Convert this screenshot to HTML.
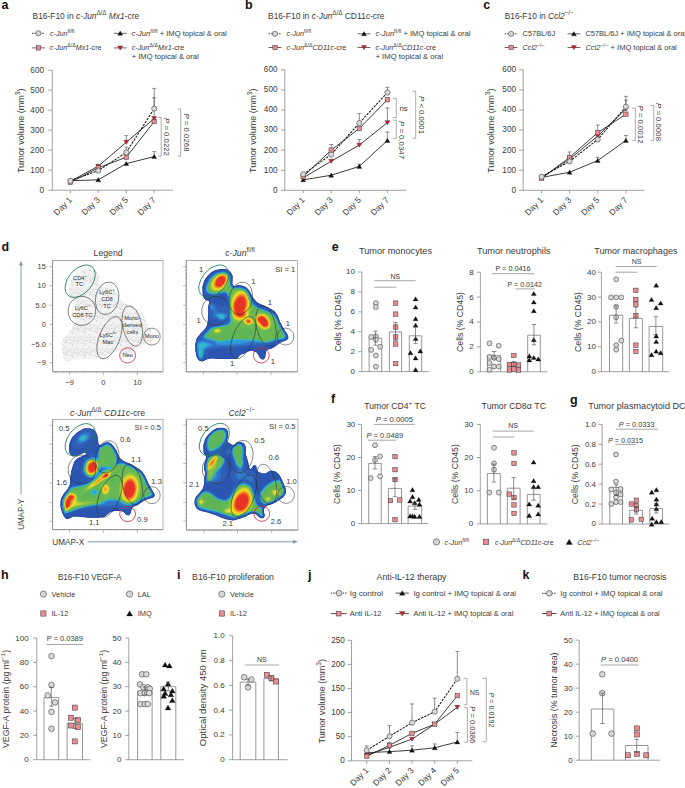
<!DOCTYPE html>
<html><head><meta charset="utf-8"><style>
html,body{margin:0;padding:0;background:#fff;width:685px;height:788px;overflow:hidden;}
svg{display:block;}
svg{fill:#3a3a3a;}
text{font-family:"Liberation Sans", sans-serif;}
</style></head><body>
<svg width="685" height="788" viewBox="0 0 685 788">
<rect width="685" height="788" fill="#fff"/>
<text x="1.40" y="9.20" font-size="12.5" font-weight="bold" fill="#111" >a</text>
<text x="32.60" y="19.00" font-size="8.8" textLength="106.50" lengthAdjust="spacingAndGlyphs" >B16-F10 in <tspan font-style="italic">c-Jun</tspan><tspan baseline-shift="0.62em" font-size="74%">Δ/Δ</tspan> <tspan font-style="italic">Mx1</tspan>-cre</text>
<line x1="32.00" y1="33.30" x2="44.80" y2="33.30" stroke="#222" stroke-width="0.9" stroke-dasharray="1.5,1.1"/>
<circle cx="38.40" cy="33.30" r="2.60" fill="#d8d8d8" stroke="#333333" stroke-width="0.55"/>
<text x="49.90" y="35.60" font-size="7.2" ><tspan font-style="italic">c-Jun</tspan><tspan baseline-shift="0.62em" font-size="74%">fl/fl</tspan></text>
<line x1="32.00" y1="47.90" x2="44.80" y2="47.90" stroke="#555" stroke-width="0.9" />
<rect x="36.20" y="45.70" width="4.40" height="4.40" fill="#e98c91" stroke="#333333" stroke-width="0.5"/>
<text x="49.90" y="50.20" font-size="7.2" textLength="51.60" lengthAdjust="spacingAndGlyphs" ><tspan font-style="italic">c-Jun</tspan><tspan baseline-shift="0.62em" font-size="74%">Δ/Δ</tspan><tspan font-style="italic">Mx1</tspan>-cre</text>
<line x1="113.80" y1="33.30" x2="126.60" y2="33.30" stroke="#555" stroke-width="0.9" />
<path d="M120.20,31.10 L122.70,35.28 L117.70,35.28 Z" fill="#111" stroke="#111" stroke-width="0.3"/>
<text x="131.70" y="35.60" font-size="7.2" textLength="95.00" lengthAdjust="spacingAndGlyphs" ><tspan font-style="italic">c-Jun</tspan><tspan baseline-shift="0.62em" font-size="74%">fl/fl</tspan> + IMQ topical &amp; oral</text>
<line x1="113.80" y1="47.90" x2="126.60" y2="47.90" stroke="#555" stroke-width="0.9" />
<path d="M120.20,50.10 L122.70,45.92 L117.70,45.92 Z" fill="#d7192a" stroke="#333" stroke-width="0.4"/>
<text x="131.70" y="50.20" font-size="7.2" textLength="52.50" lengthAdjust="spacingAndGlyphs" ><tspan font-style="italic">c-Jun</tspan><tspan baseline-shift="0.62em" font-size="74%">Δ/Δ</tspan><tspan font-style="italic">Mx1</tspan>-cre</text>
<text x="131.70" y="59.00" font-size="7.2" textLength="67.10" lengthAdjust="spacingAndGlyphs" >+ IMQ topical &amp; oral</text>
<text x="24.00" y="130.80" font-size="8.8" text-anchor="middle" textLength="84.50" lengthAdjust="spacingAndGlyphs" transform="rotate(-90 24.00 130.80)" >Tumor volume (mm<tspan baseline-shift="0.62em" font-size="74%">3</tspan>)</text>
<line x1="52.30" y1="70.20" x2="52.30" y2="190.20" stroke="#7a7a7a" stroke-width="0.7" />
<line x1="48.30" y1="190.20" x2="52.30" y2="190.20" stroke="#7a7a7a" stroke-width="0.7" />
<text x="44.00" y="192.60" font-size="8.2" text-anchor="end" >0</text>
<line x1="48.30" y1="170.20" x2="52.30" y2="170.20" stroke="#7a7a7a" stroke-width="0.7" />
<text x="44.00" y="172.60" font-size="8.2" text-anchor="end" >100</text>
<line x1="48.30" y1="150.20" x2="52.30" y2="150.20" stroke="#7a7a7a" stroke-width="0.7" />
<text x="44.00" y="152.60" font-size="8.2" text-anchor="end" >200</text>
<line x1="48.30" y1="130.20" x2="52.30" y2="130.20" stroke="#7a7a7a" stroke-width="0.7" />
<text x="44.00" y="132.60" font-size="8.2" text-anchor="end" >300</text>
<line x1="48.30" y1="110.20" x2="52.30" y2="110.20" stroke="#7a7a7a" stroke-width="0.7" />
<text x="44.00" y="112.60" font-size="8.2" text-anchor="end" >400</text>
<line x1="48.30" y1="90.20" x2="52.30" y2="90.20" stroke="#7a7a7a" stroke-width="0.7" />
<text x="44.00" y="92.60" font-size="8.2" text-anchor="end" >500</text>
<line x1="48.30" y1="70.20" x2="52.30" y2="70.20" stroke="#7a7a7a" stroke-width="0.7" />
<text x="44.00" y="72.60" font-size="8.2" text-anchor="end" >600</text>
<line x1="52.30" y1="190.20" x2="173.00" y2="190.20" stroke="#7a7a7a" stroke-width="0.7" />
<line x1="70.40" y1="190.20" x2="70.40" y2="193.20" stroke="#7a7a7a" stroke-width="0.7" />
<text x="72.60" y="200.40" font-size="8.4" text-anchor="end" transform="rotate(-45 72.60 200.40)" >Day 1</text>
<line x1="98.30" y1="190.20" x2="98.30" y2="193.20" stroke="#7a7a7a" stroke-width="0.7" />
<text x="100.50" y="200.40" font-size="8.4" text-anchor="end" transform="rotate(-45 100.50 200.40)" >Day 3</text>
<line x1="126.30" y1="190.20" x2="126.30" y2="193.20" stroke="#7a7a7a" stroke-width="0.7" />
<text x="128.50" y="200.40" font-size="8.4" text-anchor="end" transform="rotate(-45 128.50 200.40)" >Day 5</text>
<line x1="154.20" y1="190.20" x2="154.20" y2="193.20" stroke="#7a7a7a" stroke-width="0.7" />
<text x="156.40" y="200.40" font-size="8.4" text-anchor="end" transform="rotate(-45 156.40 200.40)" >Day 7</text>
<line x1="154.20" y1="156.60" x2="154.20" y2="151.60" stroke="#444" stroke-width="0.6" />
<line x1="152.20" y1="151.60" x2="156.20" y2="151.60" stroke="#444" stroke-width="0.6" />
<line x1="126.30" y1="142.20" x2="126.30" y2="135.60" stroke="#444" stroke-width="0.6" />
<line x1="124.30" y1="135.60" x2="128.30" y2="135.60" stroke="#444" stroke-width="0.6" />
<line x1="154.20" y1="121.60" x2="154.20" y2="97.80" stroke="#444" stroke-width="0.6" />
<line x1="152.20" y1="97.80" x2="156.20" y2="97.80" stroke="#444" stroke-width="0.6" />
<line x1="126.30" y1="152.40" x2="126.30" y2="147.20" stroke="#444" stroke-width="0.6" />
<line x1="124.30" y1="147.20" x2="128.30" y2="147.20" stroke="#444" stroke-width="0.6" />
<line x1="154.20" y1="108.60" x2="154.20" y2="88.40" stroke="#444" stroke-width="0.6" />
<line x1="152.20" y1="88.40" x2="156.20" y2="88.40" stroke="#444" stroke-width="0.6" />
<polyline points="70.40,180.80 98.30,179.80 126.30,163.60 154.20,156.60" fill="none" stroke="#1a1a1a" stroke-width="0.85" />
<polyline points="70.40,181.20 98.30,166.20 126.30,142.20 154.20,118.60" fill="none" stroke="#1a1a1a" stroke-width="0.85" />
<polyline points="70.40,182.40 98.30,167.80 126.30,157.20 154.20,121.60" fill="none" stroke="#1a1a1a" stroke-width="0.85" />
<polyline points="70.40,180.80 98.30,170.60 126.30,152.40 154.20,108.60" fill="none" stroke="#1a1a1a" stroke-width="1.05" stroke-dasharray="2.4,1.1"/>
<path d="M70.40,178.60 L72.90,182.78 L67.90,182.78 Z" fill="#111" stroke="#111" stroke-width="0.3"/>
<path d="M98.30,177.60 L100.80,181.78 L95.80,181.78 Z" fill="#111" stroke="#111" stroke-width="0.3"/>
<path d="M126.30,161.40 L128.80,165.58 L123.80,165.58 Z" fill="#111" stroke="#111" stroke-width="0.3"/>
<path d="M154.20,154.40 L156.70,158.58 L151.70,158.58 Z" fill="#111" stroke="#111" stroke-width="0.3"/>
<path d="M70.40,183.40 L72.90,179.22 L67.90,179.22 Z" fill="#d7192a" stroke="#333" stroke-width="0.4"/>
<path d="M98.30,168.40 L100.80,164.22 L95.80,164.22 Z" fill="#d7192a" stroke="#333" stroke-width="0.4"/>
<path d="M126.30,144.40 L128.80,140.22 L123.80,140.22 Z" fill="#d7192a" stroke="#333" stroke-width="0.4"/>
<path d="M154.20,120.80 L156.70,116.62 L151.70,116.62 Z" fill="#d7192a" stroke="#333" stroke-width="0.4"/>
<rect x="68.20" y="180.20" width="4.40" height="4.40" fill="#e98c91" stroke="#333333" stroke-width="0.5"/>
<rect x="96.10" y="165.60" width="4.40" height="4.40" fill="#e98c91" stroke="#333333" stroke-width="0.5"/>
<rect x="124.10" y="155.00" width="4.40" height="4.40" fill="#e98c91" stroke="#333333" stroke-width="0.5"/>
<rect x="152.00" y="119.40" width="4.40" height="4.40" fill="#e98c91" stroke="#333333" stroke-width="0.5"/>
<circle cx="70.40" cy="180.80" r="2.60" fill="#d8d8d8" stroke="#333333" stroke-width="0.55"/>
<circle cx="98.30" cy="170.60" r="2.60" fill="#d8d8d8" stroke="#333333" stroke-width="0.55"/>
<circle cx="126.30" cy="152.40" r="2.60" fill="#d8d8d8" stroke="#333333" stroke-width="0.55"/>
<circle cx="154.20" cy="108.60" r="2.60" fill="#d8d8d8" stroke="#333333" stroke-width="0.55"/>
<path d="M158.00,117.60 H161.20 V156.10 H158.00" fill="none" stroke="#888" stroke-width="0.7"/>
<path d="M177.50,109.00 H180.70 V156.10 H177.50" fill="none" stroke="#888" stroke-width="0.7"/>
<text x="164.40" y="137.00" font-size="7.8" text-anchor="middle" transform="rotate(90 164.40 137.00)" ><tspan font-style="italic">P</tspan> = 0.0222</text>
<text x="184.30" y="132.50" font-size="7.8" text-anchor="middle" transform="rotate(90 184.30 132.50)" ><tspan font-style="italic">P</tspan> = 0.0268</text>
<text x="245.00" y="9.20" font-size="12.5" font-weight="bold" fill="#111" >b</text>
<text x="268.00" y="19.00" font-size="8.8" textLength="116.50" lengthAdjust="spacingAndGlyphs" >B16-F10 in <tspan font-style="italic">c-Jun</tspan><tspan baseline-shift="0.62em" font-size="74%">Δ/Δ</tspan> CD11c-cre</text>
<line x1="268.60" y1="33.80" x2="281.40" y2="33.80" stroke="#222" stroke-width="0.9" stroke-dasharray="1.5,1.1"/>
<circle cx="275.00" cy="33.80" r="2.60" fill="#d8d8d8" stroke="#333333" stroke-width="0.55"/>
<text x="286.50" y="36.10" font-size="7.2" ><tspan font-style="italic">c-Jun</tspan><tspan baseline-shift="0.62em" font-size="74%">fl/fl</tspan></text>
<line x1="268.60" y1="47.50" x2="281.40" y2="47.50" stroke="#555" stroke-width="0.9" />
<rect x="272.80" y="45.30" width="4.40" height="4.40" fill="#e98c91" stroke="#333333" stroke-width="0.5"/>
<text x="286.50" y="49.80" font-size="7.2" textLength="59.80" lengthAdjust="spacingAndGlyphs" ><tspan font-style="italic">c-Jun</tspan><tspan baseline-shift="0.62em" font-size="74%">Δ/Δ</tspan><tspan font-style="italic">CD11c</tspan>-cre</text>
<line x1="357.60" y1="33.80" x2="370.40" y2="33.80" stroke="#555" stroke-width="0.9" />
<path d="M364.00,31.60 L366.50,35.78 L361.50,35.78 Z" fill="#111" stroke="#111" stroke-width="0.3"/>
<text x="375.50" y="36.10" font-size="7.2" textLength="95.00" lengthAdjust="spacingAndGlyphs" ><tspan font-style="italic">c-Jun</tspan><tspan baseline-shift="0.62em" font-size="74%">fl/fl</tspan> + IMQ topical &amp; oral</text>
<line x1="357.60" y1="47.50" x2="370.40" y2="47.50" stroke="#555" stroke-width="0.9" />
<path d="M364.00,49.70 L366.50,45.52 L361.50,45.52 Z" fill="#d7192a" stroke="#333" stroke-width="0.4"/>
<text x="375.50" y="49.80" font-size="7.2" textLength="60.50" lengthAdjust="spacingAndGlyphs" ><tspan font-style="italic">c-Jun</tspan><tspan baseline-shift="0.62em" font-size="74%">Δ/Δ</tspan><tspan font-style="italic">CD11c</tspan>-cre</text>
<text x="375.50" y="59.30" font-size="7.2" textLength="67.60" lengthAdjust="spacingAndGlyphs" >+ IMQ topical &amp; oral</text>
<text x="256.50" y="130.65" font-size="8.8" text-anchor="middle" textLength="84.50" lengthAdjust="spacingAndGlyphs" transform="rotate(-90 256.50 130.65)" >Tumor volume (mm<tspan baseline-shift="0.62em" font-size="74%">3</tspan>)</text>
<line x1="284.80" y1="69.80" x2="284.80" y2="190.30" stroke="#7a7a7a" stroke-width="0.7" />
<line x1="280.80" y1="190.30" x2="284.80" y2="190.30" stroke="#7a7a7a" stroke-width="0.7" />
<text x="277.50" y="192.70" font-size="8.2" text-anchor="end" >0</text>
<line x1="280.80" y1="170.22" x2="284.80" y2="170.22" stroke="#7a7a7a" stroke-width="0.7" />
<text x="277.50" y="172.62" font-size="8.2" text-anchor="end" >100</text>
<line x1="280.80" y1="150.13" x2="284.80" y2="150.13" stroke="#7a7a7a" stroke-width="0.7" />
<text x="277.50" y="152.53" font-size="8.2" text-anchor="end" >200</text>
<line x1="280.80" y1="130.05" x2="284.80" y2="130.05" stroke="#7a7a7a" stroke-width="0.7" />
<text x="277.50" y="132.45" font-size="8.2" text-anchor="end" >300</text>
<line x1="280.80" y1="109.97" x2="284.80" y2="109.97" stroke="#7a7a7a" stroke-width="0.7" />
<text x="277.50" y="112.37" font-size="8.2" text-anchor="end" >400</text>
<line x1="280.80" y1="89.88" x2="284.80" y2="89.88" stroke="#7a7a7a" stroke-width="0.7" />
<text x="277.50" y="92.28" font-size="8.2" text-anchor="end" >500</text>
<line x1="280.80" y1="69.80" x2="284.80" y2="69.80" stroke="#7a7a7a" stroke-width="0.7" />
<text x="277.50" y="72.20" font-size="8.2" text-anchor="end" >600</text>
<line x1="284.80" y1="190.30" x2="406.30" y2="190.30" stroke="#7a7a7a" stroke-width="0.7" />
<line x1="303.20" y1="190.30" x2="303.20" y2="193.30" stroke="#7a7a7a" stroke-width="0.7" />
<text x="305.40" y="200.50" font-size="8.4" text-anchor="end" transform="rotate(-45 305.40 200.50)" >Day 1</text>
<line x1="331.20" y1="190.30" x2="331.20" y2="193.30" stroke="#7a7a7a" stroke-width="0.7" />
<text x="333.40" y="200.50" font-size="8.4" text-anchor="end" transform="rotate(-45 333.40 200.50)" >Day 3</text>
<line x1="359.30" y1="190.30" x2="359.30" y2="193.30" stroke="#7a7a7a" stroke-width="0.7" />
<text x="361.50" y="200.50" font-size="8.4" text-anchor="end" transform="rotate(-45 361.50 200.50)" >Day 5</text>
<line x1="387.40" y1="190.30" x2="387.40" y2="193.30" stroke="#7a7a7a" stroke-width="0.7" />
<text x="389.60" y="200.50" font-size="8.4" text-anchor="end" transform="rotate(-45 389.60 200.50)" >Day 7</text>
<line x1="359.30" y1="166.40" x2="359.30" y2="164.19" stroke="#444" stroke-width="0.6" />
<line x1="357.30" y1="164.19" x2="361.30" y2="164.19" stroke="#444" stroke-width="0.6" />
<line x1="387.40" y1="140.49" x2="387.40" y2="132.06" stroke="#444" stroke-width="0.6" />
<line x1="385.40" y1="132.06" x2="389.40" y2="132.06" stroke="#444" stroke-width="0.6" />
<line x1="359.30" y1="145.11" x2="359.30" y2="139.49" stroke="#444" stroke-width="0.6" />
<line x1="357.30" y1="139.49" x2="361.30" y2="139.49" stroke="#444" stroke-width="0.6" />
<line x1="387.40" y1="122.62" x2="387.40" y2="107.96" stroke="#444" stroke-width="0.6" />
<line x1="385.40" y1="107.96" x2="389.40" y2="107.96" stroke="#444" stroke-width="0.6" />
<line x1="331.20" y1="150.13" x2="331.20" y2="144.51" stroke="#444" stroke-width="0.6" />
<line x1="329.20" y1="144.51" x2="333.20" y2="144.51" stroke="#444" stroke-width="0.6" />
<line x1="359.30" y1="123.02" x2="359.30" y2="113.58" stroke="#444" stroke-width="0.6" />
<line x1="357.30" y1="113.58" x2="361.30" y2="113.58" stroke="#444" stroke-width="0.6" />
<line x1="387.40" y1="92.49" x2="387.40" y2="87.27" stroke="#444" stroke-width="0.6" />
<line x1="385.40" y1="87.27" x2="389.40" y2="87.27" stroke="#444" stroke-width="0.6" />
<polyline points="303.20,179.86 331.20,175.24 359.30,166.40 387.40,140.49" fill="none" stroke="#1a1a1a" stroke-width="0.85" />
<polyline points="303.20,177.85 331.20,161.18 359.30,145.11 387.40,122.62" fill="none" stroke="#1a1a1a" stroke-width="0.85" />
<polyline points="303.20,176.64 331.20,150.13 359.30,128.44 387.40,99.72" fill="none" stroke="#1a1a1a" stroke-width="0.85" />
<polyline points="303.20,174.23 331.20,154.55 359.30,123.02 387.40,92.49" fill="none" stroke="#1a1a1a" stroke-width="1.05" stroke-dasharray="2.4,1.1"/>
<path d="M303.20,177.66 L305.70,181.84 L300.70,181.84 Z" fill="#111" stroke="#111" stroke-width="0.3"/>
<path d="M331.20,173.04 L333.70,177.22 L328.70,177.22 Z" fill="#111" stroke="#111" stroke-width="0.3"/>
<path d="M359.30,164.20 L361.80,168.38 L356.80,168.38 Z" fill="#111" stroke="#111" stroke-width="0.3"/>
<path d="M387.40,138.29 L389.90,142.47 L384.90,142.47 Z" fill="#111" stroke="#111" stroke-width="0.3"/>
<path d="M303.20,180.05 L305.70,175.87 L300.70,175.87 Z" fill="#d7192a" stroke="#333" stroke-width="0.4"/>
<path d="M331.20,163.38 L333.70,159.20 L328.70,159.20 Z" fill="#d7192a" stroke="#333" stroke-width="0.4"/>
<path d="M359.30,147.31 L361.80,143.13 L356.80,143.13 Z" fill="#d7192a" stroke="#333" stroke-width="0.4"/>
<path d="M387.40,124.82 L389.90,120.64 L384.90,120.64 Z" fill="#d7192a" stroke="#333" stroke-width="0.4"/>
<rect x="301.00" y="174.44" width="4.40" height="4.40" fill="#e98c91" stroke="#333333" stroke-width="0.5"/>
<rect x="329.00" y="147.93" width="4.40" height="4.40" fill="#e98c91" stroke="#333333" stroke-width="0.5"/>
<rect x="357.10" y="126.24" width="4.40" height="4.40" fill="#e98c91" stroke="#333333" stroke-width="0.5"/>
<rect x="385.20" y="97.52" width="4.40" height="4.40" fill="#e98c91" stroke="#333333" stroke-width="0.5"/>
<circle cx="303.20" cy="174.23" r="2.60" fill="#d8d8d8" stroke="#333333" stroke-width="0.55"/>
<circle cx="331.20" cy="154.55" r="2.60" fill="#d8d8d8" stroke="#333333" stroke-width="0.55"/>
<circle cx="359.30" cy="123.02" r="2.60" fill="#d8d8d8" stroke="#333333" stroke-width="0.55"/>
<circle cx="387.40" cy="92.49" r="2.60" fill="#d8d8d8" stroke="#333333" stroke-width="0.55"/>
<path d="M393.10,98.40 H396.30 V117.50 H393.10" fill="none" stroke="#888" stroke-width="0.7"/>
<text x="399.50" y="111.00" font-size="7.8" >ns</text>
<path d="M393.10,120.20 H396.30 V138.30 H393.10" fill="none" stroke="#888" stroke-width="0.7"/>
<path d="M412.50,91.30 H415.70 V138.30 H412.50" fill="none" stroke="#888" stroke-width="0.7"/>
<text x="399.00" y="140.00" font-size="7.8" text-anchor="middle" transform="rotate(90 399.00 140.00)" ><tspan font-style="italic">P</tspan> = 0.0347</text>
<text x="419.00" y="115.00" font-size="7.8" text-anchor="middle" transform="rotate(90 419.00 115.00)" ><tspan font-style="italic">P</tspan> &lt; 0.0001</text>
<text x="483.30" y="9.20" font-size="12.5" font-weight="bold" fill="#111" >c</text>
<text x="504.70" y="19.00" font-size="8.8" textLength="69.00" lengthAdjust="spacingAndGlyphs" >B16-F10 in <tspan font-style="italic">Ccl2</tspan><tspan baseline-shift="0.62em" font-size="74%">−/−</tspan></text>
<line x1="504.70" y1="33.80" x2="517.50" y2="33.80" stroke="#222" stroke-width="0.9" stroke-dasharray="1.5,1.1"/>
<circle cx="511.10" cy="33.80" r="2.60" fill="#d8d8d8" stroke="#333333" stroke-width="0.55"/>
<text x="522.60" y="36.10" font-size="7.2" textLength="32.50" lengthAdjust="spacingAndGlyphs" >C57BL/6J</text>
<line x1="504.70" y1="47.50" x2="517.50" y2="47.50" stroke="#555" stroke-width="0.9" />
<rect x="508.90" y="45.30" width="4.40" height="4.40" fill="#e98c91" stroke="#333333" stroke-width="0.5"/>
<text x="522.60" y="49.80" font-size="7.2" ><tspan font-style="italic">Ccl2</tspan><tspan baseline-shift="0.62em" font-size="74%">−/−</tspan></text>
<line x1="567.50" y1="33.80" x2="580.30" y2="33.80" stroke="#555" stroke-width="0.9" />
<path d="M573.90,31.60 L576.40,35.78 L571.40,35.78 Z" fill="#111" stroke="#111" stroke-width="0.3"/>
<text x="585.40" y="36.10" font-size="7.2" textLength="100.70" lengthAdjust="spacingAndGlyphs" >C57BL/6J + IMQ topical &amp; oral</text>
<line x1="567.50" y1="47.50" x2="580.30" y2="47.50" stroke="#555" stroke-width="0.9" />
<path d="M573.90,49.70 L576.40,45.52 L571.40,45.52 Z" fill="#d7192a" stroke="#333" stroke-width="0.4"/>
<text x="585.40" y="49.80" font-size="7.2" textLength="91.40" lengthAdjust="spacingAndGlyphs" ><tspan font-style="italic">Ccl2</tspan><tspan baseline-shift="0.62em" font-size="74%">−/−</tspan> + IMQ topical &amp; oral</text>
<text x="494.50" y="130.65" font-size="8.8" text-anchor="middle" textLength="84.50" lengthAdjust="spacingAndGlyphs" transform="rotate(-90 494.50 130.65)" >Tumor volume (mm<tspan baseline-shift="0.62em" font-size="74%">3</tspan>)</text>
<line x1="523.20" y1="69.80" x2="523.20" y2="190.30" stroke="#7a7a7a" stroke-width="0.7" />
<line x1="519.20" y1="190.30" x2="523.20" y2="190.30" stroke="#7a7a7a" stroke-width="0.7" />
<text x="516.00" y="192.70" font-size="8.2" text-anchor="end" >0</text>
<line x1="519.20" y1="170.22" x2="523.20" y2="170.22" stroke="#7a7a7a" stroke-width="0.7" />
<text x="516.00" y="172.62" font-size="8.2" text-anchor="end" >100</text>
<line x1="519.20" y1="150.13" x2="523.20" y2="150.13" stroke="#7a7a7a" stroke-width="0.7" />
<text x="516.00" y="152.53" font-size="8.2" text-anchor="end" >200</text>
<line x1="519.20" y1="130.05" x2="523.20" y2="130.05" stroke="#7a7a7a" stroke-width="0.7" />
<text x="516.00" y="132.45" font-size="8.2" text-anchor="end" >300</text>
<line x1="519.20" y1="109.97" x2="523.20" y2="109.97" stroke="#7a7a7a" stroke-width="0.7" />
<text x="516.00" y="112.37" font-size="8.2" text-anchor="end" >400</text>
<line x1="519.20" y1="89.88" x2="523.20" y2="89.88" stroke="#7a7a7a" stroke-width="0.7" />
<text x="516.00" y="92.28" font-size="8.2" text-anchor="end" >500</text>
<line x1="519.20" y1="69.80" x2="523.20" y2="69.80" stroke="#7a7a7a" stroke-width="0.7" />
<text x="516.00" y="72.20" font-size="8.2" text-anchor="end" >600</text>
<line x1="523.20" y1="190.30" x2="644.70" y2="190.30" stroke="#7a7a7a" stroke-width="0.7" />
<line x1="541.60" y1="190.30" x2="541.60" y2="193.30" stroke="#7a7a7a" stroke-width="0.7" />
<text x="543.80" y="200.50" font-size="8.4" text-anchor="end" transform="rotate(-45 543.80 200.50)" >Day 1</text>
<line x1="569.60" y1="190.30" x2="569.60" y2="193.30" stroke="#7a7a7a" stroke-width="0.7" />
<text x="571.80" y="200.50" font-size="8.4" text-anchor="end" transform="rotate(-45 571.80 200.50)" >Day 3</text>
<line x1="597.70" y1="190.30" x2="597.70" y2="193.30" stroke="#7a7a7a" stroke-width="0.7" />
<text x="599.90" y="200.50" font-size="8.4" text-anchor="end" transform="rotate(-45 599.90 200.50)" >Day 5</text>
<line x1="625.90" y1="190.30" x2="625.90" y2="193.30" stroke="#7a7a7a" stroke-width="0.7" />
<text x="628.10" y="200.50" font-size="8.4" text-anchor="end" transform="rotate(-45 628.10 200.50)" >Day 7</text>
<line x1="597.70" y1="160.58" x2="597.70" y2="157.36" stroke="#444" stroke-width="0.6" />
<line x1="595.70" y1="157.36" x2="599.70" y2="157.36" stroke="#444" stroke-width="0.6" />
<line x1="625.90" y1="140.49" x2="625.90" y2="135.47" stroke="#444" stroke-width="0.6" />
<line x1="623.90" y1="135.47" x2="627.90" y2="135.47" stroke="#444" stroke-width="0.6" />
<line x1="625.90" y1="108.96" x2="625.90" y2="100.13" stroke="#444" stroke-width="0.6" />
<line x1="623.90" y1="100.13" x2="627.90" y2="100.13" stroke="#444" stroke-width="0.6" />
<line x1="569.60" y1="157.36" x2="569.60" y2="151.94" stroke="#444" stroke-width="0.6" />
<line x1="567.60" y1="151.94" x2="571.60" y2="151.94" stroke="#444" stroke-width="0.6" />
<line x1="597.70" y1="132.66" x2="597.70" y2="125.03" stroke="#444" stroke-width="0.6" />
<line x1="595.70" y1="125.03" x2="599.70" y2="125.03" stroke="#444" stroke-width="0.6" />
<line x1="625.90" y1="106.75" x2="625.90" y2="96.31" stroke="#444" stroke-width="0.6" />
<line x1="623.90" y1="96.31" x2="627.90" y2="96.31" stroke="#444" stroke-width="0.6" />
<polyline points="541.60,177.45 569.60,172.23 597.70,160.58 625.90,140.49" fill="none" stroke="#1a1a1a" stroke-width="0.85" />
<polyline points="541.60,177.85 569.60,159.17 597.70,136.07 625.90,108.96" fill="none" stroke="#1a1a1a" stroke-width="0.85" />
<polyline points="541.60,178.25 569.60,157.36 597.70,132.66 625.90,114.18" fill="none" stroke="#1a1a1a" stroke-width="0.85" />
<polyline points="541.60,176.64 569.60,161.38 597.70,139.49 625.90,106.75" fill="none" stroke="#1a1a1a" stroke-width="1.05" stroke-dasharray="2.4,1.1"/>
<path d="M541.60,175.25 L544.10,179.43 L539.10,179.43 Z" fill="#111" stroke="#111" stroke-width="0.3"/>
<path d="M569.60,170.03 L572.10,174.21 L567.10,174.21 Z" fill="#111" stroke="#111" stroke-width="0.3"/>
<path d="M597.70,158.38 L600.20,162.56 L595.20,162.56 Z" fill="#111" stroke="#111" stroke-width="0.3"/>
<path d="M625.90,138.29 L628.40,142.47 L623.40,142.47 Z" fill="#111" stroke="#111" stroke-width="0.3"/>
<path d="M541.60,180.05 L544.10,175.87 L539.10,175.87 Z" fill="#d7192a" stroke="#333" stroke-width="0.4"/>
<path d="M569.60,161.37 L572.10,157.19 L567.10,157.19 Z" fill="#d7192a" stroke="#333" stroke-width="0.4"/>
<path d="M597.70,138.27 L600.20,134.09 L595.20,134.09 Z" fill="#d7192a" stroke="#333" stroke-width="0.4"/>
<path d="M625.90,111.16 L628.40,106.98 L623.40,106.98 Z" fill="#d7192a" stroke="#333" stroke-width="0.4"/>
<rect x="539.40" y="176.05" width="4.40" height="4.40" fill="#e98c91" stroke="#333333" stroke-width="0.5"/>
<rect x="567.40" y="155.16" width="4.40" height="4.40" fill="#e98c91" stroke="#333333" stroke-width="0.5"/>
<rect x="595.50" y="130.46" width="4.40" height="4.40" fill="#e98c91" stroke="#333333" stroke-width="0.5"/>
<rect x="623.70" y="111.98" width="4.40" height="4.40" fill="#e98c91" stroke="#333333" stroke-width="0.5"/>
<circle cx="541.60" cy="176.64" r="2.60" fill="#d8d8d8" stroke="#333333" stroke-width="0.55"/>
<circle cx="569.60" cy="161.38" r="2.60" fill="#d8d8d8" stroke="#333333" stroke-width="0.55"/>
<circle cx="597.70" cy="139.49" r="2.60" fill="#d8d8d8" stroke="#333333" stroke-width="0.55"/>
<circle cx="625.90" cy="106.75" r="2.60" fill="#d8d8d8" stroke="#333333" stroke-width="0.55"/>
<path d="M632.10,108.10 H635.30 V140.40 H632.10" fill="none" stroke="#888" stroke-width="0.7"/>
<path d="M650.60,105.40 H653.80 V140.30 H650.60" fill="none" stroke="#888" stroke-width="0.7"/>
<text x="637.80" y="124.50" font-size="7.8" text-anchor="middle" transform="rotate(90 637.80 124.50)" ><tspan font-style="italic">P</tspan> = 0.0012</text>
<text x="656.30" y="122.00" font-size="7.8" text-anchor="middle" transform="rotate(90 656.30 122.00)" ><tspan font-style="italic">P</tspan> = 0.0008</text>
<text x="1.50" y="251.00" font-size="12.5" font-weight="bold" fill="#111" >d</text>
<defs><pattern id="stip" width="12" height="12" patternUnits="userSpaceOnUse"><rect width="12" height="12" fill="#f3f3f3"/><circle cx="3.9" cy="1.8" r="0.53" fill="#c6c6c6"/><circle cx="9.9" cy="1.1" r="0.52" fill="#b4b4b4"/><circle cx="2.6" cy="1.0" r="0.48" fill="#c0c0c0"/><circle cx="1.1" cy="5.1" r="0.57" fill="#c6c6c6"/><circle cx="11.4" cy="7.6" r="0.52" fill="#c6c6c6"/><circle cx="6.9" cy="4.8" r="0.60" fill="#c6c6c6"/><circle cx="6.7" cy="1.6" r="0.48" fill="#b4b4b4"/><circle cx="1.4" cy="3.7" r="0.56" fill="#c0c0c0"/><circle cx="1.2" cy="6.9" r="0.44" fill="#c6c6c6"/><circle cx="6.6" cy="0.8" r="0.41" fill="#c0c0c0"/><circle cx="6.0" cy="6.4" r="0.56" fill="#cccccc"/><circle cx="7.0" cy="5.4" r="0.46" fill="#c0c0c0"/><circle cx="8.4" cy="2.9" r="0.51" fill="#b4b4b4"/><circle cx="5.9" cy="4.1" r="0.49" fill="#b4b4b4"/><circle cx="11.8" cy="1.4" r="0.48" fill="#c6c6c6"/><circle cx="1.8" cy="5.9" r="0.41" fill="#c6c6c6"/><circle cx="9.2" cy="6.9" r="0.58" fill="#c6c6c6"/><circle cx="4.1" cy="4.2" r="0.50" fill="#cccccc"/><circle cx="0.8" cy="1.1" r="0.45" fill="#c6c6c6"/><circle cx="0.7" cy="8.4" r="0.53" fill="#cccccc"/><circle cx="3.4" cy="4.6" r="0.53" fill="#c6c6c6"/><circle cx="11.3" cy="4.3" r="0.52" fill="#cccccc"/><circle cx="0.7" cy="9.2" r="0.43" fill="#c0c0c0"/><circle cx="4.8" cy="11.0" r="0.50" fill="#c0c0c0"/><circle cx="5.4" cy="6.6" r="0.58" fill="#cccccc"/><circle cx="10.4" cy="3.3" r="0.48" fill="#c6c6c6"/></pattern><filter id="sm" x="-5%" y="-5%" width="110%" height="110%"><feGaussianBlur stdDeviation="0.35"/></filter></defs>
<path d="M69.1,294.3 68.7,287.0 71.1,279.6 76.0,273.9 81.7,270.2 87.5,269.0 93.2,269.4 97.3,272.3 99.3,276.4 98.9,280.4 98.5,283.7 99.3,286.2 100.8,286.5 103.3,285.3 106.3,285.3 109.7,286.2 113.1,287.9 116.5,292.2 119.0,297.3 123.2,302.3 128.3,304.9 134.3,307.4 140.2,310.5 143.6,315.0 146.1,321.3 148.6,326.4 151.2,330.6 153.7,334.4 155.0,337.4 154.1,339.9 151.2,341.2 146.9,342.5 143.6,345.0 140.2,347.6 135.9,349.3 133.0,349.7 132.1,352.6 131.7,357.7 129.2,360.3 126.6,358.6 124.5,354.3 122.4,351.8 119.0,351.0 114.8,351.4 110.5,353.5 106.3,355.2 103.1,359.4 98.0,359.0 92.1,359.4 86.2,359.0 77.7,358.4 73.5,359.4 69.2,361.5 65.8,361.1 63.3,357.7 62.0,351.0 61.6,344.2 63.3,338.2 67.5,333.2 71.8,328.9 73.9,324.7 74.5,318.8 74.7,312.0 74.8,306.0 76.0,302.0 77.6,301.3 74.3,300.5 71.9,300.0 69.8,297.5Z" fill="url(#stip)"/>
<rect x="52.60" y="260.50" width="110.40" height="111.30" fill="none" stroke="#a8a8a8" stroke-width="0.9"/>
<line x1="52.60" y1="260.50" x2="52.60" y2="371.80" stroke="#8a8a8a" stroke-width="0.8" />
<line x1="52.60" y1="371.80" x2="163.00" y2="371.80" stroke="#8a8a8a" stroke-width="0.8" />
<line x1="49.40" y1="266.70" x2="52.60" y2="266.70" stroke="#8a8a8a" stroke-width="0.6" />
<line x1="49.40" y1="285.60" x2="52.60" y2="285.60" stroke="#8a8a8a" stroke-width="0.6" />
<line x1="49.40" y1="305.20" x2="52.60" y2="305.20" stroke="#8a8a8a" stroke-width="0.6" />
<line x1="49.40" y1="324.40" x2="52.60" y2="324.40" stroke="#8a8a8a" stroke-width="0.6" />
<line x1="49.40" y1="344.00" x2="52.60" y2="344.00" stroke="#8a8a8a" stroke-width="0.6" />
<line x1="49.40" y1="362.70" x2="52.60" y2="362.70" stroke="#8a8a8a" stroke-width="0.6" />
<line x1="51.00" y1="270.48" x2="52.60" y2="270.48" stroke="#9a9a9a" stroke-width="0.4" />
<line x1="51.00" y1="274.26" x2="52.60" y2="274.26" stroke="#9a9a9a" stroke-width="0.4" />
<line x1="51.00" y1="278.04" x2="52.60" y2="278.04" stroke="#9a9a9a" stroke-width="0.4" />
<line x1="51.00" y1="281.82" x2="52.60" y2="281.82" stroke="#9a9a9a" stroke-width="0.4" />
<line x1="51.00" y1="289.52" x2="52.60" y2="289.52" stroke="#9a9a9a" stroke-width="0.4" />
<line x1="51.00" y1="293.44" x2="52.60" y2="293.44" stroke="#9a9a9a" stroke-width="0.4" />
<line x1="51.00" y1="297.36" x2="52.60" y2="297.36" stroke="#9a9a9a" stroke-width="0.4" />
<line x1="51.00" y1="301.28" x2="52.60" y2="301.28" stroke="#9a9a9a" stroke-width="0.4" />
<line x1="51.00" y1="309.04" x2="52.60" y2="309.04" stroke="#9a9a9a" stroke-width="0.4" />
<line x1="51.00" y1="312.88" x2="52.60" y2="312.88" stroke="#9a9a9a" stroke-width="0.4" />
<line x1="51.00" y1="316.72" x2="52.60" y2="316.72" stroke="#9a9a9a" stroke-width="0.4" />
<line x1="51.00" y1="320.56" x2="52.60" y2="320.56" stroke="#9a9a9a" stroke-width="0.4" />
<line x1="51.00" y1="328.32" x2="52.60" y2="328.32" stroke="#9a9a9a" stroke-width="0.4" />
<line x1="51.00" y1="332.24" x2="52.60" y2="332.24" stroke="#9a9a9a" stroke-width="0.4" />
<line x1="51.00" y1="336.16" x2="52.60" y2="336.16" stroke="#9a9a9a" stroke-width="0.4" />
<line x1="51.00" y1="340.08" x2="52.60" y2="340.08" stroke="#9a9a9a" stroke-width="0.4" />
<line x1="51.00" y1="347.74" x2="52.60" y2="347.74" stroke="#9a9a9a" stroke-width="0.4" />
<line x1="51.00" y1="351.48" x2="52.60" y2="351.48" stroke="#9a9a9a" stroke-width="0.4" />
<line x1="51.00" y1="355.22" x2="52.60" y2="355.22" stroke="#9a9a9a" stroke-width="0.4" />
<line x1="51.00" y1="358.96" x2="52.60" y2="358.96" stroke="#9a9a9a" stroke-width="0.4" />
<line x1="69.60" y1="371.80" x2="69.60" y2="375.00" stroke="#8a8a8a" stroke-width="0.6" />
<line x1="103.30" y1="371.80" x2="103.30" y2="375.00" stroke="#8a8a8a" stroke-width="0.6" />
<line x1="137.40" y1="371.80" x2="137.40" y2="375.00" stroke="#8a8a8a" stroke-width="0.6" />
<line x1="56.00" y1="371.80" x2="56.00" y2="373.40" stroke="#9a9a9a" stroke-width="0.4" />
<line x1="62.80" y1="371.80" x2="62.80" y2="373.40" stroke="#9a9a9a" stroke-width="0.4" />
<line x1="76.40" y1="371.80" x2="76.40" y2="373.40" stroke="#9a9a9a" stroke-width="0.4" />
<line x1="83.20" y1="371.80" x2="83.20" y2="373.40" stroke="#9a9a9a" stroke-width="0.4" />
<line x1="90.00" y1="371.80" x2="90.00" y2="373.40" stroke="#9a9a9a" stroke-width="0.4" />
<line x1="96.60" y1="371.80" x2="96.60" y2="373.40" stroke="#9a9a9a" stroke-width="0.4" />
<line x1="110.10" y1="371.80" x2="110.10" y2="373.40" stroke="#9a9a9a" stroke-width="0.4" />
<line x1="116.90" y1="371.80" x2="116.90" y2="373.40" stroke="#9a9a9a" stroke-width="0.4" />
<line x1="123.70" y1="371.80" x2="123.70" y2="373.40" stroke="#9a9a9a" stroke-width="0.4" />
<line x1="130.60" y1="371.80" x2="130.60" y2="373.40" stroke="#9a9a9a" stroke-width="0.4" />
<line x1="144.20" y1="371.80" x2="144.20" y2="373.40" stroke="#9a9a9a" stroke-width="0.4" />
<line x1="151.00" y1="371.80" x2="151.00" y2="373.40" stroke="#9a9a9a" stroke-width="0.4" />
<line x1="157.80" y1="371.80" x2="157.80" y2="373.40" stroke="#9a9a9a" stroke-width="0.4" />
<text x="45.80" y="269.30" font-size="7.4" text-anchor="end" >15</text>
<text x="45.80" y="288.20" font-size="7.4" text-anchor="end" >10</text>
<text x="45.80" y="307.80" font-size="7.4" text-anchor="end" >5.0</text>
<text x="45.80" y="327.00" font-size="7.4" text-anchor="end" >0</text>
<text x="45.80" y="346.60" font-size="7.4" text-anchor="end" >−5.0</text>
<text x="45.80" y="365.30" font-size="7.4" text-anchor="end" >−9</text>
<text x="69.60" y="384.60" font-size="7.4" text-anchor="middle" >−9</text>
<text x="103.30" y="384.60" font-size="7.4" text-anchor="middle" >0</text>
<text x="137.40" y="384.60" font-size="7.4" text-anchor="middle" >10</text>
<ellipse cx="80.15" cy="281.20" rx="18.5" ry="12.0" transform="rotate(-50 80.15 281.20)" fill="none" stroke="#1f7a55" stroke-width="0.8"/>
<ellipse cx="107.10" cy="298.30" rx="11.6" ry="16.4" transform="rotate(12 107.10 298.30)" fill="none" stroke="#333" stroke-width="0.55"/>
<ellipse cx="81.90" cy="310.90" rx="13.9" ry="14.6" transform="rotate(10 81.90 310.90)" fill="none" stroke="#333" stroke-width="0.55"/>
<ellipse cx="109.50" cy="337.70" rx="10.2" ry="22.3" transform="rotate(22 109.50 337.70)" fill="none" stroke="#333" stroke-width="0.55"/>
<ellipse cx="132.30" cy="326.00" rx="9.6" ry="20.4" transform="rotate(-12 132.30 326.00)" fill="none" stroke="#333" stroke-width="0.55"/>
<ellipse cx="151.90" cy="336.60" rx="8.3" ry="8.5" transform="rotate(0 151.90 336.60)" fill="none" stroke="#333" stroke-width="0.55"/>
<ellipse cx="127.60" cy="355.40" rx="7.9" ry="7.6" transform="rotate(0 127.60 355.40)" fill="none" stroke="#c8283c" stroke-width="0.8"/>
<text x="80.00" y="280.30" font-size="5.7" text-anchor="middle" fill="#2e2e2e" >CD4<tspan baseline-shift="0.62em" font-size="74%">+</tspan></text>
<text x="79.40" y="286.30" font-size="5.7" text-anchor="middle" fill="#2e2e2e" >TC</text>
<text x="107.10" y="294.20" font-size="5.7" text-anchor="middle" fill="#2e2e2e" >Ly6C<tspan baseline-shift="0.62em" font-size="74%">+</tspan></text>
<text x="107.10" y="300.90" font-size="5.7" text-anchor="middle" fill="#2e2e2e" >CD8</text>
<text x="107.10" y="307.60" font-size="5.7" text-anchor="middle" fill="#2e2e2e" >TC</text>
<text x="82.50" y="310.20" font-size="5.7" text-anchor="middle" fill="#2e2e2e" >Ly6C<tspan baseline-shift="0.62em" font-size="74%">−</tspan></text>
<text x="82.40" y="316.50" font-size="5.7" text-anchor="middle" fill="#2e2e2e" >CD8 TC</text>
<text x="107.90" y="337.40" font-size="5.7" text-anchor="middle" fill="#2e2e2e" >Ly6C<tspan baseline-shift="0.62em" font-size="74%">hi</tspan></text>
<text x="107.90" y="343.70" font-size="5.7" text-anchor="middle" fill="#2e2e2e" >Mac</text>
<text x="132.30" y="320.20" font-size="5.7" text-anchor="middle" fill="#2e2e2e" >Mono-</text>
<text x="132.30" y="326.90" font-size="5.7" text-anchor="middle" fill="#2e2e2e" >derived</text>
<text x="132.30" y="333.70" font-size="5.7" text-anchor="middle" fill="#2e2e2e" >cells</text>
<text x="151.90" y="338.40" font-size="5.7" text-anchor="middle" fill="#2e2e2e" >Mono</text>
<text x="127.60" y="357.20" font-size="5.7" text-anchor="middle" fill="#2e2e2e" >Neu</text>
<text x="108.10" y="256.30" font-size="8.7" text-anchor="middle" >Legend</text>
<g filter="url(#sm)"><path fill-rule="evenodd" fill="#1e3c9c" d="M202.6,361.4 201.3,361.4 201.1,361.1 199.6,360.9 197.7,359.0 196.7,357.2 196.4,355.5 196.2,355.2 196.2,354.2 195.9,354.0 195.9,353.0 195.7,352.8 195.7,351.5 195.4,351.2 195.2,344.2 195.4,344.0 195.4,342.8 195.7,342.5 196.2,339.8 197.2,337.5 200.2,334.0 200.2,333.8 204.9,329.0 206.9,325.5 206.9,325.0 207.4,324.0 207.4,323.0 207.7,322.8 207.7,320.2 207.9,320.0 207.9,315.5 208.2,315.2 208.2,306.2 208.4,306.0 208.4,305.0 209.2,303.2 209.2,301.5 208.6,300.9 207.6,300.4 206.8,300.4 205.3,299.6 203.9,298.2 203.2,297.0 202.9,295.0 202.7,294.8 202.4,288.8 202.2,288.5 202.2,287.5 202.4,287.2 202.7,285.2 202.9,285.0 204.2,280.8 205.4,278.5 207.7,276.0 207.7,275.8 210.3,273.1 214.1,270.6 215.8,269.9 218.1,269.6 218.3,269.4 219.6,269.4 219.8,269.1 225.8,269.1 226.1,269.4 226.8,269.4 229.6,271.1 230.9,272.5 232.4,275.2 232.4,275.8 232.7,276.0 232.4,284.2 233.3,285.6 233.8,285.9 235.6,285.9 237.6,285.1 239.6,285.1 239.8,285.4 242.1,285.6 245.8,287.1 248.2,289.2 250.4,292.5 252.9,297.5 254.7,299.5 254.7,299.8 257.3,302.4 262.6,305.1 264.3,305.6 265.6,306.4 266.1,306.4 267.3,307.1 267.8,307.1 269.3,307.9 269.8,308.4 272.1,309.4 273.6,310.4 275.2,312.0 277.2,314.8 277.9,316.2 278.4,317.2 278.4,317.8 278.9,318.5 278.9,319.0 279.4,319.8 279.4,320.2 279.9,321.0 279.9,321.5 282.2,326.0 283.4,327.8 284.7,330.2 287.4,334.2 287.7,335.2 288.2,336.0 288.4,337.8 287.9,339.0 286.8,340.1 284.8,341.1 282.8,341.6 282.1,342.1 281.6,342.1 280.6,342.6 274.6,347.1 270.8,348.9 267.6,349.6 266.2,351.2 265.4,356.8 264.7,358.2 263.6,359.4 263.1,359.4 262.8,359.6 261.1,359.1 259.9,358.0 258.4,355.0 257.2,353.2 256.1,352.1 254.3,351.4 253.3,351.4 253.1,351.1 249.3,351.1 249.1,351.4 247.6,351.6 244.6,353.4 244.1,353.4 243.3,353.9 242.1,354.1 240.6,354.9 239.2,356.0 238.4,357.2 237.1,358.6 235.8,359.1 219.8,359.1 219.6,358.9 217.1,358.9 216.8,358.6 210.8,358.4 210.6,358.6 209.6,358.6 209.3,358.9 207.6,359.1 203.6,361.1 202.8,361.1 202.6,361.4Z"/><path fill-rule="evenodd" fill="#284baa" d="M202.6,361.1 201.6,361.2 199.6,360.6 198.0,359.0 197.0,357.2 195.6,351.0 195.4,344.5 196.4,340.0 197.5,337.5 200.5,333.8 205.1,329.2 207.1,325.7 207.9,322.8 207.9,320.5 208.1,320.0 208.1,315.8 208.4,315.2 208.4,306.5 209.4,303.2 209.4,301.5 208.7,300.8 205.3,299.3 204.2,298.2 203.5,297.0 202.9,294.5 202.6,288.8 202.4,288.2 202.9,285.5 204.5,280.8 205.2,279.2 208.0,275.8 210.3,273.4 214.1,270.9 217.1,269.8 218.1,269.8 220.1,269.3 225.6,269.3 226.6,269.6 228.6,270.7 230.6,272.5 232.1,275.2 232.5,276.2 232.2,284.2 233.1,285.8 233.8,286.1 235.6,286.1 237.8,285.3 239.3,285.3 241.8,285.8 245.8,287.4 247.9,289.2 250.1,292.5 252.8,297.7 254.6,299.9 257.1,302.5 262.4,305.2 269.3,308.2 273.6,310.7 274.9,312.0 276.9,314.8 278.1,317.2 279.8,321.7 282.1,326.2 287.1,334.2 288.0,336.2 288.2,337.5 287.6,339.0 286.8,339.8 284.8,340.8 282.8,341.4 280.4,342.5 275.3,346.3 272.1,348.1 269.8,348.9 268.1,349.2 267.4,349.5 266.3,350.6 266.0,351.2 265.1,356.8 264.4,358.2 263.6,359.1 262.6,359.4 261.1,358.8 260.2,358.0 258.6,354.8 256.2,352.0 255.1,351.4 253.1,350.9 249.3,350.9 247.4,351.5 244.6,353.1 240.4,354.8 239.1,355.8 238.1,357.2 237.1,358.3 235.6,358.9 220.1,358.9 219.6,358.7 214.3,358.4 213.8,358.2 210.8,358.2 207.6,358.9 203.6,360.8 202.6,361.1Z"/><path fill-rule="evenodd" fill="#2c55b1" d="M202.3,360.6 201.8,360.7 199.8,360.1 198.4,358.8 197.4,357.0 196.1,350.8 195.9,344.8 196.9,340.0 197.9,337.8 200.9,334.0 205.4,329.5 207.6,325.8 208.3,323.0 208.4,320.8 208.6,320.0 208.6,316.0 208.9,315.2 208.9,306.8 209.9,303.2 209.7,301.0 208.8,300.2 205.6,298.9 204.7,298.0 203.9,296.8 203.4,294.2 203.1,288.8 202.9,288.0 203.4,285.8 204.9,281.0 205.7,279.5 208.4,276.0 210.6,273.9 214.3,271.4 217.3,270.3 220.3,269.8 225.3,269.8 226.3,270.1 228.3,271.1 230.2,272.8 231.7,275.5 232.0,276.5 231.7,284.2 232.8,286.1 233.8,286.6 235.6,286.6 238.1,285.8 239.1,285.8 241.8,286.4 245.6,287.9 246.9,289.0 248.2,290.5 249.7,292.8 251.9,297.2 253.2,299.0 256.8,302.9 262.3,305.8 269.1,308.6 273.3,311.1 274.4,312.2 276.4,315.0 277.7,317.5 279.3,321.8 281.6,326.3 286.7,334.5 287.4,336.2 287.7,337.5 287.2,338.8 286.6,339.4 280.1,342.1 274.3,346.4 270.6,348.1 267.8,348.7 267.1,349.1 265.9,350.2 265.5,351.0 264.7,356.5 263.9,358.0 263.3,358.6 262.6,358.9 261.3,358.4 260.7,357.8 258.4,353.8 256.6,351.6 255.3,351.0 253.3,350.5 249.3,350.4 247.3,351.0 244.3,352.6 241.8,353.5 240.1,354.4 238.7,355.5 236.8,357.9 235.3,358.4 220.3,358.4 219.6,358.2 214.6,357.9 213.8,357.7 210.8,357.7 207.3,358.5 203.3,360.4 202.3,360.6Z"/><path fill-rule="evenodd" fill="#2f5eb7" d="M202.3,360.0 201.8,360.2 200.1,359.7 198.9,358.5 197.6,356.0 196.9,352.2 196.4,344.8 197.4,340.2 198.3,338.2 199.1,337.2 200.8,335.8 208.7,328.0 210.3,326.7 212.8,325.7 221.2,323.8 224.7,322.5 221.1,322.3 218.6,321.8 211.3,318.8 209.3,317.8 209.1,316.0 209.4,315.2 209.4,306.8 210.6,302.0 212.1,302.0 213.8,302.3 221.1,305.8 223.1,306.2 224.3,305.4 225.3,303.8 226.1,301.7 226.4,299.0 226.3,297.0 225.9,295.8 225.3,294.9 224.3,294.3 222.8,294.4 217.3,295.9 214.3,296.2 210.3,295.8 207.1,294.4 205.3,293.0 204.4,291.2 204.2,288.5 204.6,286.0 206.6,281.2 208.6,277.8 210.6,275.6 214.8,272.1 216.2,271.2 220.3,270.3 225.1,270.3 226.3,270.6 228.1,271.6 229.7,273.0 231.2,275.8 231.5,277.5 231.3,284.5 232.0,286.0 232.5,286.5 233.6,287.0 235.6,287.1 238.1,286.3 239.1,286.3 241.6,286.8 243.8,287.6 245.3,288.3 246.2,289.0 247.7,290.8 249.3,293.2 251.5,297.5 254.8,301.8 255.3,303.1 256.3,304.2 258.6,305.8 267.6,309.4 274.1,312.7 276.2,315.8 277.2,317.8 278.8,322.0 281.1,326.5 286.5,335.2 287.0,336.5 287.0,338.0 286.1,339.0 280.1,341.5 276.4,344.2 275.3,344.6 265.8,345.9 250.6,347.3 235.6,348.4 217.3,349.2 213.5,349.8 211.5,350.5 209.8,351.7 207.8,354.2 205.2,358.8 203.1,359.9 202.3,360.0Z"/><path fill-rule="evenodd" fill="#3074c7" d="M201.8,359.3 201.6,359.5 200.3,359.2 198.8,357.4 198.1,355.8 197.1,350.5 197.1,347.5 196.9,346.5 197.1,343.5 197.8,341.3 202.8,339.5 203.0,339.0 202.6,336.8 203.4,335.0 209.1,329.2 210.8,327.7 212.3,327.0 214.6,326.4 222.1,325.0 226.6,323.9 228.3,322.9 229.3,321.2 229.3,318.9 228.8,317.7 228.3,317.3 227.6,317.5 224.6,319.8 223.1,320.3 221.6,320.4 219.1,319.7 213.8,316.5 212.8,315.8 212.4,314.8 212.6,314.0 213.4,312.5 213.5,312.0 210.3,309.4 209.9,308.5 209.9,307.0 210.6,304.5 210.8,304.2 212.1,304.3 213.8,305.2 216.4,307.8 217.0,309.0 216.8,311.0 217.2,311.5 218.8,311.9 226.3,313.0 227.3,313.0 227.8,312.7 228.2,312.0 228.4,310.8 228.1,299.5 227.6,296.2 226.6,294.2 225.3,293.2 223.8,292.9 216.6,294.6 213.3,294.7 210.6,294.4 208.3,293.6 206.6,292.5 205.7,291.2 205.4,289.8 205.5,287.2 206.2,285.0 208.9,279.5 210.8,277.1 215.1,273.6 217.3,272.4 222.3,271.2 223.8,271.1 225.3,271.3 226.6,271.8 227.9,272.8 229.1,274.0 229.8,275.2 230.5,278.0 230.8,284.5 231.5,286.2 232.1,286.8 233.8,287.6 235.8,287.5 238.3,286.9 240.3,287.1 243.6,288.0 245.0,288.8 246.5,290.0 248.8,293.3 251.7,298.8 253.1,302.5 254.7,304.8 257.8,306.8 266.3,310.2 272.1,312.9 273.6,313.7 274.8,314.8 276.5,317.5 278.4,322.2 280.7,326.8 285.9,335.2 286.1,336.2 285.9,337.2 285.5,338.2 284.9,339.0 283.1,339.8 279.4,340.2 270.8,342.7 266.3,343.6 259.1,343.8 241.0,345.8 229.6,346.5 215.8,346.9 211.6,347.5 207.6,349.0 205.4,350.5 204.8,351.8 203.5,357.0 202.6,358.5 201.8,359.3Z"/><path fill-rule="evenodd" fill="#2d96d9" d="M231.1,344.8 221.3,344.9 216.8,344.5 216.1,344.1 216.1,343.0 215.0,342.0 212.7,341.0 205.1,338.7 204.0,338.0 203.5,337.0 203.8,335.8 204.6,334.5 209.8,329.2 211.3,328.1 215.1,326.8 222.6,325.5 226.8,324.5 228.8,323.3 229.9,321.5 230.1,319.5 229.3,314.8 228.6,298.8 228.1,295.8 227.2,294.0 225.8,292.8 224.1,292.3 222.6,292.5 216.6,294.0 213.6,294.1 210.8,293.9 208.8,293.2 207.3,292.3 206.4,291.2 206.1,290.0 206.1,287.8 206.5,285.8 209.0,280.5 210.5,278.2 213.1,275.9 216.3,273.5 218.6,272.6 222.1,271.9 224.1,271.9 225.8,272.4 227.5,273.5 228.8,275.0 229.4,276.2 229.8,277.8 230.4,284.8 231.3,286.5 232.0,287.2 233.8,287.9 235.8,287.9 238.1,287.5 240.8,287.7 243.5,288.5 245.4,289.5 246.2,290.2 248.6,293.6 250.5,297.5 252.3,302.5 253.3,304.2 254.3,305.2 257.8,307.4 265.8,310.6 271.3,313.1 273.1,314.1 274.2,315.0 276.3,318.0 278.1,322.4 280.4,327.0 285.5,335.5 285.1,337.5 284.6,338.3 283.8,338.7 278.9,339.5 266.6,342.8 264.1,342.9 256.3,341.9 252.1,341.8 249.8,342.1 242.5,343.8 231.1,344.8ZM213.3,308.8 212.1,308.5 211.0,307.8 210.4,307.0 210.6,306.0 211.6,305.7 212.7,306.2 213.8,308.0 213.7,308.5 213.3,308.8ZM223.1,319.3 221.1,319.4 219.3,318.6 215.9,315.8 215.5,315.0 215.7,314.5 217.1,313.7 219.8,313.4 222.8,313.7 225.0,314.5 225.8,315.5 225.6,317.0 224.5,318.5 223.1,319.3ZM200.8,358.3 200.1,358.3 199.6,357.9 198.5,355.8 198.0,353.2 197.9,349.5 197.2,346.5 197.6,343.5 198.8,342.6 200.3,342.0 201.8,341.6 203.6,341.6 206.8,342.2 213.0,344.2 213.1,344.5 212.5,345.0 205.8,348.1 204.2,349.2 203.5,350.8 203.2,354.2 202.7,356.2 201.8,357.7 200.8,358.3Z"/><path fill-rule="evenodd" fill="#2db5db" d="M266.6,342.3 263.6,342.3 256.3,340.9 252.6,340.5 236.6,340.3 229.1,340.6 221.8,342.3 219.8,342.4 206.3,338.4 204.6,337.5 204.3,337.0 204.2,336.2 204.9,335.0 210.2,329.5 211.5,328.5 213.1,327.8 215.6,327.1 222.8,326.0 227.3,324.9 228.6,324.2 229.6,323.3 230.2,322.2 230.5,321.0 230.6,319.2 230.0,314.0 229.1,298.5 228.5,295.5 227.5,293.5 225.9,292.2 224.1,291.8 222.6,292.0 216.8,293.5 211.6,293.5 209.8,293.1 208.1,292.3 207.2,291.5 206.6,290.5 206.5,288.5 206.8,286.5 209.5,280.5 211.3,278.0 215.1,274.8 217.6,273.4 221.8,272.4 224.3,272.4 226.6,273.4 228.1,274.8 229.0,276.5 229.5,278.5 230.0,284.2 230.9,286.5 231.6,287.3 233.6,288.2 238.3,288.0 241.1,288.2 243.3,288.9 245.1,289.8 246.7,291.5 248.3,293.8 249.7,296.8 251.9,302.8 252.8,304.3 253.9,305.5 257.6,307.8 265.8,311.1 271.5,313.8 273.3,314.8 274.6,316.2 276.6,319.4 277.8,322.5 280.1,327.2 284.9,335.0 284.8,336.8 284.2,337.8 283.3,338.3 278.8,338.9 266.6,342.3ZM222.6,318.5 221.1,318.5 219.6,317.8 218.1,316.0 218.0,315.5 218.2,315.0 219.2,314.5 220.8,314.3 222.6,314.6 223.8,315.2 224.3,316.0 224.3,317.0 223.6,318.0 222.6,318.5ZM200.8,357.1 200.1,357.1 199.6,356.7 198.8,355.2 198.6,353.0 199.0,349.0 198.3,346.2 198.3,345.2 199.2,344.0 201.1,343.1 203.1,342.8 205.4,343.2 207.0,344.0 207.5,344.5 207.5,345.0 207.0,345.8 203.8,347.8 202.8,348.8 202.4,350.0 202.5,353.2 202.3,354.9 201.8,356.2 200.8,357.1Z"/><path fill-rule="evenodd" fill="#40b8b0" d="M265.3,342.0 263.1,341.8 256.6,340.3 252.8,339.9 236.8,339.6 228.8,339.9 221.8,341.5 219.8,341.7 206.7,338.0 205.6,337.5 204.9,337.0 204.8,336.0 205.4,335.0 210.5,329.8 211.8,328.8 213.4,328.0 215.8,327.3 223.1,326.4 227.3,325.4 228.6,324.7 229.7,323.8 230.5,322.5 230.9,321.2 231.0,319.2 229.8,307.0 229.4,298.2 228.7,295.0 227.8,293.2 226.1,291.9 224.1,291.4 216.8,293.2 211.8,293.2 210.1,292.8 208.6,292.1 207.6,291.3 207.1,290.4 206.8,288.8 207.1,286.8 209.8,280.5 211.5,278.2 215.6,274.8 218.1,273.5 222.1,272.7 224.3,272.7 226.3,273.6 227.8,275.0 228.8,276.8 229.2,278.8 229.7,284.5 230.7,286.8 231.4,287.5 232.7,288.2 233.6,288.5 238.6,288.3 241.1,288.6 243.1,289.2 244.8,290.1 246.3,291.5 248.1,294.0 249.2,296.2 251.7,303.0 252.7,304.8 253.8,305.9 257.3,308.1 265.8,311.5 271.2,314.0 273.1,315.1 274.3,316.5 276.3,319.7 277.6,322.8 281.5,330.2 284.3,334.5 284.6,335.5 284.4,336.5 283.8,337.5 283.1,337.9 278.8,338.5 268.2,341.5 265.3,342.0ZM222.3,317.6 221.6,317.7 220.5,317.2 220.0,316.5 220.0,315.8 221.3,315.4 222.6,315.8 223.0,316.8 222.8,317.2 222.3,317.6ZM201.3,347.8 200.6,347.6 200.1,346.8 200.0,345.8 200.3,345.0 201.1,344.5 202.3,344.2 203.3,344.2 204.3,344.8 204.4,345.2 204.1,345.8 201.3,347.8ZM200.6,356.1 200.1,355.9 199.6,355.3 199.2,353.5 199.6,351.6 200.1,350.5 200.6,350.0 200.8,350.0 201.3,350.7 201.9,353.2 201.6,355.1 201.1,355.8 200.6,356.1Z"/><path fill-rule="evenodd" fill="#5db559" d="M266.3,341.5 263.5,341.5 256.6,339.8 252.8,339.3 237.1,339.0 228.8,339.3 221.8,340.9 219.8,341.0 207.1,337.5 205.6,336.8 205.5,336.0 206.1,335.0 212.1,329.0 213.7,328.2 216.1,327.6 223.3,326.8 227.6,325.8 228.8,325.2 230.1,324.1 230.9,322.8 231.3,321.5 231.3,319.2 230.0,306.2 229.7,298.0 229.1,295.0 228.2,293.0 226.6,291.6 224.3,291.0 222.8,291.2 216.8,292.9 214.6,293.0 211.8,292.8 210.3,292.5 208.8,291.8 207.9,291.0 207.5,290.2 207.2,288.5 207.6,286.5 210.1,280.8 211.7,278.5 215.5,275.2 218.1,273.8 221.8,273.0 224.1,273.0 226.1,273.8 227.6,275.2 228.5,276.8 229.0,279.0 229.3,284.8 230.0,286.2 231.3,287.7 232.8,288.6 234.1,288.9 238.6,288.7 241.1,288.9 242.8,289.4 244.6,290.3 246.3,291.9 248.2,294.8 251.5,303.2 252.4,305.0 253.6,306.3 257.1,308.5 265.5,311.8 270.3,314.0 272.5,315.2 273.8,316.6 275.8,319.8 281.0,330.5 283.6,334.2 284.0,335.2 283.9,336.2 283.6,336.9 282.8,337.3 278.3,338.1 266.3,341.5ZM200.6,353.8 200.6,353.4 200.6,353.8Z"/><path fill-rule="evenodd" fill="#67b852" d="M266.6,340.8 265.1,341.0 263.2,340.8 256.3,338.6 252.6,337.9 242.0,337.2 238.8,336.8 239.2,336.5 241.3,336.3 252.1,335.7 254.2,335.2 255.3,334.8 255.6,334.0 254.9,332.8 252.0,330.0 250.3,329.0 247.8,328.6 244.8,328.5 239.3,330.1 236.1,330.4 232.6,329.8 230.6,328.9 229.6,328.2 229.4,327.8 229.5,327.2 231.7,323.5 232.0,321.0 230.5,307.2 230.2,296.8 229.8,294.0 229.1,292.2 228.3,291.2 227.6,290.7 225.1,290.2 223.1,290.5 217.1,292.3 215.1,292.4 212.6,292.3 211.1,292.0 209.6,291.3 208.6,290.5 208.2,289.8 208.1,288.2 208.3,286.7 210.6,281.0 212.2,278.8 215.6,275.7 218.1,274.3 221.8,273.4 224.1,273.4 226.1,274.3 227.5,275.8 228.2,277.2 228.6,279.8 228.7,285.5 229.3,287.2 230.3,288.4 231.6,289.2 233.1,289.7 239.8,289.3 242.2,289.8 244.3,290.8 246.0,292.2 247.8,295.0 251.5,304.5 252.6,306.3 254.1,307.9 255.6,309.1 257.1,309.8 263.6,311.8 267.2,313.2 271.2,315.5 272.8,317.0 274.8,320.8 275.6,323.2 276.0,325.5 275.7,327.8 273.8,332.5 273.6,333.8 273.9,334.2 274.6,334.7 277.1,335.5 277.7,336.0 277.0,336.8 274.4,338.0 269.9,339.8 266.6,340.8ZM217.6,336.0 215.6,335.9 213.6,335.4 212.1,334.9 211.1,334.2 210.7,333.2 210.8,332.2 211.4,330.8 212.2,329.8 214.6,328.5 218.1,327.7 222.3,328.0 224.2,328.5 225.0,329.0 225.3,330.0 225.1,331.2 224.7,332.2 223.7,333.5 222.3,334.6 220.8,335.3 219.1,335.9 217.6,336.0ZM209.6,335.8 209.1,336.0 208.5,335.8 209.3,335.4 209.6,335.5 209.6,335.8ZM221.6,339.5 220.3,339.7 219.0,339.5 217.3,338.5 217.1,337.8 218.1,337.4 220.3,337.2 224.8,337.2 226.2,337.5 225.2,338.2 221.6,339.5Z"/><path fill-rule="evenodd" fill="#8ac346" d="M216.8,291.5 214.8,291.5 212.8,291.1 211.5,290.5 210.6,289.4 210.0,287.8 210.0,286.0 210.5,283.8 211.4,281.5 212.2,280.0 213.4,278.5 215.8,276.2 217.6,275.0 219.6,274.3 221.8,273.8 223.6,273.8 224.8,274.1 226.9,275.8 227.5,276.8 227.9,278.0 228.1,281.8 227.3,285.5 225.9,287.5 224.0,289.0 219.9,290.8 216.8,291.5ZM265.8,330.8 263.1,330.7 260.6,329.6 258.6,328.1 255.3,324.7 254.3,324.0 253.6,324.1 250.1,325.5 247.6,325.6 245.1,324.6 242.1,322.0 236.6,322.1 234.8,321.6 233.8,320.9 232.8,318.9 231.9,315.0 231.1,307.8 230.9,303.0 231.2,298.2 231.7,295.8 232.7,293.8 234.4,291.8 235.8,290.9 237.6,290.2 239.3,290.0 241.3,290.2 243.0,290.8 244.3,291.5 246.6,294.0 248.3,297.4 251.1,306.2 251.2,307.8 250.5,311.5 250.4,314.8 250.6,316.0 251.6,317.0 252.6,317.5 253.3,317.5 255.6,315.1 257.1,314.0 259.1,313.1 261.3,312.8 263.6,313.1 265.8,313.9 268.0,315.2 269.4,316.8 270.7,318.8 271.5,321.0 271.8,323.2 271.5,325.2 270.7,327.2 269.3,329.0 267.8,330.1 265.8,330.8ZM218.8,333.3 216.6,333.4 214.6,332.8 213.8,332.2 213.3,331.5 213.4,330.2 214.4,329.2 216.6,328.5 218.8,328.4 220.6,328.9 221.5,330.0 221.5,331.2 220.5,332.5 218.8,333.3Z"/><path fill-rule="evenodd" fill="#bfd337" d="M218.1,290.5 216.3,290.7 214.6,290.5 213.2,289.8 212.3,288.8 211.6,287.2 211.4,285.5 211.6,283.8 212.2,281.8 213.1,280.0 214.2,278.5 215.9,276.8 217.6,275.5 219.3,274.8 221.6,274.2 223.3,274.1 224.6,274.4 226.4,275.8 227.5,277.8 227.7,280.8 227.1,283.7 225.8,285.8 223.6,288.1 221.1,289.6 218.1,290.5ZM249.8,324.8 247.8,324.9 245.8,324.1 244.7,323.0 243.6,320.9 242.8,320.3 237.8,320.2 235.1,319.5 233.8,318.6 232.8,316.7 232.1,313.2 231.4,307.0 231.4,303.0 231.9,299.5 232.8,296.9 234.6,294.3 236.6,292.2 238.6,291.1 239.8,290.8 241.3,290.9 242.8,291.3 244.1,291.9 245.3,293.1 246.6,294.7 248.1,298.0 249.5,303.0 249.9,305.2 249.7,306.8 248.8,311.0 248.7,316.2 249.2,317.0 252.3,319.2 252.9,320.0 253.3,321.0 253.1,322.0 252.3,323.2 251.1,324.2 249.8,324.8ZM265.3,329.5 262.8,329.1 260.6,327.8 256.9,324.0 255.0,321.2 254.8,319.5 255.5,317.2 256.8,315.6 258.6,314.5 260.3,313.9 261.8,313.8 263.6,314.1 265.1,314.6 266.4,315.5 267.7,316.8 269.9,320.2 270.7,323.2 270.5,324.8 270.0,326.2 269.2,327.5 268.1,328.6 266.8,329.2 265.3,329.5ZM218.3,332.5 216.8,332.6 215.3,332.1 214.5,331.2 214.5,330.2 215.2,329.5 216.6,329.0 218.1,328.9 219.4,329.2 220.2,330.0 220.3,331.0 219.6,332.0 218.3,332.5Z"/><path fill-rule="evenodd" fill="#e9e123" d="M218.6,289.8 217.1,289.9 215.6,289.8 214.3,289.2 213.3,288.2 212.6,287.0 212.3,285.2 212.4,283.5 212.9,281.8 213.8,280.0 214.8,278.5 216.2,277.0 217.8,275.8 219.5,275.0 221.5,274.5 223.1,274.4 224.3,274.7 226.1,275.8 227.1,277.5 227.3,280.2 226.8,282.8 225.4,285.2 223.3,287.4 221.1,288.8 218.6,289.8ZM249.8,324.3 247.8,324.4 245.9,323.5 244.9,322.2 244.3,319.9 243.8,319.3 238.8,319.4 236.3,318.9 234.1,317.5 233.0,315.5 232.3,312.0 231.8,307.0 231.8,303.5 232.4,300.5 233.5,297.8 235.3,295.1 237.5,293.0 239.6,291.9 240.8,291.6 242.1,291.7 243.3,292.1 244.3,292.7 246.6,295.5 247.9,298.5 248.8,302.0 249.1,304.5 248.9,306.2 247.8,310.8 247.5,316.8 248.1,317.5 250.1,318.4 251.3,319.2 252.0,320.2 252.3,321.2 252.1,322.2 251.7,323.0 250.9,323.8 249.8,324.3ZM265.8,328.8 263.6,328.6 261.6,327.6 257.4,323.2 256.2,321.5 255.7,319.8 256.0,318.0 257.1,316.3 258.6,315.2 260.1,314.6 261.6,314.4 263.1,314.6 264.6,315.1 265.8,315.9 267.0,317.0 269.2,320.2 270.0,323.0 269.7,325.5 269.0,326.8 268.1,327.8 267.1,328.4 265.8,328.8ZM218.3,331.8 217.1,332.0 216.1,331.7 215.4,331.0 215.5,330.2 216.0,329.8 217.1,329.4 218.1,329.5 218.8,329.7 219.3,330.2 219.3,330.8 219.1,331.3 218.3,331.8Z"/><path fill-rule="evenodd" fill="#f4ca20" d="M218.8,289.0 217.3,289.2 216.0,289.0 214.8,288.4 213.9,287.5 213.3,286.2 213.1,284.8 213.2,283.2 213.7,281.5 215.5,278.5 216.9,277.0 218.2,276.0 219.8,275.3 221.6,274.8 223.1,274.7 224.3,275.0 225.8,276.1 226.8,277.8 227.0,280.0 226.5,282.2 225.2,284.5 223.3,286.6 221.1,288.2 218.8,289.0ZM242.1,318.5 239.6,318.7 237.6,318.4 235.8,317.7 234.3,316.5 233.6,315.3 233.1,313.7 232.2,306.8 232.3,304.1 232.7,301.8 233.5,299.5 234.8,297.2 236.3,295.4 238.1,293.8 239.8,292.9 241.6,292.6 242.8,292.7 243.8,293.2 245.1,294.3 246.1,295.5 247.6,298.9 248.4,303.2 248.1,305.8 246.9,310.5 246.9,314.2 246.4,316.2 245.3,317.8 242.1,318.5ZM265.3,328.3 263.6,328.0 261.8,327.0 257.8,322.7 256.8,321.2 256.4,319.8 256.6,318.0 257.4,316.8 258.8,315.6 260.1,315.1 261.6,314.9 263.1,315.1 264.3,315.6 266.4,317.2 268.8,320.8 269.5,323.2 269.5,324.5 269.1,325.8 268.4,326.8 267.6,327.5 266.6,328.0 265.3,328.3ZM249.1,324.0 247.0,323.8 246.1,323.0 245.5,322.2 245.2,321.2 245.3,320.0 245.6,319.0 246.3,318.4 247.8,318.3 249.6,318.7 250.8,319.5 251.5,320.5 251.7,321.8 251.2,322.8 250.3,323.6 249.1,324.0ZM217.6,330.8 217.1,330.8 217.0,330.5 217.6,330.5 217.6,330.8Z"/><path fill-rule="evenodd" fill="#f5a422" d="M219.1,288.3 217.8,288.5 216.6,288.3 215.3,287.8 214.5,287.0 214.0,285.8 213.8,284.5 214.3,281.5 216.1,278.5 218.6,276.3 221.6,275.2 222.8,275.1 224.1,275.3 225.4,276.2 226.3,277.8 226.6,279.8 226.0,282.0 224.9,284.0 223.2,286.0 221.3,287.4 219.1,288.3ZM241.3,318.0 239.3,318.0 237.3,317.6 235.7,316.8 234.6,315.6 233.8,314.2 233.3,312.2 232.8,308.9 232.7,306.2 232.9,304.0 233.4,301.8 234.4,299.5 235.6,297.6 237.1,295.8 238.6,294.6 240.3,293.8 241.8,293.6 243.1,293.8 244.1,294.3 245.1,295.2 246.0,296.5 247.3,299.8 247.7,303.2 247.4,305.8 246.1,310.5 246.2,314.0 245.8,315.5 245.2,316.5 244.3,317.2 241.3,318.0ZM265.6,327.8 263.8,327.6 262.3,326.8 257.4,321.2 256.9,319.8 257.0,318.2 257.8,317.0 259.1,316.0 260.3,315.5 261.6,315.4 262.8,315.5 264.1,316.0 265.9,317.5 268.3,320.8 269.1,323.0 268.8,325.2 267.6,326.9 266.6,327.5 265.6,327.8ZM249.6,323.5 248.6,323.7 247.6,323.5 246.2,322.5 245.8,321.8 245.8,320.8 246.0,320.0 246.6,319.3 247.6,318.9 248.8,319.0 250.0,319.5 250.8,320.2 251.1,321.0 251.1,322.0 250.6,322.9 249.6,323.5Z"/><path fill-rule="evenodd" fill="#f17624" d="M219.1,287.6 216.8,287.5 215.9,287.0 215.2,286.2 214.7,285.2 214.5,284.0 215.1,281.2 216.6,278.8 218.8,276.8 221.3,275.7 222.6,275.6 223.8,275.8 225.1,276.7 225.8,278.0 226.0,279.8 225.5,281.8 224.4,283.8 222.8,285.5 221.1,286.8 219.1,287.6ZM241.8,317.3 240.1,317.4 238.3,317.1 236.8,316.4 235.5,315.2 234.7,314.0 234.2,312.2 233.6,309.2 233.4,307.0 233.5,304.8 234.0,302.8 234.7,300.8 235.8,298.8 237.1,297.2 238.6,295.9 240.1,295.2 241.6,294.9 243.6,295.4 245.3,297.0 246.4,299.5 246.8,302.5 246.5,305.5 245.2,310.5 245.2,314.8 244.8,315.5 244.1,316.3 241.8,317.3ZM265.3,327.3 263.8,327.0 262.6,326.3 257.9,321.0 257.5,319.8 257.6,318.5 258.3,317.2 259.3,316.4 261.6,315.9 263.9,316.5 265.6,318.0 267.9,321.2 268.6,323.2 268.3,325.2 267.1,326.7 265.3,327.3ZM249.3,323.0 247.8,323.1 246.7,322.2 246.4,321.0 247.1,319.9 247.8,319.6 248.8,319.6 249.6,319.9 250.2,320.5 250.5,321.2 250.4,322.0 250.1,322.6 249.3,323.0Z"/><path fill-rule="evenodd" fill="#ed4f26" d="M219.3,286.8 217.3,286.8 216.4,286.2 215.8,285.6 215.3,283.8 215.8,281.2 217.3,278.8 219.3,277.1 221.6,276.2 223.6,276.4 224.7,277.2 225.3,278.5 225.3,280.0 224.9,281.8 223.9,283.5 222.6,285.0 221.1,286.1 219.3,286.8ZM242.1,316.5 240.6,316.7 238.9,316.5 237.6,315.9 236.5,315.0 235.7,313.8 235.1,312.0 234.4,309.2 234.2,307.2 234.3,305.2 234.7,303.2 236.2,299.8 237.3,298.3 238.6,297.1 239.8,296.4 241.3,296.1 243.1,296.5 244.6,297.8 245.6,299.8 246.0,302.5 245.7,305.8 244.3,310.5 244.3,314.5 243.5,315.8 242.1,316.5ZM265.3,326.8 264.1,326.6 262.8,325.8 258.4,320.8 258.0,319.5 258.1,318.5 258.7,317.5 259.6,316.8 261.6,316.3 262.8,316.5 263.8,317.0 265.2,318.2 267.5,321.5 268.1,323.2 267.9,325.0 266.8,326.3 265.3,326.8ZM248.8,322.6 247.8,322.4 247.2,321.8 247.1,321.0 247.8,320.3 248.9,320.2 249.8,321.0 249.7,322.0 248.8,322.6Z"/><path fill-rule="evenodd" fill="#e83228" d="M219.1,286.3 217.3,286.0 216.2,285.0 215.9,283.2 216.4,281.0 217.8,279.0 219.6,277.5 221.6,276.8 223.3,277.0 224.3,277.8 224.8,279.0 224.7,280.5 224.2,282.0 223.3,283.5 222.1,284.8 220.6,285.8 219.1,286.3ZM241.6,316.0 240.3,316.1 239.1,315.9 237.8,315.3 237.1,314.5 236.3,313.1 235.4,310.2 234.8,306.8 235.3,303.2 236.8,300.0 237.8,298.8 239.1,297.8 240.3,297.2 241.3,297.1 242.9,297.5 244.2,298.8 245.1,300.6 245.4,303.0 245.0,306.0 243.5,310.5 243.6,314.2 242.8,315.5 241.6,316.0ZM265.8,326.3 264.6,326.3 263.3,325.7 261.1,323.0 259.1,321.0 258.5,320.0 258.4,319.0 258.8,318.0 259.6,317.3 261.3,316.7 263.3,317.2 264.6,318.2 266.9,321.2 267.6,322.8 267.7,324.2 267.1,325.6 265.8,326.3ZM248.8,321.8 248.2,321.8 248.1,321.1 248.3,321.0 248.8,321.1 249.0,321.5 248.8,321.8Z"/></g>
<rect x="186.30" y="260.50" width="111.10" height="111.30" fill="none" stroke="#a8a8a8" stroke-width="0.9"/>
<line x1="186.30" y1="260.50" x2="186.30" y2="371.80" stroke="#8a8a8a" stroke-width="0.8" />
<line x1="186.30" y1="371.80" x2="297.40" y2="371.80" stroke="#8a8a8a" stroke-width="0.8" />
<line x1="183.10" y1="266.70" x2="186.30" y2="266.70" stroke="#8a8a8a" stroke-width="0.6" />
<line x1="183.10" y1="285.60" x2="186.30" y2="285.60" stroke="#8a8a8a" stroke-width="0.6" />
<line x1="183.10" y1="305.20" x2="186.30" y2="305.20" stroke="#8a8a8a" stroke-width="0.6" />
<line x1="183.10" y1="324.40" x2="186.30" y2="324.40" stroke="#8a8a8a" stroke-width="0.6" />
<line x1="183.10" y1="344.00" x2="186.30" y2="344.00" stroke="#8a8a8a" stroke-width="0.6" />
<line x1="183.10" y1="362.70" x2="186.30" y2="362.70" stroke="#8a8a8a" stroke-width="0.6" />
<line x1="184.70" y1="270.48" x2="186.30" y2="270.48" stroke="#9a9a9a" stroke-width="0.4" />
<line x1="184.70" y1="274.26" x2="186.30" y2="274.26" stroke="#9a9a9a" stroke-width="0.4" />
<line x1="184.70" y1="278.04" x2="186.30" y2="278.04" stroke="#9a9a9a" stroke-width="0.4" />
<line x1="184.70" y1="281.82" x2="186.30" y2="281.82" stroke="#9a9a9a" stroke-width="0.4" />
<line x1="184.70" y1="289.52" x2="186.30" y2="289.52" stroke="#9a9a9a" stroke-width="0.4" />
<line x1="184.70" y1="293.44" x2="186.30" y2="293.44" stroke="#9a9a9a" stroke-width="0.4" />
<line x1="184.70" y1="297.36" x2="186.30" y2="297.36" stroke="#9a9a9a" stroke-width="0.4" />
<line x1="184.70" y1="301.28" x2="186.30" y2="301.28" stroke="#9a9a9a" stroke-width="0.4" />
<line x1="184.70" y1="309.04" x2="186.30" y2="309.04" stroke="#9a9a9a" stroke-width="0.4" />
<line x1="184.70" y1="312.88" x2="186.30" y2="312.88" stroke="#9a9a9a" stroke-width="0.4" />
<line x1="184.70" y1="316.72" x2="186.30" y2="316.72" stroke="#9a9a9a" stroke-width="0.4" />
<line x1="184.70" y1="320.56" x2="186.30" y2="320.56" stroke="#9a9a9a" stroke-width="0.4" />
<line x1="184.70" y1="328.32" x2="186.30" y2="328.32" stroke="#9a9a9a" stroke-width="0.4" />
<line x1="184.70" y1="332.24" x2="186.30" y2="332.24" stroke="#9a9a9a" stroke-width="0.4" />
<line x1="184.70" y1="336.16" x2="186.30" y2="336.16" stroke="#9a9a9a" stroke-width="0.4" />
<line x1="184.70" y1="340.08" x2="186.30" y2="340.08" stroke="#9a9a9a" stroke-width="0.4" />
<line x1="184.70" y1="347.74" x2="186.30" y2="347.74" stroke="#9a9a9a" stroke-width="0.4" />
<line x1="184.70" y1="351.48" x2="186.30" y2="351.48" stroke="#9a9a9a" stroke-width="0.4" />
<line x1="184.70" y1="355.22" x2="186.30" y2="355.22" stroke="#9a9a9a" stroke-width="0.4" />
<line x1="184.70" y1="358.96" x2="186.30" y2="358.96" stroke="#9a9a9a" stroke-width="0.4" />
<line x1="203.30" y1="371.80" x2="203.30" y2="375.00" stroke="#8a8a8a" stroke-width="0.6" />
<line x1="237.00" y1="371.80" x2="237.00" y2="375.00" stroke="#8a8a8a" stroke-width="0.6" />
<line x1="271.10" y1="371.80" x2="271.10" y2="375.00" stroke="#8a8a8a" stroke-width="0.6" />
<line x1="189.70" y1="371.80" x2="189.70" y2="373.40" stroke="#9a9a9a" stroke-width="0.4" />
<line x1="196.50" y1="371.80" x2="196.50" y2="373.40" stroke="#9a9a9a" stroke-width="0.4" />
<line x1="210.10" y1="371.80" x2="210.10" y2="373.40" stroke="#9a9a9a" stroke-width="0.4" />
<line x1="216.90" y1="371.80" x2="216.90" y2="373.40" stroke="#9a9a9a" stroke-width="0.4" />
<line x1="223.70" y1="371.80" x2="223.70" y2="373.40" stroke="#9a9a9a" stroke-width="0.4" />
<line x1="230.30" y1="371.80" x2="230.30" y2="373.40" stroke="#9a9a9a" stroke-width="0.4" />
<line x1="243.80" y1="371.80" x2="243.80" y2="373.40" stroke="#9a9a9a" stroke-width="0.4" />
<line x1="250.60" y1="371.80" x2="250.60" y2="373.40" stroke="#9a9a9a" stroke-width="0.4" />
<line x1="257.40" y1="371.80" x2="257.40" y2="373.40" stroke="#9a9a9a" stroke-width="0.4" />
<line x1="264.30" y1="371.80" x2="264.30" y2="373.40" stroke="#9a9a9a" stroke-width="0.4" />
<line x1="277.90" y1="371.80" x2="277.90" y2="373.40" stroke="#9a9a9a" stroke-width="0.4" />
<line x1="284.70" y1="371.80" x2="284.70" y2="373.40" stroke="#9a9a9a" stroke-width="0.4" />
<line x1="291.50" y1="371.80" x2="291.50" y2="373.40" stroke="#9a9a9a" stroke-width="0.4" />
<ellipse cx="213.85" cy="281.20" rx="18.5" ry="12.0" transform="rotate(-50 213.85 281.20)" fill="none" stroke="#1f7a55" stroke-width="0.8"/>
<ellipse cx="240.80" cy="298.30" rx="11.6" ry="16.4" transform="rotate(12 240.80 298.30)" fill="none" stroke="#333" stroke-width="0.55"/>
<ellipse cx="215.60" cy="310.90" rx="13.9" ry="14.6" transform="rotate(10 215.60 310.90)" fill="none" stroke="#333" stroke-width="0.55"/>
<ellipse cx="243.20" cy="337.70" rx="10.2" ry="22.3" transform="rotate(22 243.20 337.70)" fill="none" stroke="#333" stroke-width="0.55"/>
<ellipse cx="266.00" cy="326.00" rx="9.6" ry="20.4" transform="rotate(-12 266.00 326.00)" fill="none" stroke="#333" stroke-width="0.55"/>
<ellipse cx="285.60" cy="336.60" rx="8.3" ry="8.5" transform="rotate(0 285.60 336.60)" fill="none" stroke="#333" stroke-width="0.55"/>
<ellipse cx="261.30" cy="355.40" rx="7.9" ry="7.6" transform="rotate(0 261.30 355.40)" fill="none" stroke="#c8283c" stroke-width="0.8"/>
<g filter="url(#sm)"><path fill-rule="evenodd" fill="#1e3c9c" d="M68.3,519.0 66.6,519.0 65.6,518.5 64.0,516.6 62.2,513.1 62.2,512.6 61.5,510.9 61.5,510.1 61.2,509.9 61.2,509.1 60.7,508.1 60.5,505.6 60.2,505.4 60.2,504.6 60.5,504.4 60.5,501.1 60.7,500.9 61.0,498.6 62.0,496.6 62.5,496.1 62.7,495.4 64.2,493.1 65.2,492.1 65.2,491.9 66.2,490.9 68.2,488.1 69.5,485.6 69.7,484.1 70.0,483.9 70.0,479.4 70.2,479.1 70.2,477.4 70.5,477.1 70.5,475.1 70.7,474.9 71.0,472.4 71.2,472.1 71.7,469.4 72.2,468.4 72.2,467.6 74.2,462.1 75.2,460.6 77.6,458.3 82.3,456.0 83.6,455.8 85.1,455.0 86.0,454.1 85.8,453.0 85.3,452.8 83.6,452.8 74.8,456.3 72.6,456.3 70.2,454.1 69.7,453.4 69.7,452.9 69.2,451.9 69.2,450.9 69.0,450.6 69.0,447.9 69.2,444.6 69.5,444.4 69.7,442.6 72.0,437.6 72.6,436.8 76.8,432.8 79.3,431.0 80.6,430.5 81.1,430.0 83.3,428.8 83.8,428.8 84.8,428.3 89.8,428.3 90.1,428.5 90.8,428.5 93.3,429.5 94.7,430.6 96.5,433.1 97.5,435.9 97.5,437.1 97.7,437.4 97.7,438.6 98.0,438.9 98.0,440.4 98.2,440.6 98.2,442.6 98.5,442.9 98.5,443.6 99.8,445.3 100.8,445.3 103.3,443.5 105.6,442.5 106.3,442.5 106.6,442.3 108.3,442.3 108.6,442.5 109.8,442.8 111.3,443.8 113.5,445.9 116.2,450.1 117.0,451.6 117.0,452.1 118.0,453.9 118.0,454.4 119.2,456.6 120.5,458.4 121.8,459.8 123.3,460.8 126.8,462.5 129.3,463.3 132.3,464.8 133.6,465.8 135.6,466.8 140.1,469.8 142.2,471.6 145.7,476.9 146.0,477.9 147.5,480.9 147.5,481.4 149.5,485.4 150.0,485.9 150.7,487.6 152.0,489.4 153.2,491.9 153.7,492.4 154.7,494.6 154.7,495.9 153.3,497.5 151.6,498.3 150.8,498.3 149.1,499.0 148.3,499.0 148.1,499.3 146.1,499.8 143.3,501.3 142.1,502.3 141.3,502.5 137.3,505.3 133.8,506.5 132.7,507.4 131.5,509.4 131.0,512.1 130.5,513.4 129.2,514.9 128.6,515.3 127.3,515.3 126.3,514.8 125.0,513.6 123.8,512.3 121.8,511.3 121.1,511.3 120.8,511.0 114.3,511.0 114.1,511.3 112.1,511.5 109.6,512.5 105.3,516.3 103.3,517.3 99.6,517.5 99.3,517.8 87.3,517.8 87.1,517.5 84.8,517.5 84.6,517.3 79.8,517.0 79.6,516.8 74.3,516.5 74.1,516.8 73.1,516.8 71.6,517.5 71.1,517.5 68.3,519.0Z"/><path fill-rule="evenodd" fill="#284baa" d="M68.3,518.7 66.8,518.8 65.6,518.2 64.3,516.6 62.5,513.1 60.9,507.9 60.7,505.6 60.4,505.1 60.7,504.4 60.7,501.4 61.2,498.9 63.0,495.4 64.5,493.1 67.8,489.1 69.7,485.6 70.2,483.9 70.2,479.6 70.4,479.1 70.7,475.4 70.9,474.9 71.2,472.6 72.4,467.9 74.5,462.1 75.5,460.6 77.6,458.6 80.6,457.1 85.3,455.1 86.2,454.1 86.0,452.9 85.3,452.6 83.6,452.6 74.6,456.1 72.6,456.0 70.5,454.1 70.0,453.4 69.4,451.6 69.2,450.4 69.2,447.9 69.4,444.9 70.0,442.6 72.3,437.6 72.8,436.9 76.8,433.1 79.3,431.3 83.3,429.1 85.1,428.5 89.6,428.5 93.3,429.8 94.4,430.6 96.2,433.1 97.3,436.1 98.3,443.6 98.6,444.3 99.7,445.4 100.8,445.5 103.3,443.8 104.8,443.1 106.8,442.5 108.1,442.5 109.8,443.1 111.3,444.1 113.2,445.9 115.9,450.1 117.8,454.6 119.1,456.8 120.3,458.6 121.7,459.9 123.2,460.9 126.7,462.6 129.3,463.6 132.3,465.1 140.1,470.1 141.9,471.6 145.4,476.9 147.3,481.6 149.3,485.6 154.2,493.9 154.5,495.6 154.2,496.4 153.3,497.2 151.3,498.1 145.9,499.6 143.2,501.1 137.3,505.0 133.7,506.4 132.7,507.1 131.8,508.2 131.3,509.4 130.8,511.9 130.2,513.4 129.1,514.7 128.3,515.1 127.6,515.1 126.3,514.5 125.6,514.0 124.0,512.1 121.8,511.1 120.8,510.8 114.3,510.8 112.1,511.3 109.4,512.4 105.3,516.0 103.1,517.1 99.6,517.3 99.1,517.6 87.6,517.6 87.1,517.3 85.1,517.3 84.6,517.1 82.6,517.1 82.1,516.8 80.1,516.8 79.6,516.6 74.3,516.3 71.1,517.3 68.3,518.7Z"/><path fill-rule="evenodd" fill="#2c55b1" d="M68.1,518.3 66.8,518.3 65.8,517.8 65.2,517.1 63.0,512.9 61.4,507.6 61.0,505.1 61.2,501.6 61.7,499.1 63.5,495.6 65.0,493.4 68.2,489.4 70.1,485.9 70.7,483.9 70.7,479.9 71.7,472.9 73.0,467.9 75.0,462.4 76.0,460.9 77.8,459.0 85.4,455.6 86.5,454.6 86.7,454.1 86.6,452.9 86.3,452.5 85.3,452.1 83.6,452.1 74.6,455.5 72.8,455.5 71.0,453.9 70.5,453.1 69.9,451.4 69.7,450.1 69.7,447.9 69.9,445.1 70.5,442.9 72.7,437.9 73.2,437.1 77.1,433.5 79.6,431.8 83.6,429.5 85.3,429.0 89.3,429.0 93.1,430.3 94.7,431.9 95.7,433.4 96.8,436.4 97.8,443.9 98.2,444.6 99.3,445.8 101.1,445.9 105.1,443.5 107.1,443.0 107.8,443.0 109.6,443.5 111.1,444.5 112.7,446.1 115.5,450.4 117.3,454.7 118.7,457.1 120.0,458.9 121.3,460.3 123.1,461.4 126.6,463.1 129.1,464.0 132.1,465.5 139.8,470.5 141.5,471.9 145.0,477.1 146.8,481.7 150.1,487.9 153.0,492.6 153.7,494.1 154.0,495.4 153.7,496.1 153.1,496.8 151.3,497.5 145.8,499.1 142.8,500.8 137.1,504.5 133.3,506.0 132.2,506.9 131.3,508.1 130.8,509.1 130.3,511.6 129.7,513.1 128.8,514.3 128.1,514.6 126.6,514.0 125.7,513.4 124.3,511.8 122.1,510.6 120.8,510.3 114.3,510.3 111.8,510.9 109.3,511.9 108.3,512.5 105.1,515.5 102.8,516.6 99.6,516.8 98.8,517.1 87.8,517.1 87.1,516.8 85.3,516.8 84.6,516.6 82.8,516.6 79.6,516.1 74.3,515.8 72.1,516.4 68.1,518.3Z"/><path fill-rule="evenodd" fill="#2f5eb7" d="M77.8,448.7 75.6,448.7 73.8,448.2 72.5,447.1 71.7,445.6 71.6,443.9 72.1,441.6 73.3,438.9 74.9,436.4 77.5,433.9 80.0,432.1 83.5,430.1 85.3,429.5 89.3,429.5 91.8,430.2 93.6,431.4 94.8,433.1 95.1,433.9 93.5,437.4 90.8,441.1 87.8,443.8 84.3,446.2 81.1,447.8 77.8,448.7ZM66.1,514.7 64.6,514.8 64.3,514.5 63.4,512.6 61.7,506.6 61.7,501.9 61.9,500.1 62.2,499.1 63.9,495.9 65.4,493.6 68.7,489.6 70.6,486.1 83.2,483.1 85.9,482.1 86.7,481.6 87.3,480.9 87.1,480.4 84.8,478.4 83.4,476.6 82.1,473.9 81.3,471.4 81.2,468.9 81.7,465.4 82.5,462.4 83.4,460.4 85.8,457.4 88.8,455.1 91.6,454.0 95.3,453.7 96.1,453.3 96.6,452.3 97.9,447.6 98.6,446.1 98.8,446.0 99.8,446.5 101.3,446.4 104.3,444.5 107.1,443.5 108.8,443.7 110.8,445.0 112.3,446.4 114.3,449.4 118.4,457.6 118.5,461.1 118.7,461.6 119.3,461.8 122.1,461.4 126.3,463.6 128.8,464.5 131.7,465.9 135.1,468.0 141.0,472.1 144.6,477.6 146.4,481.9 148.4,485.9 152.6,493.1 153.5,495.1 153.2,495.9 152.7,496.4 151.1,497.1 145.6,498.7 142.6,500.3 136.7,504.1 133.1,505.6 131.8,506.6 130.1,509.4 126.8,509.4 119.7,508.4 115.6,508.1 88.3,508.4 81.4,509.6 71.3,513.5 66.1,514.7Z"/><path fill-rule="evenodd" fill="#3074c7" d="M80.8,443.9 79.6,444.1 78.3,443.9 77.3,443.2 76.8,442.4 76.6,441.1 76.8,439.4 77.3,437.9 78.0,436.6 80.3,434.5 84.3,432.6 87.3,432.0 88.6,432.1 89.3,432.5 90.1,433.6 90.2,435.4 89.7,437.4 88.6,439.4 87.3,440.7 85.6,442.0 83.1,443.2 80.8,443.9ZM66.6,513.4 64.6,513.6 64.3,513.4 63.4,510.9 62.2,506.4 62.2,501.9 62.7,499.4 63.5,497.6 65.8,494.0 69.1,489.9 70.6,487.3 72.6,486.6 80.1,485.1 86.5,483.4 89.3,481.9 92.4,479.4 92.6,478.9 92.3,478.5 88.8,478.0 86.6,476.9 84.9,475.1 83.4,472.6 82.9,470.9 82.8,469.1 83.4,465.4 84.2,462.6 85.1,461.1 86.1,460.0 89.8,457.5 92.3,456.7 96.1,457.0 96.8,456.7 97.6,455.1 98.5,449.9 99.3,447.1 101.6,446.8 105.1,444.7 107.3,444.0 108.8,444.3 110.6,445.5 111.8,446.7 114.8,451.4 117.1,456.4 117.4,459.4 117.0,462.4 117.3,463.1 118.3,463.3 121.6,462.5 123.3,462.7 131.3,466.3 140.5,472.4 144.2,477.9 146.0,482.1 148.0,486.1 152.8,494.6 152.3,495.4 151.3,496.1 149.1,497.1 145.3,498.3 143.8,499.0 136.3,503.8 133.1,505.0 131.1,506.4 126.8,506.7 119.1,505.7 115.1,505.5 101.1,506.0 90.9,506.6 86.2,507.4 80.8,508.6 71.1,512.3 66.6,513.4ZM101.6,469.9 102.5,469.4 102.7,468.9 102.1,468.7 101.5,468.9 101.2,469.6 101.6,469.9Z"/><path fill-rule="evenodd" fill="#2d96d9" d="M82.8,441.7 80.6,441.7 79.2,440.9 78.8,440.1 78.6,439.1 79.1,437.4 80.4,435.9 82.6,434.8 85.1,434.3 86.8,434.7 87.6,435.4 87.9,436.4 87.8,437.6 87.4,438.6 86.7,439.6 85.6,440.5 82.8,441.7ZM66.3,512.9 64.6,513.0 63.5,510.1 62.5,506.4 62.5,501.9 63.0,499.4 63.9,497.8 66.2,494.1 69.4,490.1 70.8,487.9 72.8,487.2 80.3,485.7 86.8,483.9 90.8,481.6 93.2,479.9 94.5,478.6 95.1,477.6 95.1,477.0 91.3,477.4 88.6,477.1 86.6,475.9 84.7,473.6 83.7,471.6 83.4,469.9 83.7,466.9 84.7,463.1 85.3,461.9 86.4,460.6 88.3,459.2 90.3,458.1 92.6,457.6 96.3,458.4 97.3,458.1 98.1,456.3 98.9,450.6 99.8,447.5 101.6,447.2 105.3,445.0 107.3,444.3 108.8,444.7 110.3,445.7 111.5,446.9 114.8,452.1 116.4,456.1 116.8,459.4 116.2,462.9 116.6,463.9 117.8,464.1 121.6,463.1 123.8,463.5 128.6,465.3 131.2,466.6 140.1,472.5 143.8,478.0 145.7,482.4 147.7,486.4 152.2,494.4 151.6,495.1 150.6,495.8 141.8,499.4 136.1,503.3 131.1,505.1 127.8,505.4 124.3,504.9 122.1,504.0 119.0,501.9 116.1,500.9 112.8,500.7 108.8,500.8 106.9,501.4 104.1,503.5 102.1,504.3 99.1,504.9 89.8,506.1 82.6,507.6 78.8,508.7 70.3,512.0 66.3,512.9ZM100.0,472.1 105.1,469.1 105.6,468.6 105.5,468.4 104.4,467.9 103.1,467.7 101.6,467.7 100.8,467.9 100.2,468.9 99.6,471.4 99.6,472.1 100.0,472.1Z"/><path fill-rule="evenodd" fill="#2db5db" d="M83.6,440.4 82.1,440.6 80.7,440.1 80.0,439.1 80.0,437.9 80.8,436.7 82.1,435.9 83.6,435.5 85.1,435.6 85.8,436.0 86.4,436.6 86.4,438.1 85.3,439.6 83.6,440.4ZM65.3,512.7 64.8,512.7 64.6,512.4 62.9,506.4 62.9,502.1 63.1,500.4 63.4,499.4 64.9,496.6 66.4,494.4 69.6,490.4 70.8,488.4 73.1,487.6 83.1,485.5 88.1,483.8 94.2,479.6 98.8,474.4 102.4,471.4 104.1,470.3 107.4,469.1 108.7,468.4 108.9,468.1 108.5,467.9 105.3,467.4 101.6,467.0 100.6,467.1 99.9,467.9 98.7,471.6 97.0,474.1 94.8,476.0 93.6,476.6 92.1,476.9 89.1,476.7 87.1,475.8 86.0,474.6 84.8,472.9 83.9,470.4 84.0,468.1 84.7,464.6 85.4,462.6 86.3,461.4 89.1,459.3 91.6,458.3 93.3,458.2 96.6,459.2 97.6,459.1 98.1,458.5 98.5,457.1 99.4,450.9 100.3,447.7 101.8,447.4 104.7,445.6 106.5,444.9 107.3,444.8 108.6,445.2 110.8,446.7 113.3,450.1 114.6,452.4 115.7,454.9 116.1,457.6 116.2,459.9 115.6,463.1 116.0,464.4 116.6,464.7 117.3,464.7 121.6,463.6 123.6,463.9 129.1,466.0 131.0,466.9 139.8,472.7 143.6,478.1 145.3,482.4 147.3,486.5 151.7,493.9 151.6,494.4 150.6,495.2 142.1,498.7 136.1,502.5 133.6,503.6 130.8,504.3 128.3,504.6 125.8,504.3 123.8,503.5 120.1,501.4 116.6,500.3 113.3,500.0 108.6,500.1 106.6,500.7 102.3,503.1 100.1,504.0 89.3,505.8 81.6,507.5 78.1,508.5 70.0,511.6 65.3,512.7ZM94.9,493.1 95.5,492.9 95.8,492.4 95.4,491.6 94.3,491.4 93.3,491.9 93.2,492.4 93.5,492.9 94.1,493.2 94.9,493.1Z"/><path fill-rule="evenodd" fill="#40b8b0" d="M83.3,439.7 82.3,439.7 81.5,439.4 81.0,438.6 81.0,437.9 81.5,437.1 82.3,436.6 83.6,436.4 84.6,436.5 85.3,437.1 85.4,438.1 84.6,439.1 83.3,439.7ZM66.6,512.2 64.8,512.3 64.1,509.9 63.1,506.1 63.1,502.1 63.4,500.6 63.7,499.4 65.1,496.8 70.8,488.8 73.1,488.1 82.8,486.1 86.1,485.1 88.1,484.2 94.4,479.9 99.6,474.4 102.8,471.5 104.6,470.6 109.1,469.1 110.4,468.4 111.1,467.6 111.0,467.1 110.3,466.9 107.3,467.0 100.3,466.6 99.7,467.4 98.7,470.9 97.0,473.4 94.6,475.7 93.3,476.3 92.1,476.5 89.3,476.4 87.3,475.5 85.3,473.1 84.2,470.6 84.2,468.6 84.9,465.1 85.5,463.1 86.5,461.6 89.1,459.6 91.6,458.6 93.8,458.7 97.1,459.9 98.1,459.7 98.9,457.4 99.8,451.1 100.6,448.1 102.6,447.3 104.8,445.8 106.6,445.1 108.8,445.8 111.2,447.6 114.3,452.5 115.2,454.6 115.8,458.4 115.7,460.1 115.1,463.4 115.3,464.7 115.8,465.1 116.8,465.2 121.1,464.0 123.3,464.3 130.8,467.1 139.7,472.9 142.7,477.1 147.2,486.6 151.2,493.6 151.1,494.2 150.2,494.9 142.1,498.2 135.8,502.2 131.1,503.8 128.6,504.1 126.3,503.8 124.6,503.2 120.2,500.9 116.6,499.8 113.1,499.5 108.6,499.6 106.1,500.3 101.8,502.7 99.8,503.5 89.1,505.5 80.8,507.4 77.6,508.4 70.1,511.3 66.6,512.2ZM95.5,494.1 96.6,493.6 97.2,492.9 97.2,491.9 96.6,491.0 95.3,490.4 94.1,490.4 92.8,490.7 92.0,491.4 91.7,491.9 91.6,492.6 92.3,493.6 93.8,494.2 95.5,494.1Z"/><path fill-rule="evenodd" fill="#5db559" d="M83.1,438.4 82.7,438.1 82.8,437.9 83.1,437.7 83.6,437.8 83.6,438.1 83.1,438.4ZM66.3,511.9 65.3,512.1 65.0,511.9 63.6,507.1 63.3,504.9 63.6,500.6 63.9,499.4 65.3,496.9 70.8,489.4 72.8,488.6 82.3,486.8 85.6,485.7 87.8,484.8 94.6,480.1 100.5,474.1 103.1,471.9 104.6,471.0 109.8,469.3 111.4,468.4 112.5,467.1 112.7,466.4 111.8,465.9 107.1,466.3 102.6,466.2 100.1,465.8 99.5,466.6 98.6,470.4 97.2,472.6 94.6,475.3 92.3,476.2 89.8,476.2 87.8,475.5 86.0,473.6 84.7,471.1 84.5,469.4 84.9,466.4 85.6,463.6 86.6,462.0 89.3,459.8 91.8,458.9 94.1,459.1 97.6,460.6 98.5,460.4 99.3,458.1 100.3,451.2 101.1,448.4 105.8,445.7 108.3,446.1 110.3,447.6 112.1,449.5 114.1,452.9 114.7,455.1 115.2,458.9 115.1,460.4 114.3,463.9 114.3,464.9 114.6,465.3 115.3,465.6 116.3,465.7 121.1,464.5 122.8,464.7 131.6,467.9 139.6,473.1 141.8,476.4 146.2,485.4 150.7,493.4 150.5,493.9 149.8,494.4 142.1,497.7 135.8,501.8 131.1,503.4 128.6,503.7 126.3,503.4 120.3,500.5 116.3,499.2 112.6,498.9 108.6,499.0 105.8,499.8 101.2,502.4 99.3,503.2 80.1,507.2 69.6,511.1 66.3,511.9ZM95.7,495.1 97.5,494.4 98.4,493.1 98.3,491.6 97.2,490.1 95.6,489.5 93.8,489.5 92.1,490.1 90.6,491.4 90.2,492.1 90.2,492.9 90.6,493.6 91.3,494.4 93.3,495.2 95.7,495.1Z"/><path fill-rule="evenodd" fill="#67b852" d="M103.8,464.9 102.6,465.1 101.6,464.9 100.5,463.9 99.7,462.6 99.8,460.4 100.3,458.2 101.3,455.8 102.1,455.2 102.8,455.6 103.8,457.1 104.7,459.4 105.3,461.6 105.5,463.1 105.3,463.9 104.9,464.4 103.8,464.9ZM92.6,475.7 89.8,475.7 87.8,474.9 86.8,473.9 85.6,472.1 85.1,470.9 84.9,469.6 85.6,465.4 86.6,462.6 87.8,461.4 89.6,460.2 91.1,459.5 92.3,459.3 94.3,459.7 96.6,460.8 98.8,462.4 99.2,463.4 98.6,468.9 97.8,470.9 96.6,472.6 95.1,474.3 93.8,475.2 92.6,475.7ZM66.6,511.4 65.3,511.6 65.2,511.4 63.7,506.1 63.7,502.1 64.0,500.6 64.2,499.6 65.6,497.1 70.6,490.5 72.3,490.1 73.8,490.0 75.6,490.3 77.8,491.2 79.1,490.9 83.1,488.1 88.8,484.8 94.1,481.0 103.6,472.3 105.1,471.5 110.1,469.9 115.1,466.9 119.8,465.9 121.1,465.9 121.9,466.4 122.6,467.4 126.6,467.6 130.1,468.4 134.1,469.9 136.8,471.6 139.3,474.3 140.8,476.6 143.1,481.7 145.3,487.9 145.7,489.6 145.6,491.4 145.3,493.1 144.6,494.4 136.6,500.7 134.8,501.6 132.8,502.3 128.8,503.1 126.1,502.7 120.6,499.8 114.8,497.1 113.9,496.4 113.3,495.1 112.8,494.8 110.1,496.9 104.3,499.0 100.7,501.6 99.1,502.4 95.5,503.4 79.6,506.8 66.6,511.4ZM113.6,484.4 114.1,483.4 116.3,477.1 119.6,470.5 118.8,470.6 117.6,471.4 113.1,474.9 112.1,476.0 109.7,479.6 109.6,480.4 110.0,481.1 112.6,484.2 113.1,484.6 113.6,484.4ZM97.5,498.1 99.8,497.7 100.3,497.2 100.5,496.6 100.2,493.1 99.8,491.4 98.3,487.6 97.6,486.9 96.3,487.2 93.8,488.1 90.4,489.9 86.1,493.6 82.9,495.9 82.2,496.9 82.7,497.6 84.3,498.0 97.5,498.1Z"/><path fill-rule="evenodd" fill="#8ac346" d="M92.3,475.2 89.8,475.1 87.8,474.2 86.1,471.9 85.6,470.6 85.5,469.4 86.0,465.6 87.1,462.9 88.1,461.8 89.7,460.6 91.1,460.0 92.3,459.8 94.8,460.4 97.2,461.9 98.1,463.4 98.3,465.9 98.1,468.9 97.1,471.1 94.6,474.1 93.6,474.8 92.3,475.2ZM84.6,491.4 84.0,491.1 84.1,490.4 86.4,487.6 95.5,480.4 103.6,473.1 105.3,472.2 109.1,471.1 113.6,469.3 114.6,469.1 114.8,469.6 114.2,470.6 111.1,474.1 109.3,476.9 108.1,478.1 104.2,480.1 100.8,482.5 93.6,487.0 86.8,490.6 84.6,491.4ZM129.8,502.4 127.8,502.5 125.8,501.9 122.5,499.9 120.4,498.1 119.8,496.9 119.3,494.4 118.9,489.4 119.3,486.1 120.0,482.9 121.2,479.9 122.8,477.1 124.6,475.0 126.6,473.5 128.8,472.5 130.8,472.3 132.8,472.7 134.8,473.8 136.6,475.4 138.0,477.4 139.1,479.9 139.9,482.6 140.4,485.6 140.5,488.6 140.2,491.6 139.6,494.4 138.8,496.6 137.9,498.1 136.2,499.9 134.7,500.9 132.3,501.8 129.8,502.4ZM106.6,495.2 105.6,495.4 104.6,495.3 102.8,494.3 101.7,492.4 101.0,489.6 101.0,487.4 101.8,485.2 103.1,483.8 104.8,483.0 106.6,483.2 108.1,484.2 109.3,485.9 110.0,488.1 109.9,490.4 109.2,492.6 108.1,494.2 106.6,495.2ZM66.3,510.9 65.5,510.9 64.2,506.1 64.2,502.4 64.5,500.6 64.7,499.6 66.0,497.4 67.5,495.1 70.1,492.1 71.8,492.1 73.6,492.6 75.1,493.3 76.8,494.6 77.5,495.4 77.8,496.1 77.8,499.6 78.3,500.4 79.1,500.8 81.8,501.3 92.1,501.2 95.1,501.6 95.2,501.9 94.9,502.1 93.0,502.9 79.3,506.0 75.1,507.2 72.1,508.3 68.1,510.4 66.3,510.9Z"/><path fill-rule="evenodd" fill="#bfd337" d="M92.6,474.7 90.1,474.8 88.2,473.9 86.5,471.6 85.9,469.4 86.4,465.9 87.5,463.1 88.3,462.1 89.8,461.0 91.1,460.4 92.3,460.2 94.6,460.7 96.8,462.1 97.7,463.6 98.0,466.1 97.7,468.9 96.9,470.9 94.6,473.6 92.6,474.7ZM88.6,488.7 87.6,488.9 87.3,488.6 87.6,487.9 88.6,486.6 100.8,476.4 103.8,473.4 106.3,472.3 110.6,471.3 111.5,471.4 111.4,472.1 109.2,476.1 107.8,477.7 103.7,479.6 93.8,486.2 88.6,488.7ZM130.1,501.9 128.1,502.0 126.3,501.6 123.9,500.1 122.4,498.6 121.6,497.1 120.9,494.6 120.4,489.6 120.7,486.6 121.3,483.9 122.3,481.4 123.6,478.9 125.1,477.1 126.8,475.6 128.6,474.8 130.6,474.5 132.3,474.8 133.8,475.6 135.3,476.9 136.6,478.5 137.7,480.6 138.4,482.9 138.8,485.4 139.0,488.1 138.8,490.9 138.2,493.6 137.2,496.4 136.2,498.4 135.3,499.6 133.9,500.6 130.1,501.9ZM106.3,493.9 104.8,494.0 103.6,493.4 102.5,491.9 101.9,489.9 101.9,487.9 102.6,486.1 103.6,484.9 105.1,484.3 106.3,484.5 107.6,485.3 108.5,486.6 109.0,488.4 109.0,490.1 108.4,491.9 107.5,493.1 106.3,493.9ZM66.3,510.4 65.8,510.5 65.6,510.1 64.5,505.9 64.5,502.4 64.7,500.9 65.0,499.9 66.2,497.6 69.6,493.1 71.3,492.9 73.1,493.3 74.6,494.1 75.8,495.1 76.4,495.9 76.6,496.9 76.3,500.6 77.3,501.9 80.1,503.0 84.1,503.4 84.1,503.6 83.4,503.9 78.6,505.0 73.1,506.8 71.3,507.7 68.3,509.6 66.3,510.4Z"/><path fill-rule="evenodd" fill="#e9e123" d="M92.3,474.4 90.1,474.4 88.3,473.5 86.8,471.4 86.3,468.9 86.8,465.6 87.9,463.1 88.8,462.1 90.2,461.1 91.3,460.6 92.6,460.5 94.8,461.1 96.6,462.4 97.5,464.1 97.7,466.6 97.4,469.1 96.4,471.1 94.3,473.4 92.3,474.4ZM90.6,487.2 89.8,487.3 89.6,486.9 90.9,485.1 101.1,476.6 103.8,473.7 105.1,473.0 106.6,472.5 108.8,472.2 109.9,472.4 110.0,473.1 109.3,475.1 108.6,476.4 107.6,477.4 103.4,479.4 95.6,484.7 92.8,486.2 90.6,487.2ZM128.8,501.7 127.1,501.4 125.6,500.6 124.0,499.4 123.2,498.1 122.2,495.9 121.6,493.4 121.4,490.9 121.4,488.4 121.8,485.9 122.5,483.4 123.4,481.1 124.6,479.3 126.1,477.7 127.6,476.6 129.1,476.0 130.8,475.9 132.3,476.2 133.8,477.1 135.2,478.4 136.3,480.1 137.2,482.4 137.8,484.6 138.0,487.1 138.0,489.6 137.0,494.4 136.0,496.9 134.8,498.9 133.9,499.9 132.6,500.7 130.6,501.4 128.8,501.7ZM105.8,493.2 104.6,493.0 103.6,492.3 102.9,491.1 102.5,489.6 102.5,488.1 103.1,486.7 104.0,485.6 105.1,485.2 106.3,485.4 107.3,486.1 108.1,487.4 108.3,488.6 108.3,490.1 107.8,491.6 106.8,492.7 105.8,493.2ZM66.6,510.0 65.8,510.1 64.7,505.9 64.7,502.4 65.2,499.9 67.9,495.6 69.6,493.6 71.3,493.5 73.1,493.8 75.0,495.1 75.9,496.6 75.9,498.1 75.1,501.1 75.9,503.9 75.2,504.6 71.8,506.5 68.1,509.3 66.6,510.0Z"/><path fill-rule="evenodd" fill="#f4ca20" d="M92.6,474.0 90.3,474.0 88.6,473.1 87.2,471.1 86.7,468.6 87.2,465.6 88.3,463.2 90.5,461.4 91.6,460.9 92.6,460.8 94.8,461.4 96.4,462.6 97.1,464.1 97.4,466.6 97.1,468.9 96.3,470.7 94.4,472.9 92.6,474.0ZM92.6,485.7 91.7,485.6 92.6,484.1 101.3,476.8 104.1,473.9 105.3,473.2 106.8,472.8 108.3,472.7 109.2,473.1 109.3,473.9 108.8,475.4 108.2,476.4 107.3,477.3 103.1,479.1 96.8,483.4 92.6,485.7ZM128.8,501.2 127.6,501.0 126.3,500.4 125.1,499.4 124.0,497.9 123.0,495.6 122.4,493.4 122.1,491.1 122.2,488.6 123.0,484.1 124.0,481.9 125.1,480.1 126.3,478.7 127.6,477.8 129.1,477.1 130.6,477.0 132.1,477.3 133.3,478.0 134.6,479.2 135.7,480.9 136.5,482.9 137.0,484.9 137.2,489.4 136.9,491.9 136.3,494.1 135.3,496.4 134.1,498.4 133.0,499.6 131.8,500.4 130.3,500.9 128.8,501.2ZM106.1,492.2 105.1,492.3 104.3,492.0 103.6,491.1 103.2,489.9 103.1,488.6 103.5,487.4 104.1,486.6 105.1,486.1 105.9,486.1 106.7,486.6 107.3,487.4 107.6,488.4 107.7,489.6 107.5,490.6 106.8,491.6 106.1,492.2ZM66.8,509.4 66.1,509.6 65.9,509.4 65.0,505.9 65.0,502.4 65.4,500.1 66.6,497.9 69.3,494.2 71.1,493.9 72.8,494.2 74.6,495.4 75.1,496.1 75.4,497.1 75.1,498.6 73.9,501.4 73.5,503.6 72.9,504.6 69.2,507.9 66.8,509.4Z"/><path fill-rule="evenodd" fill="#f5a422" d="M91.8,473.7 89.8,473.4 88.3,472.2 87.4,470.1 87.2,467.9 87.8,465.1 88.9,463.1 90.8,461.6 92.8,461.2 94.8,461.8 96.3,463.1 97.0,464.9 97.1,467.4 96.6,469.5 95.3,471.5 93.6,473.1 91.8,473.7ZM94.8,483.9 94.1,484.1 94.0,483.9 94.7,482.9 96.6,481.1 101.6,477.1 104.3,474.0 105.3,473.4 106.6,473.1 107.8,473.1 108.6,473.5 108.8,474.1 108.6,475.1 108.1,476.1 107.3,476.9 106.1,477.7 102.8,478.8 98.1,482.1 94.8,483.9ZM129.6,500.4 128.3,500.4 127.1,500.0 125.8,499.0 124.8,497.6 123.9,495.9 123.3,493.9 122.9,491.6 122.8,489.4 123.4,485.1 124.2,483.1 125.1,481.4 126.3,479.9 127.6,478.8 128.8,478.2 130.3,478.0 131.6,478.2 132.8,478.8 134.1,479.9 135.0,481.1 136.3,484.6 136.6,488.6 136.0,492.6 134.4,496.4 133.3,498.0 132.1,499.3 130.8,500.0 129.6,500.4ZM105.8,491.3 105.1,491.3 104.6,491.1 103.8,489.6 104.1,487.9 105.1,487.1 105.6,487.1 106.3,487.4 106.9,488.6 106.8,490.1 106.4,490.9 105.8,491.3ZM66.8,509.0 66.1,509.1 65.2,505.9 65.2,502.4 65.7,500.1 67.9,496.4 69.3,494.7 71.1,494.3 72.8,494.7 73.9,495.4 74.6,496.4 74.8,497.4 74.6,498.6 72.8,501.4 72.2,503.6 71.5,504.9 68.8,507.6 66.8,509.0Z"/><path fill-rule="evenodd" fill="#f17624" d="M92.3,473.0 90.5,472.9 89.0,471.9 88.0,470.1 87.7,467.9 88.3,465.4 89.3,463.5 91.1,462.0 92.8,461.6 94.6,462.1 95.8,463.2 96.5,464.6 96.7,466.9 96.4,468.9 95.4,470.6 93.8,472.3 92.3,473.0ZM101.8,478.4 101.8,478.1 103.3,475.6 104.6,474.2 106.6,473.4 107.6,473.5 108.1,473.9 108.3,474.6 108.1,475.4 106.9,476.9 105.6,477.5 101.8,478.4ZM129.6,499.2 128.3,499.1 127.3,498.7 126.1,497.6 125.2,496.4 123.9,493.1 123.5,489.1 124.2,485.1 125.8,481.9 127.8,479.9 129.1,479.3 130.3,479.1 131.6,479.4 132.6,479.9 134.4,481.9 135.5,484.9 135.9,488.6 135.3,492.4 133.9,495.6 131.8,498.1 130.8,498.7 129.6,499.2ZM100.3,479.4 100.2,479.4 100.3,479.4ZM100.1,479.7 99.8,479.9 99.8,479.6 100.1,479.5 100.1,479.7ZM99.6,480.0 99.4,479.9 99.8,479.9 99.6,480.0ZM99.3,480.2 99.1,480.3 99.3,480.0 99.3,480.2ZM66.6,508.5 66.3,508.4 65.5,505.6 65.5,502.6 66.0,500.1 69.1,495.5 70.8,494.9 72.6,495.2 73.6,495.9 74.1,496.6 74.2,497.4 74.0,498.4 71.8,501.1 71.1,503.9 70.2,505.4 68.3,507.4 66.6,508.5Z"/><path fill-rule="evenodd" fill="#ed4f26" d="M92.6,472.2 91.1,472.3 89.6,471.5 88.6,469.9 88.3,467.9 88.8,465.6 89.8,463.9 91.2,462.6 92.8,462.2 94.3,462.6 95.4,463.4 96.1,464.9 96.3,466.6 96.0,468.4 95.3,469.9 94.1,471.4 92.6,472.2ZM104.3,477.4 103.6,477.3 103.3,476.9 103.6,475.9 104.3,474.8 106.1,473.8 107.1,473.8 107.6,474.1 107.8,475.1 107.1,476.3 105.8,477.1 104.3,477.4ZM129.6,497.9 128.3,497.8 127.3,497.3 125.6,495.4 124.5,492.6 124.2,489.1 124.8,485.6 126.3,482.6 128.1,480.8 129.1,480.4 130.3,480.2 131.3,480.4 132.3,480.9 134.0,482.9 134.9,485.6 135.2,488.9 134.6,492.1 133.4,494.9 131.6,497.0 129.6,497.9ZM67.1,507.7 66.6,507.9 66.4,507.6 65.8,505.6 65.8,502.6 66.2,500.6 67.4,499.1 68.3,497.0 69.1,496.1 70.6,495.4 72.3,495.6 73.3,496.6 73.5,497.4 73.3,498.1 70.9,500.9 70.3,503.9 69.6,505.4 68.3,506.8 67.1,507.7Z"/><path fill-rule="evenodd" fill="#e83228" d="M92.3,471.7 90.8,471.6 89.6,470.6 88.9,469.1 88.8,467.4 89.3,465.5 90.3,464.0 91.6,463.0 93.1,462.7 94.3,463.2 95.3,464.1 95.8,465.6 95.8,467.1 95.5,468.6 94.6,470.1 93.6,471.1 92.3,471.7ZM105.6,476.9 104.1,476.9 103.8,476.4 104.0,475.6 105.3,474.4 106.3,474.1 107.1,474.3 107.5,474.9 107.3,475.6 106.6,476.4 105.6,476.9ZM130.1,496.9 129.1,497.0 128.1,496.8 127.1,496.2 126.3,495.3 125.2,492.9 124.7,489.6 125.2,486.4 126.3,483.6 128.1,481.7 129.1,481.2 130.1,481.0 131.8,481.5 133.3,483.1 134.3,485.6 134.7,488.4 134.3,491.4 133.3,493.9 131.8,495.9 130.1,496.9ZM66.6,507.4 66.1,505.1 66.3,501.1 68.0,499.6 68.8,497.4 69.6,496.4 70.8,495.9 72.1,496.1 72.8,497.0 72.7,498.1 70.1,500.4 69.9,501.1 69.8,503.6 69.1,505.4 67.8,506.7 66.6,507.4Z"/></g>
<rect x="52.60" y="419.40" width="110.40" height="110.20" fill="none" stroke="#a8a8a8" stroke-width="0.9"/>
<line x1="52.60" y1="419.40" x2="52.60" y2="529.60" stroke="#8a8a8a" stroke-width="0.8" />
<line x1="52.60" y1="529.60" x2="163.00" y2="529.60" stroke="#8a8a8a" stroke-width="0.8" />
<line x1="49.40" y1="425.30" x2="52.60" y2="425.30" stroke="#8a8a8a" stroke-width="0.6" />
<line x1="49.40" y1="444.20" x2="52.60" y2="444.20" stroke="#8a8a8a" stroke-width="0.6" />
<line x1="49.40" y1="463.80" x2="52.60" y2="463.80" stroke="#8a8a8a" stroke-width="0.6" />
<line x1="49.40" y1="483.00" x2="52.60" y2="483.00" stroke="#8a8a8a" stroke-width="0.6" />
<line x1="49.40" y1="502.60" x2="52.60" y2="502.60" stroke="#8a8a8a" stroke-width="0.6" />
<line x1="49.40" y1="521.30" x2="52.60" y2="521.30" stroke="#8a8a8a" stroke-width="0.6" />
<line x1="51.00" y1="429.08" x2="52.60" y2="429.08" stroke="#9a9a9a" stroke-width="0.4" />
<line x1="51.00" y1="432.86" x2="52.60" y2="432.86" stroke="#9a9a9a" stroke-width="0.4" />
<line x1="51.00" y1="436.64" x2="52.60" y2="436.64" stroke="#9a9a9a" stroke-width="0.4" />
<line x1="51.00" y1="440.42" x2="52.60" y2="440.42" stroke="#9a9a9a" stroke-width="0.4" />
<line x1="51.00" y1="448.12" x2="52.60" y2="448.12" stroke="#9a9a9a" stroke-width="0.4" />
<line x1="51.00" y1="452.04" x2="52.60" y2="452.04" stroke="#9a9a9a" stroke-width="0.4" />
<line x1="51.00" y1="455.96" x2="52.60" y2="455.96" stroke="#9a9a9a" stroke-width="0.4" />
<line x1="51.00" y1="459.88" x2="52.60" y2="459.88" stroke="#9a9a9a" stroke-width="0.4" />
<line x1="51.00" y1="467.64" x2="52.60" y2="467.64" stroke="#9a9a9a" stroke-width="0.4" />
<line x1="51.00" y1="471.48" x2="52.60" y2="471.48" stroke="#9a9a9a" stroke-width="0.4" />
<line x1="51.00" y1="475.32" x2="52.60" y2="475.32" stroke="#9a9a9a" stroke-width="0.4" />
<line x1="51.00" y1="479.16" x2="52.60" y2="479.16" stroke="#9a9a9a" stroke-width="0.4" />
<line x1="51.00" y1="486.92" x2="52.60" y2="486.92" stroke="#9a9a9a" stroke-width="0.4" />
<line x1="51.00" y1="490.84" x2="52.60" y2="490.84" stroke="#9a9a9a" stroke-width="0.4" />
<line x1="51.00" y1="494.76" x2="52.60" y2="494.76" stroke="#9a9a9a" stroke-width="0.4" />
<line x1="51.00" y1="498.68" x2="52.60" y2="498.68" stroke="#9a9a9a" stroke-width="0.4" />
<line x1="51.00" y1="506.34" x2="52.60" y2="506.34" stroke="#9a9a9a" stroke-width="0.4" />
<line x1="51.00" y1="510.08" x2="52.60" y2="510.08" stroke="#9a9a9a" stroke-width="0.4" />
<line x1="51.00" y1="513.82" x2="52.60" y2="513.82" stroke="#9a9a9a" stroke-width="0.4" />
<line x1="51.00" y1="517.56" x2="52.60" y2="517.56" stroke="#9a9a9a" stroke-width="0.4" />
<line x1="69.60" y1="529.60" x2="69.60" y2="532.80" stroke="#8a8a8a" stroke-width="0.6" />
<line x1="103.30" y1="529.60" x2="103.30" y2="532.80" stroke="#8a8a8a" stroke-width="0.6" />
<line x1="137.40" y1="529.60" x2="137.40" y2="532.80" stroke="#8a8a8a" stroke-width="0.6" />
<line x1="56.00" y1="529.60" x2="56.00" y2="531.20" stroke="#9a9a9a" stroke-width="0.4" />
<line x1="62.80" y1="529.60" x2="62.80" y2="531.20" stroke="#9a9a9a" stroke-width="0.4" />
<line x1="76.40" y1="529.60" x2="76.40" y2="531.20" stroke="#9a9a9a" stroke-width="0.4" />
<line x1="83.20" y1="529.60" x2="83.20" y2="531.20" stroke="#9a9a9a" stroke-width="0.4" />
<line x1="90.00" y1="529.60" x2="90.00" y2="531.20" stroke="#9a9a9a" stroke-width="0.4" />
<line x1="96.60" y1="529.60" x2="96.60" y2="531.20" stroke="#9a9a9a" stroke-width="0.4" />
<line x1="110.10" y1="529.60" x2="110.10" y2="531.20" stroke="#9a9a9a" stroke-width="0.4" />
<line x1="116.90" y1="529.60" x2="116.90" y2="531.20" stroke="#9a9a9a" stroke-width="0.4" />
<line x1="123.70" y1="529.60" x2="123.70" y2="531.20" stroke="#9a9a9a" stroke-width="0.4" />
<line x1="130.60" y1="529.60" x2="130.60" y2="531.20" stroke="#9a9a9a" stroke-width="0.4" />
<line x1="144.20" y1="529.60" x2="144.20" y2="531.20" stroke="#9a9a9a" stroke-width="0.4" />
<line x1="151.00" y1="529.60" x2="151.00" y2="531.20" stroke="#9a9a9a" stroke-width="0.4" />
<line x1="157.80" y1="529.60" x2="157.80" y2="531.20" stroke="#9a9a9a" stroke-width="0.4" />
<ellipse cx="80.15" cy="439.80" rx="18.5" ry="12.0" transform="rotate(-50 80.15 439.80)" fill="none" stroke="#1f7a55" stroke-width="0.8"/>
<ellipse cx="107.10" cy="456.90" rx="11.6" ry="16.4" transform="rotate(12 107.10 456.90)" fill="none" stroke="#333" stroke-width="0.55"/>
<ellipse cx="81.90" cy="469.50" rx="13.9" ry="14.6" transform="rotate(10 81.90 469.50)" fill="none" stroke="#333" stroke-width="0.55"/>
<ellipse cx="109.50" cy="496.30" rx="10.2" ry="22.3" transform="rotate(22 109.50 496.30)" fill="none" stroke="#333" stroke-width="0.55"/>
<ellipse cx="132.30" cy="484.60" rx="9.6" ry="20.4" transform="rotate(-12 132.30 484.60)" fill="none" stroke="#333" stroke-width="0.55"/>
<ellipse cx="151.90" cy="495.20" rx="8.3" ry="8.5" transform="rotate(0 151.90 495.20)" fill="none" stroke="#333" stroke-width="0.55"/>
<ellipse cx="127.60" cy="514.00" rx="7.9" ry="7.6" transform="rotate(0 127.60 514.00)" fill="none" stroke="#c8283c" stroke-width="0.8"/>
<g filter="url(#sm)"><path fill-rule="evenodd" fill="#1e3c9c" d="M233.7,520.4 232.2,520.4 231.9,520.2 230.7,520.2 230.4,519.9 229.2,519.9 228.9,519.7 227.9,519.7 227.7,519.4 225.7,519.2 225.4,518.9 224.2,518.7 223.4,518.2 221.4,517.7 220.7,517.2 220.2,517.2 217.7,515.9 217.2,515.9 216.4,515.4 215.9,515.4 215.2,514.9 214.7,514.9 213.7,514.4 213.2,514.4 208.4,512.7 207.7,512.7 206.7,512.2 205.7,512.2 205.4,511.9 204.7,511.9 204.4,511.7 203.7,511.7 203.4,511.4 202.7,511.4 202.4,511.2 201.7,511.2 201.4,510.9 200.2,510.7 197.4,509.2 196.0,507.8 194.5,504.1 194.5,500.8 194.8,500.6 195.0,498.6 196.8,495.8 200.8,491.3 202.8,488.6 202.8,488.1 203.3,487.3 203.5,485.8 203.8,485.6 203.8,484.6 204.0,484.3 204.3,478.3 204.5,478.1 204.5,476.3 204.8,476.1 204.8,474.6 205.0,474.3 205.0,472.1 204.0,469.3 204.3,463.8 204.5,463.6 204.8,461.8 205.5,460.3 205.8,458.8 206.0,458.6 206.0,456.8 205.8,456.6 205.8,456.1 204.3,454.1 203.5,452.3 203.3,445.3 203.5,445.1 203.5,444.1 204.3,442.1 204.3,441.3 204.5,441.1 204.8,439.8 205.3,439.1 205.3,438.6 207.3,435.8 208.5,434.6 208.5,434.3 212.4,430.7 215.4,428.7 217.4,427.9 219.2,427.9 219.4,427.7 222.7,427.7 222.9,427.9 224.7,428.2 226.2,428.9 226.8,429.6 227.8,431.3 228.0,433.1 228.3,433.3 228.0,437.1 227.8,437.3 227.8,438.1 227.5,438.3 227.5,439.1 227.0,440.3 227.3,441.3 227.9,442.2 230.7,443.7 231.9,444.7 233.7,444.9 234.7,444.4 236.2,442.9 238.2,441.9 240.9,441.9 242.4,442.7 242.9,442.7 244.3,443.8 245.3,445.6 245.3,446.1 245.8,447.1 245.8,452.1 245.5,452.3 245.5,452.8 245.8,453.1 245.8,454.3 246.0,454.6 246.0,455.3 246.8,456.8 247.0,458.3 247.5,459.3 247.5,460.1 247.8,460.3 247.8,461.1 248.0,461.3 248.3,463.1 248.5,463.3 248.5,464.6 248.8,464.8 249.0,467.3 249.9,468.7 250.4,468.9 251.2,468.7 253.0,465.8 253.9,465.2 255.4,465.2 256.3,466.1 256.5,467.8 256.8,468.1 256.8,469.3 257.3,470.6 258.6,471.9 262.4,473.4 265.4,473.4 266.9,472.7 268.9,471.2 270.1,470.7 272.9,470.7 273.1,470.9 273.9,470.9 275.9,471.7 279.3,474.8 280.0,476.3 280.5,476.8 283.3,482.6 283.3,483.1 284.0,484.3 284.0,484.8 285.3,487.6 285.3,488.1 285.8,489.1 285.8,490.1 286.0,490.3 286.0,492.3 285.8,492.6 285.8,493.3 284.3,496.1 282.6,497.7 280.4,499.2 279.6,499.9 278.9,500.2 275.9,502.2 272.9,503.7 272.4,503.7 267.6,505.4 267.1,505.9 266.4,506.2 264.5,508.1 264.5,508.6 264.0,509.6 264.0,512.3 264.5,513.5 264.8,515.8 264.5,516.0 264.5,516.8 264.0,517.5 263.1,518.2 260.9,518.2 259.4,517.4 256.1,514.4 254.9,513.7 252.2,513.7 251.9,513.9 250.9,513.9 250.7,514.2 249.4,514.4 245.4,516.7 242.9,517.4 242.2,517.9 241.7,517.9 239.2,518.9 238.4,518.9 235.9,519.9 233.9,520.2 233.7,520.4Z"/><path fill-rule="evenodd" fill="#284baa" d="M233.7,520.1 232.4,520.2 231.9,520.0 230.9,520.0 225.9,519.0 221.4,517.4 215.2,514.7 208.4,512.5 200.2,510.4 197.4,508.9 196.3,507.8 194.7,503.8 194.7,501.1 195.3,498.6 197.1,495.8 200.9,491.5 202.9,488.7 203.7,486.6 204.2,484.3 204.5,478.6 204.7,478.1 204.7,476.6 205.2,474.3 205.2,472.1 204.2,469.1 204.5,464.1 206.2,458.6 206.2,456.8 206.0,456.1 204.6,454.1 203.7,452.1 203.5,445.6 204.5,441.6 205.6,438.6 208.8,434.3 212.4,431.0 215.4,429.0 217.7,428.1 222.4,427.9 224.7,428.5 226.5,429.6 227.5,431.3 228.1,433.6 227.8,434.8 227.8,436.8 226.8,440.3 227.1,441.3 227.7,442.3 231.7,444.8 232.7,445.1 233.7,445.1 234.8,444.6 236.9,442.7 238.4,442.1 240.7,442.1 242.9,443.0 244.0,443.8 245.0,445.6 245.6,447.3 245.6,451.8 245.3,452.3 245.6,454.3 247.3,459.6 248.3,463.6 248.8,467.3 249.7,468.8 250.4,469.1 251.3,468.8 253.4,465.9 254.2,465.4 255.2,465.4 256.0,466.1 256.6,468.3 256.6,469.3 257.1,470.7 258.5,472.1 262.4,473.6 265.4,473.6 267.1,472.8 268.9,471.5 270.4,470.9 272.6,470.9 275.9,472.0 279.0,474.8 280.2,476.8 283.7,484.3 285.1,487.8 285.8,490.6 285.8,492.1 285.5,493.3 284.0,496.1 282.6,497.4 279.6,499.6 275.9,501.9 272.9,503.4 267.5,505.3 266.2,506.1 264.4,507.9 263.8,509.6 263.8,512.3 264.6,515.5 264.2,516.8 263.1,517.9 261.1,518.0 259.4,517.1 256.3,514.3 254.9,513.5 252.2,513.5 249.2,514.3 245.4,516.4 242.2,517.6 235.7,519.7 233.7,520.1Z"/><path fill-rule="evenodd" fill="#2c55b1" d="M233.4,519.7 231.2,519.5 225.9,518.4 221.7,516.9 215.4,514.3 210.9,512.8 206.9,511.5 200.4,509.9 197.7,508.4 196.8,507.6 195.2,503.6 195.2,501.3 195.8,498.8 197.5,496.1 201.3,491.8 203.3,489.1 204.2,486.8 204.7,484.3 205.0,478.8 205.7,474.3 205.7,471.8 204.7,468.8 205.0,464.3 206.7,458.6 206.7,456.8 206.4,455.8 205.0,453.8 204.2,451.8 204.0,445.8 205.0,441.6 206.0,438.8 209.3,434.6 212.7,431.4 215.7,429.4 217.9,428.6 222.2,428.4 224.4,428.9 226.0,429.8 227.0,431.6 227.6,433.8 227.3,434.8 227.3,436.6 226.3,440.3 226.6,441.6 227.4,442.7 231.4,445.2 232.7,445.6 233.9,445.6 235.2,444.9 237.2,443.2 238.7,442.6 240.7,442.7 242.7,443.4 243.5,444.1 244.5,445.8 245.1,447.6 245.1,451.6 244.8,452.8 245.1,454.6 246.8,459.8 247.8,463.8 248.4,467.6 249.4,469.2 250.4,469.6 251.7,469.2 253.7,466.3 254.2,465.9 254.9,465.9 255.5,466.3 256.1,469.6 256.8,471.1 258.4,472.6 262.1,474.1 265.6,474.1 267.4,473.2 269.1,471.9 270.6,471.4 272.4,471.4 275.6,472.4 278.5,475.1 279.8,477.1 283.3,484.6 285.0,489.3 285.3,490.8 285.0,493.1 284.0,495.1 283.5,495.8 281.1,497.9 275.6,501.4 272.6,502.9 267.4,504.8 265.9,505.7 264.0,507.6 263.3,509.6 263.3,512.3 264.1,515.3 263.8,516.5 262.9,517.4 261.4,517.5 259.6,516.7 256.6,513.9 255.2,513.0 252.2,513.0 249.2,513.8 245.2,515.9 241.9,517.2 235.7,519.2 233.4,519.7Z"/><path fill-rule="evenodd" fill="#2f5eb7" d="M216.9,484.6 213.9,484.8 209.4,484.4 206.9,483.7 205.3,482.8 205.5,478.8 206.2,474.3 206.2,471.8 205.2,468.8 205.5,464.3 207.2,458.8 207.2,456.2 210.1,454.6 211.1,453.6 208.4,452.7 207.0,451.3 205.5,447.1 205.3,443.8 205.6,441.6 206.5,439.1 209.7,434.8 211.9,432.6 216.9,429.4 219.9,428.9 222.2,428.9 224.2,429.4 225.5,430.1 226.6,431.8 227.1,433.8 226.8,436.6 225.9,440.1 226.0,441.8 221.3,448.6 220.9,449.6 221.8,453.8 225.1,457.1 226.2,459.1 226.3,460.8 225.7,464.1 225.5,465.8 226.9,470.8 227.2,474.1 226.8,476.1 226.2,477.8 225.2,479.6 224.0,481.1 222.6,482.3 220.9,483.3 218.9,484.1 216.9,484.6ZM233.4,519.1 232.7,519.2 229.6,518.5 218.6,514.5 206.9,511.0 200.7,509.5 197.9,508.0 197.2,507.3 196.5,505.8 195.7,503.6 195.7,501.3 196.2,499.1 196.7,498.1 200.5,493.3 202.9,490.5 205.2,490.0 207.4,490.0 210.2,490.9 213.2,492.6 218.5,496.8 221.3,497.8 223.9,498.3 225.4,498.2 227.0,497.3 228.4,495.8 233.9,486.5 234.8,484.6 234.5,483.1 232.3,479.8 231.1,477.6 230.6,476.1 230.4,474.6 230.6,473.1 231.2,471.6 232.3,470.1 234.4,467.9 234.7,466.8 233.4,461.8 232.2,458.7 230.9,457.3 227.9,456.5 226.2,455.3 225.1,453.1 225.1,450.8 226.0,449.1 227.7,447.7 230.4,446.8 231.7,445.9 232.7,446.1 234.2,446.0 235.4,445.4 236.7,444.1 237.9,443.4 238.7,443.1 240.4,443.1 242.4,443.9 243.1,444.6 243.9,445.8 244.5,447.6 244.6,451.3 244.3,452.8 244.7,455.1 244.4,458.3 245.0,462.8 244.8,466.3 245.0,467.3 245.9,468.3 248.7,470.2 253.4,471.8 255.2,472.7 256.7,474.1 257.8,476.1 258.2,478.1 258.1,480.1 257.5,481.8 256.1,484.8 255.7,486.3 256.0,488.3 257.1,492.3 257.6,492.5 258.1,492.2 264.9,484.5 270.4,480.9 273.9,479.2 279.6,478.4 279.9,478.5 281.1,480.8 283.3,486.1 284.6,489.6 284.8,491.8 284.6,492.8 283.1,495.6 279.1,498.7 272.4,502.5 267.1,504.3 264.9,505.9 263.1,505.4 260.9,504.2 259.5,502.8 258.1,500.6 257.9,500.6 258.0,502.3 258.6,503.5 262.1,505.7 263.5,507.1 262.9,509.3 262.8,512.3 263.6,515.3 263.3,516.3 262.6,517.0 261.4,517.0 259.9,516.2 257.0,513.5 255.4,512.6 252.2,512.5 248.9,513.3 244.9,515.5 241.7,516.7 235.4,518.7 233.4,519.1Z"/><path fill-rule="evenodd" fill="#3074c7" d="M211.9,451.8 210.2,452.0 208.8,451.6 207.9,450.6 207.1,448.6 206.5,446.6 206.4,444.8 207.0,439.6 207.4,438.6 210.2,435.1 212.2,433.1 216.7,430.1 218.2,429.6 221.9,429.4 224.8,430.3 226.0,431.8 226.5,434.1 226.3,436.3 225.3,440.6 224.7,441.8 221.7,445.8 219.7,447.8 214.9,450.9 211.9,451.8ZM251.9,480.8 250.9,481.0 249.9,480.9 246.4,479.0 245.4,479.2 242.2,480.3 239.7,480.2 238.4,479.7 237.2,478.9 235.7,476.8 235.4,475.1 235.7,473.6 236.6,472.1 238.5,470.3 238.5,469.6 235.8,465.1 233.7,459.1 231.9,455.3 231.2,454.5 228.7,453.4 228.2,452.6 228.1,451.8 228.3,451.1 228.9,450.4 231.4,449.3 232.7,446.7 234.2,446.5 235.4,445.9 236.9,444.6 238.2,443.8 238.9,443.6 240.2,443.7 242.2,445.2 243.1,446.8 243.8,450.1 243.9,453.3 243.3,458.3 243.8,463.6 243.5,465.3 242.0,469.6 241.9,470.3 247.2,475.7 248.2,475.9 251.4,475.8 252.4,476.1 253.2,476.7 253.7,477.8 253.7,479.1 253.1,480.1 251.9,480.8ZM210.2,482.6 208.9,482.6 207.7,482.4 206.2,481.7 206.0,481.3 206.0,479.1 206.7,474.6 206.7,472.1 205.7,468.6 205.7,467.8 205.9,467.1 206.0,464.6 207.6,459.1 207.7,457.3 213.4,454.2 216.9,453.2 218.4,453.2 219.4,453.7 223.5,457.3 224.7,458.8 225.1,460.1 224.8,461.8 223.4,465.6 220.1,471.1 220.1,472.1 221.0,475.1 220.8,477.3 219.7,479.3 217.9,480.5 216.2,481.1 212.9,481.5 210.2,482.6ZM265.1,504.9 263.6,504.2 261.7,503.1 260.7,502.1 260.2,501.1 259.7,499.3 259.2,495.3 259.4,493.8 259.9,492.6 264.7,486.3 267.4,484.1 271.6,481.4 273.6,480.4 276.1,479.9 279.9,479.6 282.4,485.1 284.1,489.8 284.3,491.6 283.3,494.3 282.6,495.3 280.6,497.0 274.9,500.7 272.1,502.0 267.4,503.7 265.1,504.9ZM234.7,518.3 231.9,517.7 218.2,513.3 204.4,509.9 199.9,508.5 197.7,507.1 196.7,504.8 196.2,501.6 196.9,498.8 198.5,496.6 202.4,491.9 204.7,491.2 206.4,491.0 208.4,491.4 211.4,492.9 217.2,497.3 218.9,498.2 223.7,499.5 225.9,499.4 227.9,498.3 229.7,496.7 234.0,489.3 236.3,486.1 237.9,484.4 241.4,482.5 243.2,482.0 244.9,482.2 247.9,483.4 249.7,484.5 250.7,485.4 252.3,488.1 254.5,493.8 256.3,502.1 256.9,503.6 258.0,504.8 261.4,506.9 262.7,508.1 262.4,509.3 262.3,512.3 263.0,515.3 262.8,516.0 262.4,516.5 261.6,516.5 260.6,516.0 259.1,515.0 257.2,513.0 255.4,512.1 251.9,512.0 248.7,512.9 245.1,514.8 241.4,516.3 234.7,518.3Z"/><path fill-rule="evenodd" fill="#2d96d9" d="M211.2,451.3 209.7,451.2 208.7,450.6 208.0,449.3 207.3,447.3 207.0,444.6 207.8,438.8 210.5,435.3 212.4,433.4 216.9,430.4 220.4,429.7 221.9,429.7 223.8,430.3 225.4,431.8 226.0,434.1 225.7,437.3 225.2,439.3 224.1,441.6 221.2,445.5 219.2,447.4 214.4,450.4 211.2,451.3ZM240.7,468.6 239.9,468.6 238.9,468.1 237.5,466.6 236.5,465.1 233.0,455.8 232.0,452.3 232.1,451.1 233.3,447.1 234.4,446.9 235.7,446.2 237.2,444.9 238.9,444.0 240.7,444.7 242.2,446.2 242.8,447.8 243.3,451.3 242.7,458.1 243.2,462.3 243.2,463.8 242.0,467.3 241.4,468.1 240.7,468.6ZM209.9,481.9 208.9,482.0 207.7,481.8 206.4,481.1 206.3,480.8 206.3,479.1 207.1,474.6 207.1,472.1 206.1,468.6 206.1,467.8 206.3,467.1 206.3,464.6 207.8,460.1 208.1,457.8 208.2,457.6 213.7,454.7 216.4,454.0 218.2,454.0 221.2,456.0 223.6,458.3 224.4,459.8 224.2,461.6 222.2,466.3 218.2,470.8 217.2,472.3 216.6,474.1 216.8,476.6 216.5,477.6 215.7,478.2 213.4,479.4 211.1,481.3 209.9,481.9ZM240.4,476.1 239.7,475.9 239.3,475.3 239.4,474.8 239.9,474.4 240.7,474.5 241.1,475.1 240.9,475.8 240.4,476.1ZM265.9,504.1 265.1,504.2 263.1,503.3 261.6,502.1 260.9,501.1 260.4,499.3 259.9,495.6 260.0,494.1 260.5,492.8 265.1,486.8 267.4,484.8 273.6,481.1 275.6,480.6 279.6,480.1 282.0,485.1 283.7,489.8 284.0,491.6 282.9,494.2 282.3,495.1 280.4,496.7 274.8,500.3 272.1,501.6 267.3,503.3 265.9,504.1ZM235.2,517.8 225.7,515.2 217.9,512.6 207.2,510.1 199.8,508.1 198.3,507.1 197.4,505.3 196.7,501.3 197.2,499.1 198.7,496.8 202.7,492.4 205.2,491.8 206.7,491.6 208.4,492.1 211.4,493.6 216.9,497.8 218.6,498.8 223.4,500.1 225.9,500.1 227.9,499.1 230.2,497.1 234.6,489.6 236.7,486.6 238.2,485.2 241.2,483.7 243.4,483.2 245.2,483.4 247.7,484.5 250.2,486.1 251.1,487.3 251.8,488.8 253.8,494.1 255.8,502.3 256.4,504.1 257.6,505.3 260.9,507.3 262.2,508.3 262.0,509.6 262.0,512.3 262.5,514.3 262.5,515.8 262.1,516.1 261.6,516.1 260.5,515.5 257.5,512.8 255.7,511.7 251.9,511.6 248.7,512.5 244.9,514.5 241.4,515.9 235.2,517.8Z"/><path fill-rule="evenodd" fill="#2db5db" d="M211.2,450.8 209.9,450.7 209.0,450.1 208.3,448.8 207.7,446.6 207.6,443.8 208.5,438.3 210.7,435.6 212.7,433.6 216.7,430.8 218.2,430.3 220.4,430.1 221.9,430.1 223.3,430.6 224.9,432.1 225.3,433.1 225.5,434.3 225.2,437.7 223.7,441.3 220.7,445.3 218.7,447.1 214.4,449.8 212.9,450.4 211.2,450.8ZM240.4,467.8 239.7,467.7 238.7,467.1 236.8,464.6 233.6,455.8 232.9,452.6 232.9,450.8 233.7,447.5 235.9,446.5 237.4,445.1 238.7,444.4 240.4,445.1 241.8,446.6 242.4,448.3 242.8,451.3 242.2,458.1 242.7,462.3 242.7,463.8 241.7,466.7 241.2,467.4 240.4,467.8ZM209.9,481.3 208.2,481.4 207.1,481.1 206.7,480.6 207.4,474.3 207.3,471.6 206.4,468.3 206.7,464.8 208.1,460.1 208.4,458.1 213.9,455.0 216.2,454.4 217.9,454.5 220.7,456.2 223.1,458.6 223.9,460.1 223.7,461.6 222.5,464.6 221.7,466.1 216.9,471.3 213.3,477.8 211.4,480.3 209.9,481.3ZM265.6,503.9 264.4,503.4 262.6,502.4 261.8,501.6 261.2,500.6 260.8,498.8 260.4,495.3 260.6,494.1 261.1,492.8 265.4,487.2 267.9,485.1 273.9,481.5 275.9,481.1 279.6,480.6 281.6,485.1 283.4,489.8 283.6,491.6 282.6,494.1 281.9,495.0 280.1,496.5 274.6,500.0 272.1,501.3 267.1,503.0 265.6,503.9ZM235.7,517.4 233.2,516.9 225.9,514.8 217.7,512.0 207.1,509.6 199.7,507.5 198.4,506.4 197.6,504.6 197.1,501.3 197.4,499.3 198.9,497.1 202.7,492.9 205.2,492.3 206.7,492.2 208.4,492.6 211.2,494.1 216.7,498.2 218.4,499.2 223.7,500.6 224.9,500.7 226.2,500.5 228.2,499.4 230.4,497.5 234.6,490.3 236.9,487.1 238.2,485.8 240.7,484.5 243.2,483.8 244.9,483.9 246.9,484.7 249.7,486.4 250.5,487.3 251.3,488.8 253.5,494.6 255.4,502.6 256.1,504.5 257.4,505.8 261.7,508.6 261.7,512.5 262.3,515.3 262.1,515.8 260.6,515.3 257.6,512.5 255.9,511.5 254.9,511.3 251.9,511.3 248.7,512.2 243.4,514.8 235.7,517.4Z"/><path fill-rule="evenodd" fill="#40b8b0" d="M211.4,450.3 210.2,450.2 209.4,449.8 208.7,448.4 208.1,446.3 207.9,444.8 208.2,442.5 208.6,439.6 209.1,438.1 211.0,435.6 212.7,433.9 217.2,430.9 221.4,430.3 223.2,431.0 224.7,432.5 225.1,434.6 224.7,437.8 223.3,441.1 220.7,444.6 218.7,446.5 214.4,449.3 211.4,450.3ZM240.7,467.1 239.9,467.2 239.1,466.8 237.9,465.6 237.2,464.3 234.1,456.1 233.4,452.8 233.5,450.6 234.1,447.6 236.2,446.6 237.6,445.3 238.4,444.8 240.2,445.5 241.4,446.8 241.9,448.2 242.4,451.1 242.4,452.8 241.8,458.1 242.3,463.6 241.6,465.8 240.7,467.1ZM209.4,481.1 207.9,481.0 206.9,480.3 207.7,474.3 207.6,471.6 206.7,468.3 206.9,464.8 208.3,460.3 208.7,458.3 214.2,455.2 216.2,454.7 217.9,454.9 220.4,456.6 222.8,458.8 223.4,460.1 223.2,461.8 222.2,464.5 221.2,466.1 216.2,471.5 211.4,479.6 210.4,480.6 209.4,481.1ZM265.9,503.4 264.9,503.2 263.3,502.3 262.3,501.6 261.6,500.5 261.2,498.8 260.9,495.3 261.1,494.1 261.6,492.8 265.9,487.3 268.4,485.3 274.1,481.9 277.4,481.3 279.6,481.2 281.9,486.6 283.1,490.1 283.4,491.3 282.5,493.8 281.8,494.8 280.0,496.3 274.4,499.9 272.0,501.1 268.4,502.2 265.9,503.4ZM235.7,517.1 225.7,514.4 217.9,511.6 199.9,507.1 198.7,506.1 197.8,504.1 197.4,501.3 197.7,499.3 199.2,497.2 202.4,493.5 204.9,492.8 206.7,492.6 208.3,493.1 211.2,494.5 216.4,498.6 218.2,499.6 223.4,501.0 224.9,501.1 226.2,500.9 228.4,499.7 230.7,497.7 234.8,490.6 237.1,487.3 238.4,486.1 240.7,484.9 243.2,484.2 244.9,484.3 246.9,485.1 249.6,486.8 251.0,489.1 253.2,494.6 255.2,503.1 255.9,504.8 257.1,506.1 261.4,508.9 261.4,512.5 262.0,515.3 261.9,515.5 260.8,515.0 257.9,512.4 255.9,511.2 251.9,511.1 248.4,512.0 244.4,514.1 235.7,517.1Z"/><path fill-rule="evenodd" fill="#5db559" d="M212.2,449.6 210.9,449.7 209.9,449.3 209.2,448.1 208.6,446.3 208.5,444.6 208.9,441.1 209.3,439.1 209.9,437.6 211.1,435.8 212.9,434.1 217.4,431.1 220.4,430.7 222.7,431.4 224.1,432.8 224.5,434.6 224.2,437.5 222.9,440.7 220.4,444.0 218.6,445.8 214.6,448.6 212.2,449.6ZM240.4,466.4 239.9,466.5 239.2,466.1 237.7,464.1 234.6,455.8 234.0,453.1 234.0,450.8 234.6,447.8 236.4,446.7 237.7,445.5 238.2,445.4 239.7,445.9 240.8,447.1 241.4,448.5 241.8,450.8 241.8,452.8 241.2,458.3 241.8,463.3 241.2,465.6 240.4,466.4ZM209.7,480.6 208.2,480.7 207.2,480.1 207.9,474.3 207.9,471.6 206.9,468.3 207.2,464.8 208.9,458.8 213.9,455.5 215.9,455.0 217.7,455.1 219.5,456.3 222.4,459.1 222.9,460.3 222.7,462.0 221.7,464.5 220.9,465.8 215.9,471.1 211.5,478.8 210.5,480.1 209.7,480.6ZM266.4,502.8 265.6,503.0 264.1,502.3 262.8,501.3 262.1,500.3 261.7,498.6 261.4,495.6 261.6,494.3 262.1,493.1 266.2,487.8 268.6,485.8 274.1,482.5 276.1,482.1 279.4,481.7 281.2,485.3 282.9,490.1 283.1,491.3 282.2,493.8 281.6,494.6 279.9,496.1 274.4,499.6 271.9,500.8 266.4,502.8ZM235.7,516.8 225.4,514.0 217.7,511.0 200.2,506.8 198.9,505.7 198.1,503.8 197.7,501.3 198.0,499.3 201.9,494.3 204.4,493.5 206.7,493.2 208.2,493.6 210.9,495.0 216.2,499.1 217.9,500.1 223.2,501.5 224.9,501.6 226.2,501.4 228.4,500.1 230.9,497.9 234.9,491.0 237.2,487.8 238.4,486.5 240.6,485.3 243.2,484.6 244.7,484.7 246.7,485.4 249.3,487.1 250.9,489.5 252.9,494.8 254.8,503.3 255.5,505.1 256.9,506.5 261.1,509.3 261.2,512.5 261.7,515.0 260.9,514.8 257.9,512.1 256.1,511.1 255.2,510.8 251.9,510.8 248.4,511.7 243.2,514.3 235.7,516.8Z"/><path fill-rule="evenodd" fill="#67b852" d="M236.4,453.3 235.9,453.2 235.6,452.3 235.7,451.3 236.2,450.6 236.6,451.1 236.8,451.8 236.7,452.8 236.4,453.3ZM208.9,480.1 208.2,480.0 207.6,479.6 208.3,474.6 208.3,472.1 207.3,468.1 207.5,467.1 207.5,464.8 209.1,459.8 211.2,457.8 213.8,456.1 215.7,455.4 217.4,455.6 219.1,456.8 221.4,460.1 221.6,461.3 221.1,463.6 219.9,465.9 215.1,471.1 210.7,478.9 209.7,479.8 208.9,480.1ZM235.9,516.3 226.3,513.8 224.2,513.0 221.1,511.1 220.3,510.1 220.2,509.1 223.5,503.8 227.4,501.8 231.0,498.6 235.2,491.5 238.4,487.3 239.9,486.3 242.2,485.4 243.7,485.2 244.9,485.4 247.2,486.3 248.7,487.2 249.5,488.1 250.4,489.6 252.7,495.6 254.6,504.8 255.2,506.2 256.8,508.8 257.0,509.8 256.4,510.6 255.4,510.4 251.9,510.4 249.9,510.8 247.9,511.5 242.9,514.0 235.9,516.3ZM266.4,502.3 264.6,501.6 263.3,500.3 262.8,498.8 263.0,496.8 263.4,495.7 263.9,495.1 267.5,493.3 268.5,490.3 270.0,488.3 272.6,486.7 274.1,486.3 275.9,486.2 277.6,486.4 279.1,486.9 280.4,487.6 281.6,488.8 282.4,489.8 282.7,491.6 281.9,493.5 280.9,494.8 277.9,497.1 274.1,498.8 272.1,500.3 266.4,502.3ZM204.2,506.1 202.2,506.2 200.4,505.9 199.4,505.2 198.5,503.6 198.1,501.6 198.5,499.3 199.9,497.4 200.9,496.8 202.7,496.6 204.4,497.2 206.0,498.6 207.0,500.3 207.2,502.1 206.8,503.8 205.7,505.3 204.2,506.1Z"/><path fill-rule="evenodd" fill="#8ac346" d="M209.4,478.6 208.9,478.8 208.3,478.6 208.3,477.3 208.7,474.6 208.7,472.1 207.8,468.3 208.0,465.1 208.7,462.3 209.2,461.2 210.2,459.8 213.1,457.1 215.2,456.0 216.9,456.0 218.0,456.8 218.4,458.1 216.3,464.3 216.2,465.3 216.5,466.3 216.5,466.8 214.1,470.1 210.9,476.6 209.4,478.6ZM236.7,515.6 234.9,515.3 230.9,513.9 225.6,512.8 223.7,511.6 223.5,510.3 223.9,509.6 224.7,508.8 227.5,507.3 228.4,506.6 228.8,505.6 229.3,502.8 229.8,501.6 232.2,498.1 235.4,492.5 238.2,488.9 239.4,487.8 241.2,486.8 243.2,486.2 244.9,486.3 247.4,487.3 248.7,488.2 249.7,489.6 250.9,492.3 252.1,495.8 252.9,499.6 253.1,503.1 252.9,505.6 251.8,508.1 250.2,510.3 247.9,511.0 242.9,513.5 236.7,515.6ZM275.9,496.1 274.1,495.9 272.7,495.3 271.8,494.3 271.4,493.1 271.5,491.6 272.1,490.4 273.4,489.4 274.9,489.0 276.6,489.0 278.1,489.6 279.3,490.8 279.8,492.1 279.7,493.6 278.9,494.7 277.6,495.6 275.9,496.1ZM267.6,501.3 266.4,501.1 265.3,500.3 264.9,499.3 265.0,498.1 265.9,497.1 267.1,496.5 268.6,496.4 269.9,496.7 271.0,497.8 271.2,498.8 271.0,499.6 270.1,500.6 267.6,501.3ZM202.2,504.6 201.2,504.7 200.2,504.4 199.4,503.7 198.9,502.8 198.8,501.6 199.0,500.3 199.7,499.3 200.4,498.9 201.7,498.9 202.8,499.3 203.7,500.1 204.3,501.1 204.3,502.3 203.9,503.3 203.2,504.1 202.2,504.6Z"/><path fill-rule="evenodd" fill="#bfd337" d="M209.2,470.3 208.9,470.5 208.7,470.3 208.1,468.3 208.3,465.1 208.9,462.8 211.0,459.8 213.4,457.3 215.2,456.4 216.2,456.3 216.8,456.6 217.5,457.3 217.5,458.6 215.3,463.3 212.5,467.3 210.9,469.0 209.2,470.3ZM237.2,515.1 235.2,514.5 231.7,512.9 227.9,512.7 226.4,512.4 225.1,511.6 224.9,510.6 225.9,509.4 229.2,508.3 230.1,507.6 230.5,506.3 231.0,502.3 231.6,500.6 235.2,494.1 237.7,490.9 239.9,488.9 242.1,487.8 244.2,487.4 246.2,487.8 247.8,488.6 248.9,489.7 250.2,491.9 251.2,494.3 251.9,497.1 252.3,499.8 252.2,502.3 251.7,504.3 250.3,507.6 248.2,510.6 243.9,512.8 237.2,515.1ZM276.6,494.9 274.6,494.9 273.6,494.5 273.0,493.8 272.6,493.1 272.6,492.1 272.9,491.3 273.7,490.6 274.9,490.0 276.1,490.0 277.4,490.5 278.3,491.3 278.6,492.3 278.5,493.3 277.7,494.3 276.6,494.9ZM268.6,500.4 267.4,500.4 266.4,499.8 266.1,498.8 266.6,497.9 268.1,497.4 268.9,497.6 269.6,498.1 269.9,498.6 269.9,499.3 269.4,499.9 268.6,500.4ZM201.9,503.6 201.2,503.7 200.4,503.6 199.5,502.6 199.4,501.1 199.9,500.3 200.4,500.0 201.9,500.0 202.7,500.5 203.1,501.1 203.2,501.8 203.1,502.6 202.7,503.1 201.9,503.6Z"/><path fill-rule="evenodd" fill="#e9e123" d="M208.7,469.4 208.3,468.3 208.5,465.1 208.9,463.6 209.7,462.3 211.5,459.8 213.4,457.8 215.2,456.8 216.4,456.9 216.9,457.6 216.8,458.8 214.5,463.6 211.7,467.2 209.9,468.7 208.7,469.4ZM238.9,514.4 237.7,514.4 235.9,513.8 231.4,511.2 227.9,511.9 226.8,511.6 226.3,510.8 227.2,510.0 230.4,509.7 231.2,509.1 231.6,507.6 231.9,503.1 232.5,500.6 234.7,496.1 237.2,492.6 239.4,490.6 241.7,489.4 243.9,488.8 246.2,489.0 247.5,489.6 248.7,490.6 249.7,492.1 250.7,494.3 251.3,496.8 251.6,499.1 251.6,501.1 251.2,503.1 249.3,507.3 248.0,509.3 246.4,511.1 243.9,512.5 238.9,514.4ZM276.4,494.1 274.9,494.1 273.9,493.4 273.6,492.3 274.1,491.3 274.9,490.9 275.9,490.8 276.6,491.0 277.3,491.6 277.6,492.3 277.5,493.1 277.1,493.6 276.4,494.1ZM268.1,499.2 267.6,499.1 267.7,498.8 268.3,498.8 268.1,499.2ZM201.4,502.8 200.7,502.8 200.2,502.2 200.1,501.3 200.7,500.8 201.7,500.9 202.2,501.6 202.1,502.3 201.4,502.8Z"/><path fill-rule="evenodd" fill="#f4ca20" d="M209.4,468.1 208.6,468.1 208.8,465.1 210.0,462.6 211.7,460.2 213.4,458.3 214.9,457.4 215.9,457.4 216.3,458.1 216.2,459.1 214.4,462.8 211.9,466.2 210.7,467.3 209.4,468.1ZM239.7,513.6 237.9,513.5 236.2,512.8 234.4,511.6 233.2,510.1 232.7,508.6 232.5,505.8 232.6,503.6 233.1,501.3 234.0,498.8 235.3,496.3 236.7,494.3 238.4,492.6 240.2,491.3 242.2,490.4 244.2,490.1 245.9,490.2 247.3,490.8 248.4,491.7 249.4,493.1 250.2,494.7 250.9,498.6 250.8,500.6 250.5,502.6 248.7,506.8 246.2,510.2 244.7,511.5 243.0,512.5 240.7,513.4 239.7,513.6ZM275.9,492.8 275.3,492.8 275.2,492.3 275.9,492.2 276.1,492.6 275.9,492.8Z"/><path fill-rule="evenodd" fill="#f5a422" d="M209.9,466.9 209.2,466.7 209.1,465.6 210.6,462.3 211.9,460.5 213.4,458.9 214.7,458.1 215.4,458.2 215.6,458.8 215.4,459.8 213.9,462.8 211.9,465.4 209.9,466.9ZM240.7,512.6 238.9,512.7 237.2,512.2 235.7,511.3 234.5,510.1 233.8,508.6 233.4,506.3 233.3,504.1 233.7,501.8 234.4,499.6 235.5,497.3 236.9,495.3 238.4,493.7 240.2,492.4 241.9,491.5 243.7,491.2 245.4,491.3 246.7,491.7 247.8,492.6 249.4,494.9 250.2,498.3 249.8,502.1 248.5,505.8 246.3,509.1 243.7,511.3 242.2,512.1 240.7,512.6Z"/><path fill-rule="evenodd" fill="#f17624" d="M210.9,465.1 210.4,465.1 210.3,464.6 211.1,462.6 212.9,460.3 214.2,459.6 214.3,460.3 213.6,462.1 212.2,464.1 210.9,465.1ZM240.4,511.6 238.9,511.6 237.4,511.1 236.2,510.3 235.2,509.1 234.5,507.6 234.2,505.8 234.2,503.8 234.5,501.8 235.2,499.8 236.2,497.8 237.4,496.0 238.9,494.5 240.4,493.4 242.2,492.6 243.7,492.3 245.2,492.5 246.4,493.0 247.4,493.8 248.8,496.1 249.3,499.1 248.9,502.3 247.7,505.6 245.7,508.5 243.2,510.6 240.4,511.6Z"/><path fill-rule="evenodd" fill="#ed4f26" d="M240.9,510.6 239.4,510.7 238.2,510.4 236.9,509.6 236.0,508.6 235.4,507.3 235.0,505.6 235.2,502.1 236.6,498.6 237.7,496.9 238.9,495.6 240.4,494.4 241.9,493.7 243.4,493.4 244.7,493.5 246.6,494.6 247.9,496.4 248.5,499.1 248.2,502.1 247.2,505.1 245.4,507.7 243.2,509.6 240.9,510.6Z"/><path fill-rule="evenodd" fill="#e83228" d="M240.9,509.8 239.7,509.9 238.4,509.6 237.4,509.0 236.5,508.1 235.9,506.8 235.6,505.3 235.8,502.1 237.1,498.8 239.2,496.2 240.4,495.2 241.9,494.5 243.2,494.3 244.4,494.4 246.2,495.3 247.4,497.1 247.9,499.3 247.6,502.1 246.7,504.8 245.2,507.1 243.2,508.9 240.9,509.8Z"/></g>
<rect x="186.40" y="419.30" width="111.50" height="110.70" fill="none" stroke="#a8a8a8" stroke-width="0.9"/>
<line x1="186.40" y1="419.30" x2="186.40" y2="530.00" stroke="#8a8a8a" stroke-width="0.8" />
<line x1="186.40" y1="530.00" x2="297.90" y2="530.00" stroke="#8a8a8a" stroke-width="0.8" />
<line x1="183.20" y1="425.00" x2="186.40" y2="425.00" stroke="#8a8a8a" stroke-width="0.6" />
<line x1="183.20" y1="443.90" x2="186.40" y2="443.90" stroke="#8a8a8a" stroke-width="0.6" />
<line x1="183.20" y1="463.50" x2="186.40" y2="463.50" stroke="#8a8a8a" stroke-width="0.6" />
<line x1="183.20" y1="482.70" x2="186.40" y2="482.70" stroke="#8a8a8a" stroke-width="0.6" />
<line x1="183.20" y1="502.30" x2="186.40" y2="502.30" stroke="#8a8a8a" stroke-width="0.6" />
<line x1="183.20" y1="521.00" x2="186.40" y2="521.00" stroke="#8a8a8a" stroke-width="0.6" />
<line x1="184.80" y1="428.78" x2="186.40" y2="428.78" stroke="#9a9a9a" stroke-width="0.4" />
<line x1="184.80" y1="432.56" x2="186.40" y2="432.56" stroke="#9a9a9a" stroke-width="0.4" />
<line x1="184.80" y1="436.34" x2="186.40" y2="436.34" stroke="#9a9a9a" stroke-width="0.4" />
<line x1="184.80" y1="440.12" x2="186.40" y2="440.12" stroke="#9a9a9a" stroke-width="0.4" />
<line x1="184.80" y1="447.82" x2="186.40" y2="447.82" stroke="#9a9a9a" stroke-width="0.4" />
<line x1="184.80" y1="451.74" x2="186.40" y2="451.74" stroke="#9a9a9a" stroke-width="0.4" />
<line x1="184.80" y1="455.66" x2="186.40" y2="455.66" stroke="#9a9a9a" stroke-width="0.4" />
<line x1="184.80" y1="459.58" x2="186.40" y2="459.58" stroke="#9a9a9a" stroke-width="0.4" />
<line x1="184.80" y1="467.34" x2="186.40" y2="467.34" stroke="#9a9a9a" stroke-width="0.4" />
<line x1="184.80" y1="471.18" x2="186.40" y2="471.18" stroke="#9a9a9a" stroke-width="0.4" />
<line x1="184.80" y1="475.02" x2="186.40" y2="475.02" stroke="#9a9a9a" stroke-width="0.4" />
<line x1="184.80" y1="478.86" x2="186.40" y2="478.86" stroke="#9a9a9a" stroke-width="0.4" />
<line x1="184.80" y1="486.62" x2="186.40" y2="486.62" stroke="#9a9a9a" stroke-width="0.4" />
<line x1="184.80" y1="490.54" x2="186.40" y2="490.54" stroke="#9a9a9a" stroke-width="0.4" />
<line x1="184.80" y1="494.46" x2="186.40" y2="494.46" stroke="#9a9a9a" stroke-width="0.4" />
<line x1="184.80" y1="498.38" x2="186.40" y2="498.38" stroke="#9a9a9a" stroke-width="0.4" />
<line x1="184.80" y1="506.04" x2="186.40" y2="506.04" stroke="#9a9a9a" stroke-width="0.4" />
<line x1="184.80" y1="509.78" x2="186.40" y2="509.78" stroke="#9a9a9a" stroke-width="0.4" />
<line x1="184.80" y1="513.52" x2="186.40" y2="513.52" stroke="#9a9a9a" stroke-width="0.4" />
<line x1="184.80" y1="517.26" x2="186.40" y2="517.26" stroke="#9a9a9a" stroke-width="0.4" />
<line x1="203.80" y1="530.00" x2="203.80" y2="533.20" stroke="#8a8a8a" stroke-width="0.6" />
<line x1="237.50" y1="530.00" x2="237.50" y2="533.20" stroke="#8a8a8a" stroke-width="0.6" />
<line x1="271.60" y1="530.00" x2="271.60" y2="533.20" stroke="#8a8a8a" stroke-width="0.6" />
<line x1="190.20" y1="530.00" x2="190.20" y2="531.60" stroke="#9a9a9a" stroke-width="0.4" />
<line x1="197.00" y1="530.00" x2="197.00" y2="531.60" stroke="#9a9a9a" stroke-width="0.4" />
<line x1="210.60" y1="530.00" x2="210.60" y2="531.60" stroke="#9a9a9a" stroke-width="0.4" />
<line x1="217.40" y1="530.00" x2="217.40" y2="531.60" stroke="#9a9a9a" stroke-width="0.4" />
<line x1="224.20" y1="530.00" x2="224.20" y2="531.60" stroke="#9a9a9a" stroke-width="0.4" />
<line x1="230.80" y1="530.00" x2="230.80" y2="531.60" stroke="#9a9a9a" stroke-width="0.4" />
<line x1="244.30" y1="530.00" x2="244.30" y2="531.60" stroke="#9a9a9a" stroke-width="0.4" />
<line x1="251.10" y1="530.00" x2="251.10" y2="531.60" stroke="#9a9a9a" stroke-width="0.4" />
<line x1="257.90" y1="530.00" x2="257.90" y2="531.60" stroke="#9a9a9a" stroke-width="0.4" />
<line x1="264.80" y1="530.00" x2="264.80" y2="531.60" stroke="#9a9a9a" stroke-width="0.4" />
<line x1="278.40" y1="530.00" x2="278.40" y2="531.60" stroke="#9a9a9a" stroke-width="0.4" />
<line x1="285.20" y1="530.00" x2="285.20" y2="531.60" stroke="#9a9a9a" stroke-width="0.4" />
<line x1="292.00" y1="530.00" x2="292.00" y2="531.60" stroke="#9a9a9a" stroke-width="0.4" />
<ellipse cx="214.35" cy="439.50" rx="18.5" ry="12.0" transform="rotate(-50 214.35 439.50)" fill="none" stroke="#1f7a55" stroke-width="0.8"/>
<ellipse cx="241.30" cy="456.60" rx="11.6" ry="16.4" transform="rotate(12 241.30 456.60)" fill="none" stroke="#333" stroke-width="0.55"/>
<ellipse cx="216.10" cy="469.20" rx="13.9" ry="14.6" transform="rotate(10 216.10 469.20)" fill="none" stroke="#333" stroke-width="0.55"/>
<ellipse cx="243.70" cy="496.00" rx="10.2" ry="22.3" transform="rotate(22 243.70 496.00)" fill="none" stroke="#333" stroke-width="0.55"/>
<ellipse cx="266.50" cy="484.30" rx="9.6" ry="20.4" transform="rotate(-12 266.50 484.30)" fill="none" stroke="#333" stroke-width="0.55"/>
<ellipse cx="286.10" cy="494.90" rx="8.3" ry="8.5" transform="rotate(0 286.10 494.90)" fill="none" stroke="#333" stroke-width="0.55"/>
<ellipse cx="261.80" cy="513.70" rx="7.9" ry="7.6" transform="rotate(0 261.80 513.70)" fill="none" stroke="#c8283c" stroke-width="0.8"/>
<text x="240.00" y="256.30" font-size="8.7" text-anchor="middle" ><tspan font-style="italic">c-Jun</tspan><tspan baseline-shift="0.62em" font-size="74%">fl/fl</tspan></text>
<text x="107.50" y="415.60" font-size="8.7" text-anchor="middle" ><tspan font-style="italic">c-Jun</tspan><tspan baseline-shift="0.62em" font-size="74%">Δ/Δ</tspan> <tspan font-style="italic">CD11c</tspan>-cre</text>
<text x="241.80" y="416.20" font-size="8.7" text-anchor="middle" ><tspan font-style="italic">Ccl2</tspan><tspan baseline-shift="0.62em" font-size="74%">−/−</tspan></text>
<text x="201.00" y="271.90" font-size="7.6" text-anchor="middle" >1</text>
<text x="253.40" y="283.60" font-size="7.6" text-anchor="middle" >1</text>
<text x="269.80" y="305.10" font-size="7.6" text-anchor="middle" >1</text>
<text x="198.50" y="323.10" font-size="7.6" text-anchor="middle" >1</text>
<text x="287.90" y="325.60" font-size="7.6" text-anchor="middle" >1</text>
<text x="232.00" y="366.00" font-size="7.6" text-anchor="middle" >1</text>
<text x="272.80" y="363.50" font-size="7.6" text-anchor="middle" >1</text>
<text x="295.20" y="271.90" font-size="7.6" text-anchor="end" >SI = 1</text>
<text x="64.10" y="430.80" font-size="7.6" text-anchor="middle" >0.5</text>
<text x="125.30" y="442.40" font-size="7.6" text-anchor="middle" >0.6</text>
<text x="136.30" y="461.50" font-size="7.6" text-anchor="middle" >1.1</text>
<text x="61.60" y="485.40" font-size="7.6" text-anchor="middle" >1.6</text>
<text x="156.60" y="484.20" font-size="7.6" text-anchor="middle" >1.3</text>
<text x="94.30" y="525.00" font-size="7.6" text-anchor="middle" >1.1</text>
<text x="142.40" y="522.10" font-size="7.6" text-anchor="middle" >0.9</text>
<text x="161.00" y="429.90" font-size="7.6" text-anchor="end" >SI = 0.5</text>
<text x="203.40" y="430.80" font-size="7.6" text-anchor="middle" >0.5</text>
<text x="259.50" y="442.60" font-size="7.6" text-anchor="middle" >0.5</text>
<text x="273.70" y="460.40" font-size="7.6" text-anchor="middle" >0.6</text>
<text x="194.30" y="486.60" font-size="7.6" text-anchor="middle" >2.1</text>
<text x="291.50" y="484.20" font-size="7.6" text-anchor="middle" >1.0</text>
<text x="227.70" y="525.90" font-size="7.6" text-anchor="middle" >2.1</text>
<text x="276.00" y="524.00" font-size="7.6" text-anchor="middle" >2.6</text>
<text x="295.50" y="429.00" font-size="7.6" text-anchor="end" >SI = 0.5</text>
<line x1="21.00" y1="263.50" x2="21.00" y2="494.50" stroke="#8896b4" stroke-width="1.0" />
<path d="M21,260.8 L23.0,265.5 L19.0,265.5 Z" fill="#8896b4"/>
<text x="23.60" y="514.30" font-size="8.3" text-anchor="middle" textLength="30.90" lengthAdjust="spacingAndGlyphs" transform="rotate(-90 23.60 514.30)" >UMAP-Y</text>
<text x="52.30" y="544.70" font-size="8.3" textLength="31.90" lengthAdjust="spacingAndGlyphs" >UMAP-X</text>
<line x1="87.40" y1="541.80" x2="295.00" y2="541.80" stroke="#8896b4" stroke-width="1.0" />
<path d="M297.8,541.8 L293.0,539.8 L293.0,543.8 Z" fill="#8896b4"/>
<text x="331.80" y="251.20" font-size="12.5" font-weight="bold" fill="#111" >e</text>
<text x="359.00" y="253.70" font-size="8.2" textLength="73.00" lengthAdjust="spacingAndGlyphs" >Tumor monocytes</text>
<text x="340.60" y="321.80" font-size="8.4" text-anchor="middle" textLength="59.60" lengthAdjust="spacingAndGlyphs" transform="rotate(-90 340.60 321.80)" >Cells (% CD45)</text>
<line x1="361.90" y1="272.00" x2="361.90" y2="371.60" stroke="#7a7a7a" stroke-width="0.7" />
<line x1="358.30" y1="371.60" x2="361.90" y2="371.60" stroke="#7a7a7a" stroke-width="0.7" />
<text x="354.90" y="374.05" font-size="8.0" text-anchor="end" >0</text>
<line x1="358.30" y1="351.68" x2="361.90" y2="351.68" stroke="#7a7a7a" stroke-width="0.7" />
<text x="354.90" y="354.13" font-size="8.0" text-anchor="end" >2</text>
<line x1="358.30" y1="331.76" x2="361.90" y2="331.76" stroke="#7a7a7a" stroke-width="0.7" />
<text x="354.90" y="334.21" font-size="8.0" text-anchor="end" >4</text>
<line x1="358.30" y1="311.84" x2="361.90" y2="311.84" stroke="#7a7a7a" stroke-width="0.7" />
<text x="354.90" y="314.29" font-size="8.0" text-anchor="end" >6</text>
<line x1="358.30" y1="291.92" x2="361.90" y2="291.92" stroke="#7a7a7a" stroke-width="0.7" />
<text x="354.90" y="294.37" font-size="8.0" text-anchor="end" >8</text>
<line x1="358.30" y1="272.00" x2="361.90" y2="272.00" stroke="#7a7a7a" stroke-width="0.7" />
<text x="354.90" y="274.45" font-size="8.0" text-anchor="end" >10</text>
<path d="M369.10,371.60 V338.20 H381.70 V371.60" fill="#fff" stroke="#6a6a6a" stroke-width="0.7"/>
<path d="M389.40,371.60 V331.90 H401.60 V371.60" fill="#fff" stroke="#6a6a6a" stroke-width="0.7"/>
<path d="M409.30,371.60 V335.80 H421.70 V371.60" fill="#fff" stroke="#6a6a6a" stroke-width="0.7"/>
<line x1="361.90" y1="371.60" x2="429.20" y2="371.60" stroke="#7a7a7a" stroke-width="0.7" />
<circle cx="375.90" cy="303.10" r="2.47" fill="#d8d8d8" stroke="#333333" stroke-width="0.55"/>
<circle cx="375.90" cy="307.10" r="2.47" fill="#d8d8d8" stroke="#333333" stroke-width="0.55"/>
<circle cx="371.20" cy="337.00" r="2.47" fill="#d8d8d8" stroke="#333333" stroke-width="0.55"/>
<circle cx="375.90" cy="336.30" r="2.47" fill="#d8d8d8" stroke="#333333" stroke-width="0.55"/>
<circle cx="375.90" cy="339.80" r="2.47" fill="#d8d8d8" stroke="#333333" stroke-width="0.55"/>
<circle cx="371.20" cy="349.90" r="2.47" fill="#d8d8d8" stroke="#333333" stroke-width="0.55"/>
<circle cx="380.10" cy="346.80" r="2.47" fill="#d8d8d8" stroke="#333333" stroke-width="0.55"/>
<circle cx="375.90" cy="355.50" r="2.47" fill="#d8d8d8" stroke="#333333" stroke-width="0.55"/>
<circle cx="375.90" cy="366.70" r="2.47" fill="#d8d8d8" stroke="#333333" stroke-width="0.55"/>
<line x1="375.40" y1="331.20" x2="375.40" y2="345.20" stroke="#444" stroke-width="0.6" />
<line x1="373.20" y1="331.20" x2="377.60" y2="331.20" stroke="#444" stroke-width="0.6" />
<line x1="373.20" y1="345.20" x2="377.60" y2="345.20" stroke="#444" stroke-width="0.6" />
<rect x="393.50" y="300.90" width="4.40" height="4.40" fill="#e98c91" stroke="#333333" stroke-width="0.5"/>
<rect x="393.50" y="311.90" width="4.40" height="4.40" fill="#e98c91" stroke="#333333" stroke-width="0.5"/>
<rect x="393.50" y="324.80" width="4.40" height="4.40" fill="#e98c91" stroke="#333333" stroke-width="0.5"/>
<rect x="393.50" y="334.80" width="4.40" height="4.40" fill="#e98c91" stroke="#333333" stroke-width="0.5"/>
<rect x="393.50" y="341.80" width="4.40" height="4.40" fill="#e98c91" stroke="#333333" stroke-width="0.5"/>
<rect x="393.50" y="361.40" width="4.40" height="4.40" fill="#e98c91" stroke="#333333" stroke-width="0.5"/>
<line x1="395.50" y1="322.50" x2="395.50" y2="340.30" stroke="#444" stroke-width="0.6" />
<line x1="393.30" y1="322.50" x2="397.70" y2="322.50" stroke="#444" stroke-width="0.6" />
<line x1="393.30" y1="340.30" x2="397.70" y2="340.30" stroke="#444" stroke-width="0.6" />
<path d="M415.60,296.70 L418.10,300.88 L413.10,300.88 Z" fill="#111" stroke="#111" stroke-width="0.3"/>
<path d="M415.60,304.90 L418.10,309.08 L413.10,309.08 Z" fill="#111" stroke="#111" stroke-width="0.3"/>
<path d="M415.60,316.60 L418.10,320.78 L413.10,320.78 Z" fill="#111" stroke="#111" stroke-width="0.3"/>
<path d="M415.60,323.10 L418.10,327.28 L413.10,327.28 Z" fill="#111" stroke="#111" stroke-width="0.3"/>
<path d="M415.60,336.40 L418.10,340.58 L413.10,340.58 Z" fill="#111" stroke="#111" stroke-width="0.3"/>
<path d="M410.50,350.50 L413.00,354.68 L408.00,354.68 Z" fill="#111" stroke="#111" stroke-width="0.3"/>
<path d="M420.30,348.80 L422.80,352.98 L417.80,352.98 Z" fill="#111" stroke="#111" stroke-width="0.3"/>
<path d="M415.60,355.80 L418.10,359.98 L413.10,359.98 Z" fill="#111" stroke="#111" stroke-width="0.3"/>
<path d="M415.60,367.50 L418.10,371.68 L413.10,371.68 Z" fill="#111" stroke="#111" stroke-width="0.3"/>
<line x1="415.50" y1="326.50" x2="415.50" y2="343.30" stroke="#444" stroke-width="0.6" />
<line x1="413.30" y1="326.50" x2="417.70" y2="326.50" stroke="#444" stroke-width="0.6" />
<line x1="413.30" y1="343.30" x2="417.70" y2="343.30" stroke="#444" stroke-width="0.6" />
<line x1="374.30" y1="280.70" x2="415.60" y2="280.70" stroke="#8a8a8a" stroke-width="0.75" />
<text x="395.30" y="278.80" font-size="7.0" text-anchor="middle" >NS</text>
<line x1="374.30" y1="287.20" x2="396.40" y2="287.20" stroke="#8a8a8a" stroke-width="0.75" />
<text x="477.00" y="253.70" font-size="8.2" textLength="73.50" lengthAdjust="spacingAndGlyphs" >Tumor neutrophils</text>
<text x="462.50" y="322.00" font-size="8.4" text-anchor="middle" textLength="59.90" lengthAdjust="spacingAndGlyphs" transform="rotate(-90 462.50 322.00)" >Cells (% CD45)</text>
<line x1="480.40" y1="272.20" x2="480.40" y2="371.80" stroke="#7a7a7a" stroke-width="0.7" />
<line x1="476.80" y1="371.80" x2="480.40" y2="371.80" stroke="#7a7a7a" stroke-width="0.7" />
<text x="473.70" y="374.25" font-size="8.0" text-anchor="end" >0</text>
<line x1="476.80" y1="346.90" x2="480.40" y2="346.90" stroke="#7a7a7a" stroke-width="0.7" />
<text x="473.70" y="349.35" font-size="8.0" text-anchor="end" >2</text>
<line x1="476.80" y1="322.00" x2="480.40" y2="322.00" stroke="#7a7a7a" stroke-width="0.7" />
<text x="473.70" y="324.45" font-size="8.0" text-anchor="end" >4</text>
<line x1="476.80" y1="297.10" x2="480.40" y2="297.10" stroke="#7a7a7a" stroke-width="0.7" />
<text x="473.70" y="299.55" font-size="8.0" text-anchor="end" >6</text>
<line x1="476.80" y1="272.20" x2="480.40" y2="272.20" stroke="#7a7a7a" stroke-width="0.7" />
<text x="473.70" y="274.65" font-size="8.0" text-anchor="end" >8</text>
<path d="M487.50,371.80 V355.30 H500.70 V371.80" fill="#fff" stroke="#6a6a6a" stroke-width="0.7"/>
<path d="M507.40,371.80 V364.00 H520.40 V371.80" fill="#fff" stroke="#6a6a6a" stroke-width="0.7"/>
<path d="M527.70,371.80 V335.20 H540.30 V371.80" fill="#fff" stroke="#6a6a6a" stroke-width="0.7"/>
<line x1="480.40" y1="371.80" x2="547.40" y2="371.80" stroke="#7a7a7a" stroke-width="0.7" />
<circle cx="489.50" cy="343.30" r="2.47" fill="#d8d8d8" stroke="#333333" stroke-width="0.55"/>
<circle cx="498.70" cy="345.80" r="2.47" fill="#d8d8d8" stroke="#333333" stroke-width="0.55"/>
<circle cx="489.50" cy="357.00" r="2.47" fill="#d8d8d8" stroke="#333333" stroke-width="0.55"/>
<circle cx="494.00" cy="358.00" r="2.47" fill="#d8d8d8" stroke="#333333" stroke-width="0.55"/>
<circle cx="498.70" cy="359.00" r="2.47" fill="#d8d8d8" stroke="#333333" stroke-width="0.55"/>
<circle cx="489.50" cy="363.00" r="2.47" fill="#d8d8d8" stroke="#333333" stroke-width="0.55"/>
<circle cx="494.00" cy="366.50" r="2.47" fill="#d8d8d8" stroke="#333333" stroke-width="0.55"/>
<circle cx="498.70" cy="366.50" r="2.47" fill="#d8d8d8" stroke="#333333" stroke-width="0.55"/>
<circle cx="489.50" cy="369.80" r="2.47" fill="#d8d8d8" stroke="#333333" stroke-width="0.55"/>
<line x1="494.10" y1="351.50" x2="494.10" y2="359.00" stroke="#444" stroke-width="0.6" />
<line x1="491.90" y1="351.50" x2="496.30" y2="351.50" stroke="#444" stroke-width="0.6" />
<line x1="491.90" y1="359.00" x2="496.30" y2="359.00" stroke="#444" stroke-width="0.6" />
<rect x="511.70" y="353.30" width="4.40" height="4.40" fill="#e98c91" stroke="#333333" stroke-width="0.5"/>
<rect x="507.20" y="362.30" width="4.40" height="4.40" fill="#e98c91" stroke="#333333" stroke-width="0.5"/>
<rect x="511.70" y="362.30" width="4.40" height="4.40" fill="#e98c91" stroke="#333333" stroke-width="0.5"/>
<rect x="516.40" y="362.80" width="4.40" height="4.40" fill="#e98c91" stroke="#333333" stroke-width="0.5"/>
<rect x="507.20" y="367.80" width="4.40" height="4.40" fill="#e98c91" stroke="#333333" stroke-width="0.5"/>
<rect x="511.70" y="366.80" width="4.40" height="4.40" fill="#e98c91" stroke="#333333" stroke-width="0.5"/>
<rect x="516.40" y="367.80" width="4.40" height="4.40" fill="#e98c91" stroke="#333333" stroke-width="0.5"/>
<line x1="513.90" y1="361.50" x2="513.90" y2="366.50" stroke="#444" stroke-width="0.6" />
<line x1="511.70" y1="361.50" x2="516.10" y2="361.50" stroke="#444" stroke-width="0.6" />
<line x1="511.70" y1="366.50" x2="516.10" y2="366.50" stroke="#444" stroke-width="0.6" />
<path d="M533.80,291.40 L536.30,295.58 L531.30,295.58 Z" fill="#111" stroke="#111" stroke-width="0.3"/>
<path d="M533.80,299.90 L536.30,304.08 L531.30,304.08 Z" fill="#111" stroke="#111" stroke-width="0.3"/>
<path d="M533.80,308.60 L536.30,312.78 L531.30,312.78 Z" fill="#111" stroke="#111" stroke-width="0.3"/>
<path d="M533.80,337.50 L536.30,341.68 L531.30,341.68 Z" fill="#111" stroke="#111" stroke-width="0.3"/>
<path d="M529.30,353.80 L531.80,357.98 L526.80,357.98 Z" fill="#111" stroke="#111" stroke-width="0.3"/>
<path d="M533.80,355.40 L536.30,359.58 L531.30,359.58 Z" fill="#111" stroke="#111" stroke-width="0.3"/>
<path d="M538.30,356.80 L540.80,360.98 L535.80,360.98 Z" fill="#111" stroke="#111" stroke-width="0.3"/>
<path d="M529.30,357.80 L531.80,361.98 L526.80,361.98 Z" fill="#111" stroke="#111" stroke-width="0.3"/>
<line x1="534.00" y1="324.50" x2="534.00" y2="344.80" stroke="#444" stroke-width="0.6" />
<line x1="531.80" y1="324.50" x2="536.20" y2="324.50" stroke="#444" stroke-width="0.6" />
<line x1="531.80" y1="344.80" x2="536.20" y2="344.80" stroke="#444" stroke-width="0.6" />
<line x1="491.60" y1="273.70" x2="534.60" y2="273.70" stroke="#8a8a8a" stroke-width="0.75" />
<text x="513.10" y="271.20" font-size="7.4" text-anchor="middle" textLength="35.00" lengthAdjust="spacingAndGlyphs" >P = 0.0416</text>
<line x1="515.50" y1="288.90" x2="534.60" y2="288.90" stroke="#8a8a8a" stroke-width="0.75" />
<text x="524.70" y="286.80" font-size="7.4" text-anchor="middle" textLength="34.60" lengthAdjust="spacingAndGlyphs" >P = 0.0142</text>
<text x="594.30" y="253.70" font-size="8.2" textLength="83.20" lengthAdjust="spacingAndGlyphs" >Tumor macrophages</text>
<text x="581.00" y="321.95" font-size="8.4" text-anchor="middle" textLength="59.90" lengthAdjust="spacingAndGlyphs" transform="rotate(-90 581.00 321.95)" >Cells (% CD45)</text>
<line x1="601.40" y1="272.20" x2="601.40" y2="371.70" stroke="#7a7a7a" stroke-width="0.7" />
<line x1="597.80" y1="371.70" x2="601.40" y2="371.70" stroke="#7a7a7a" stroke-width="0.7" />
<text x="595.90" y="374.15" font-size="8.0" text-anchor="end" >0</text>
<line x1="597.80" y1="346.82" x2="601.40" y2="346.82" stroke="#7a7a7a" stroke-width="0.7" />
<text x="595.90" y="349.27" font-size="8.0" text-anchor="end" >10</text>
<line x1="597.80" y1="321.95" x2="601.40" y2="321.95" stroke="#7a7a7a" stroke-width="0.7" />
<text x="595.90" y="324.40" font-size="8.0" text-anchor="end" >20</text>
<line x1="597.80" y1="297.07" x2="601.40" y2="297.07" stroke="#7a7a7a" stroke-width="0.7" />
<text x="595.90" y="299.52" font-size="8.0" text-anchor="end" >30</text>
<line x1="597.80" y1="272.20" x2="601.40" y2="272.20" stroke="#7a7a7a" stroke-width="0.7" />
<text x="595.90" y="274.65" font-size="8.0" text-anchor="end" >40</text>
<path d="M609.50,371.70 V315.20 H622.70 V371.70" fill="#fff" stroke="#6a6a6a" stroke-width="0.7"/>
<path d="M629.40,371.70 V318.30 H642.40 V371.70" fill="#fff" stroke="#6a6a6a" stroke-width="0.7"/>
<path d="M649.10,371.70 V326.40 H662.70 V371.70" fill="#fff" stroke="#6a6a6a" stroke-width="0.7"/>
<line x1="601.40" y1="371.70" x2="669.40" y2="371.70" stroke="#7a7a7a" stroke-width="0.7" />
<circle cx="616.20" cy="279.30" r="2.47" fill="#d8d8d8" stroke="#333333" stroke-width="0.55"/>
<circle cx="611.10" cy="297.40" r="2.47" fill="#d8d8d8" stroke="#333333" stroke-width="0.55"/>
<circle cx="616.20" cy="297.40" r="2.47" fill="#d8d8d8" stroke="#333333" stroke-width="0.55"/>
<circle cx="621.30" cy="297.40" r="2.47" fill="#d8d8d8" stroke="#333333" stroke-width="0.55"/>
<circle cx="616.20" cy="306.70" r="2.47" fill="#d8d8d8" stroke="#333333" stroke-width="0.55"/>
<circle cx="616.20" cy="317.30" r="2.47" fill="#d8d8d8" stroke="#333333" stroke-width="0.55"/>
<circle cx="621.30" cy="340.60" r="2.47" fill="#d8d8d8" stroke="#333333" stroke-width="0.55"/>
<circle cx="616.20" cy="345.30" r="2.47" fill="#d8d8d8" stroke="#333333" stroke-width="0.55"/>
<circle cx="616.20" cy="349.70" r="2.47" fill="#d8d8d8" stroke="#333333" stroke-width="0.55"/>
<line x1="616.10" y1="306.10" x2="616.10" y2="323.00" stroke="#444" stroke-width="0.6" />
<line x1="613.90" y1="306.10" x2="618.30" y2="306.10" stroke="#444" stroke-width="0.6" />
<line x1="613.90" y1="323.00" x2="618.30" y2="323.00" stroke="#444" stroke-width="0.6" />
<rect x="633.70" y="288.10" width="4.40" height="4.40" fill="#e98c91" stroke="#333333" stroke-width="0.5"/>
<rect x="633.70" y="297.20" width="4.40" height="4.40" fill="#e98c91" stroke="#333333" stroke-width="0.5"/>
<rect x="633.70" y="301.90" width="4.40" height="4.40" fill="#e98c91" stroke="#333333" stroke-width="0.5"/>
<rect x="633.70" y="313.50" width="4.40" height="4.40" fill="#e98c91" stroke="#333333" stroke-width="0.5"/>
<rect x="633.70" y="342.90" width="4.40" height="4.40" fill="#e98c91" stroke="#333333" stroke-width="0.5"/>
<rect x="633.70" y="349.20" width="4.40" height="4.40" fill="#e98c91" stroke="#333333" stroke-width="0.5"/>
<line x1="635.90" y1="307.10" x2="635.90" y2="327.80" stroke="#444" stroke-width="0.6" />
<line x1="633.70" y1="307.10" x2="638.10" y2="307.10" stroke="#444" stroke-width="0.6" />
<line x1="633.70" y1="327.80" x2="638.10" y2="327.80" stroke="#444" stroke-width="0.6" />
<path d="M656.20,283.00 L658.70,287.18 L653.70,287.18 Z" fill="#111" stroke="#111" stroke-width="0.3"/>
<path d="M651.50,297.40 L654.00,301.58 L649.00,301.58 Z" fill="#111" stroke="#111" stroke-width="0.3"/>
<path d="M660.60,300.90 L663.10,305.08 L658.10,305.08 Z" fill="#111" stroke="#111" stroke-width="0.3"/>
<path d="M656.20,305.50 L658.70,309.68 L653.70,309.68 Z" fill="#111" stroke="#111" stroke-width="0.3"/>
<path d="M656.20,333.80 L658.70,337.98 L653.70,337.98 Z" fill="#111" stroke="#111" stroke-width="0.3"/>
<path d="M656.20,339.40 L658.70,343.58 L653.70,343.58 Z" fill="#111" stroke="#111" stroke-width="0.3"/>
<path d="M656.20,349.00 L658.70,353.18 L653.70,353.18 Z" fill="#111" stroke="#111" stroke-width="0.3"/>
<path d="M651.50,352.60 L654.00,356.78 L649.00,356.78 Z" fill="#111" stroke="#111" stroke-width="0.3"/>
<path d="M660.60,350.60 L663.10,354.78 L658.10,354.78 Z" fill="#111" stroke="#111" stroke-width="0.3"/>
<line x1="655.90" y1="316.70" x2="655.90" y2="334.50" stroke="#444" stroke-width="0.6" />
<line x1="653.70" y1="316.70" x2="658.10" y2="316.70" stroke="#444" stroke-width="0.6" />
<line x1="653.70" y1="334.50" x2="658.10" y2="334.50" stroke="#444" stroke-width="0.6" />
<line x1="615.60" y1="266.50" x2="656.80" y2="266.50" stroke="#8a8a8a" stroke-width="0.75" />
<text x="636.50" y="264.40" font-size="7.0" text-anchor="middle" >NS</text>
<line x1="615.60" y1="272.20" x2="637.50" y2="272.20" stroke="#8a8a8a" stroke-width="0.75" />
<text x="331.00" y="402.80" font-size="12.5" font-weight="bold" fill="#111" >f</text>
<text x="364.30" y="409.00" font-size="8.2" textLength="61.70" lengthAdjust="spacingAndGlyphs" >Tumor CD4<tspan baseline-shift="0.62em" font-size="74%">+</tspan> TC</text>
<text x="339.50" y="474.00" font-size="8.4" text-anchor="middle" textLength="59.90" lengthAdjust="spacingAndGlyphs" transform="rotate(-90 339.50 474.00)" >Cells (% CD45)</text>
<line x1="361.50" y1="424.40" x2="361.50" y2="523.60" stroke="#7a7a7a" stroke-width="0.7" />
<line x1="357.90" y1="523.60" x2="361.50" y2="523.60" stroke="#7a7a7a" stroke-width="0.7" />
<text x="355.30" y="526.05" font-size="8.0" text-anchor="end" >0</text>
<line x1="357.90" y1="490.53" x2="361.50" y2="490.53" stroke="#7a7a7a" stroke-width="0.7" />
<text x="355.30" y="492.98" font-size="8.0" text-anchor="end" >10</text>
<line x1="357.90" y1="457.47" x2="361.50" y2="457.47" stroke="#7a7a7a" stroke-width="0.7" />
<text x="355.30" y="459.92" font-size="8.0" text-anchor="end" >20</text>
<line x1="357.90" y1="424.40" x2="361.50" y2="424.40" stroke="#7a7a7a" stroke-width="0.7" />
<text x="355.30" y="426.85" font-size="8.0" text-anchor="end" >30</text>
<path d="M368.70,523.60 V463.40 H381.20 V523.60" fill="#fff" stroke="#6a6a6a" stroke-width="0.7"/>
<path d="M388.40,523.60 V488.40 H401.50 V523.60" fill="#fff" stroke="#6a6a6a" stroke-width="0.7"/>
<path d="M408.10,523.60 V506.10 H421.70 V523.60" fill="#fff" stroke="#6a6a6a" stroke-width="0.7"/>
<line x1="361.50" y1="523.60" x2="428.20" y2="523.60" stroke="#7a7a7a" stroke-width="0.7" />
<circle cx="375.00" cy="445.20" r="2.47" fill="#d8d8d8" stroke="#333333" stroke-width="0.55"/>
<circle cx="380.10" cy="456.40" r="2.47" fill="#d8d8d8" stroke="#333333" stroke-width="0.55"/>
<circle cx="375.00" cy="460.10" r="2.47" fill="#d8d8d8" stroke="#333333" stroke-width="0.55"/>
<circle cx="370.70" cy="478.10" r="2.47" fill="#d8d8d8" stroke="#333333" stroke-width="0.55"/>
<circle cx="380.10" cy="476.30" r="2.47" fill="#d8d8d8" stroke="#333333" stroke-width="0.55"/>
<line x1="374.95" y1="456.60" x2="374.95" y2="468.90" stroke="#444" stroke-width="0.6" />
<line x1="372.75" y1="456.60" x2="377.15" y2="456.60" stroke="#444" stroke-width="0.6" />
<line x1="372.75" y1="468.90" x2="377.15" y2="468.90" stroke="#444" stroke-width="0.6" />
<rect x="392.80" y="454.40" width="4.40" height="4.40" fill="#e98c91" stroke="#333333" stroke-width="0.5"/>
<rect x="392.80" y="467.50" width="4.40" height="4.40" fill="#e98c91" stroke="#333333" stroke-width="0.5"/>
<rect x="392.80" y="477.40" width="4.40" height="4.40" fill="#e98c91" stroke="#333333" stroke-width="0.5"/>
<rect x="388.20" y="498.40" width="4.40" height="4.40" fill="#e98c91" stroke="#333333" stroke-width="0.5"/>
<rect x="397.60" y="497.80" width="4.40" height="4.40" fill="#e98c91" stroke="#333333" stroke-width="0.5"/>
<rect x="392.80" y="517.50" width="4.40" height="4.40" fill="#e98c91" stroke="#333333" stroke-width="0.5"/>
<line x1="394.95" y1="478.70" x2="394.95" y2="496.70" stroke="#444" stroke-width="0.6" />
<line x1="392.75" y1="478.70" x2="397.15" y2="478.70" stroke="#444" stroke-width="0.6" />
<line x1="392.75" y1="496.70" x2="397.15" y2="496.70" stroke="#444" stroke-width="0.6" />
<path d="M412.50,487.50 L415.00,491.68 L410.00,491.68 Z" fill="#111" stroke="#111" stroke-width="0.3"/>
<path d="M412.50,494.50 L415.00,498.68 L410.00,498.68 Z" fill="#111" stroke="#111" stroke-width="0.3"/>
<path d="M418.80,497.30 L421.30,501.48 L416.30,501.48 Z" fill="#111" stroke="#111" stroke-width="0.3"/>
<path d="M410.10,498.80 L412.60,502.98 L407.60,502.98 Z" fill="#111" stroke="#111" stroke-width="0.3"/>
<path d="M414.70,500.60 L417.20,504.78 L412.20,504.78 Z" fill="#111" stroke="#111" stroke-width="0.3"/>
<path d="M419.50,502.10 L422.00,506.28 L417.00,506.28 Z" fill="#111" stroke="#111" stroke-width="0.3"/>
<path d="M410.10,513.70 L412.60,517.88 L407.60,517.88 Z" fill="#111" stroke="#111" stroke-width="0.3"/>
<path d="M414.70,514.20 L417.20,518.38 L412.20,518.38 Z" fill="#111" stroke="#111" stroke-width="0.3"/>
<path d="M419.50,514.20 L422.00,518.38 L417.00,518.38 Z" fill="#111" stroke="#111" stroke-width="0.3"/>
<path d="M412.50,513.70 L415.00,517.88 L410.00,517.88 Z" fill="#111" stroke="#111" stroke-width="0.3"/>
<line x1="414.90" y1="503.20" x2="414.90" y2="509.40" stroke="#444" stroke-width="0.6" />
<line x1="412.70" y1="503.20" x2="417.10" y2="503.20" stroke="#444" stroke-width="0.6" />
<line x1="412.70" y1="509.40" x2="417.10" y2="509.40" stroke="#444" stroke-width="0.6" />
<line x1="373.90" y1="424.40" x2="414.70" y2="424.40" stroke="#8a8a8a" stroke-width="0.75" />
<text x="394.30" y="421.60" font-size="7.4" text-anchor="middle" textLength="37.20" lengthAdjust="spacingAndGlyphs" ><tspan font-style="italic">P</tspan> = 0.0005</text>
<line x1="368.00" y1="440.20" x2="395.80" y2="440.20" stroke="#8a8a8a" stroke-width="0.75" />
<text x="384.80" y="438.00" font-size="7.4" text-anchor="middle" textLength="36.60" lengthAdjust="spacingAndGlyphs" ><tspan font-style="italic">P</tspan> = 0.0489</text>
<text x="481.60" y="408.80" font-size="8.2" textLength="64.40" lengthAdjust="spacingAndGlyphs" >Tumor CD8α TC</text>
<text x="458.50" y="474.15" font-size="8.4" text-anchor="middle" textLength="59.90" lengthAdjust="spacingAndGlyphs" transform="rotate(-90 458.50 474.15)" >Cells (% CD45)</text>
<line x1="480.30" y1="424.40" x2="480.30" y2="523.90" stroke="#7a7a7a" stroke-width="0.7" />
<line x1="476.70" y1="523.90" x2="480.30" y2="523.90" stroke="#7a7a7a" stroke-width="0.7" />
<text x="473.10" y="526.35" font-size="8.0" text-anchor="end" >0</text>
<line x1="476.70" y1="490.73" x2="480.30" y2="490.73" stroke="#7a7a7a" stroke-width="0.7" />
<text x="473.10" y="493.18" font-size="8.0" text-anchor="end" >10</text>
<line x1="476.70" y1="457.57" x2="480.30" y2="457.57" stroke="#7a7a7a" stroke-width="0.7" />
<text x="473.10" y="460.02" font-size="8.0" text-anchor="end" >20</text>
<line x1="476.70" y1="424.40" x2="480.30" y2="424.40" stroke="#7a7a7a" stroke-width="0.7" />
<text x="473.10" y="426.85" font-size="8.0" text-anchor="end" >30</text>
<path d="M487.40,523.90 V473.50 H500.30 V523.90" fill="#fff" stroke="#6a6a6a" stroke-width="0.7"/>
<path d="M507.30,523.90 V488.20 H520.10 V523.90" fill="#fff" stroke="#6a6a6a" stroke-width="0.7"/>
<path d="M527.30,523.90 V494.40 H540.10 V523.90" fill="#fff" stroke="#6a6a6a" stroke-width="0.7"/>
<line x1="480.30" y1="523.90" x2="547.30" y2="523.90" stroke="#7a7a7a" stroke-width="0.7" />
<circle cx="494.00" cy="447.80" r="2.47" fill="#d8d8d8" stroke="#333333" stroke-width="0.55"/>
<circle cx="494.00" cy="463.40" r="2.47" fill="#d8d8d8" stroke="#333333" stroke-width="0.55"/>
<circle cx="494.00" cy="469.70" r="2.47" fill="#d8d8d8" stroke="#333333" stroke-width="0.55"/>
<circle cx="489.30" cy="492.50" r="2.47" fill="#d8d8d8" stroke="#333333" stroke-width="0.55"/>
<circle cx="498.80" cy="492.50" r="2.47" fill="#d8d8d8" stroke="#333333" stroke-width="0.55"/>
<line x1="493.85" y1="464.00" x2="493.85" y2="482.10" stroke="#444" stroke-width="0.6" />
<line x1="491.65" y1="464.00" x2="496.05" y2="464.00" stroke="#444" stroke-width="0.6" />
<line x1="491.65" y1="482.10" x2="496.05" y2="482.10" stroke="#444" stroke-width="0.6" />
<rect x="511.80" y="450.70" width="4.40" height="4.40" fill="#e98c91" stroke="#333333" stroke-width="0.5"/>
<rect x="511.80" y="461.20" width="4.40" height="4.40" fill="#e98c91" stroke="#333333" stroke-width="0.5"/>
<rect x="507.00" y="491.90" width="4.40" height="4.40" fill="#e98c91" stroke="#333333" stroke-width="0.5"/>
<rect x="511.80" y="495.50" width="4.40" height="4.40" fill="#e98c91" stroke="#333333" stroke-width="0.5"/>
<rect x="511.80" y="502.70" width="4.40" height="4.40" fill="#e98c91" stroke="#333333" stroke-width="0.5"/>
<rect x="511.80" y="511.30" width="4.40" height="4.40" fill="#e98c91" stroke="#333333" stroke-width="0.5"/>
<line x1="513.70" y1="477.70" x2="513.70" y2="499.20" stroke="#444" stroke-width="0.6" />
<line x1="511.50" y1="477.70" x2="515.90" y2="477.70" stroke="#444" stroke-width="0.6" />
<line x1="511.50" y1="499.20" x2="515.90" y2="499.20" stroke="#444" stroke-width="0.6" />
<path d="M533.60,459.90 L536.10,464.08 L531.10,464.08 Z" fill="#111" stroke="#111" stroke-width="0.3"/>
<path d="M533.60,478.50 L536.10,482.68 L531.10,482.68 Z" fill="#111" stroke="#111" stroke-width="0.3"/>
<path d="M533.60,484.60 L536.10,488.78 L531.10,488.78 Z" fill="#111" stroke="#111" stroke-width="0.3"/>
<path d="M538.20,484.60 L540.70,488.78 L535.70,488.78 Z" fill="#111" stroke="#111" stroke-width="0.3"/>
<path d="M529.20,501.80 L531.70,505.98 L526.70,505.98 Z" fill="#111" stroke="#111" stroke-width="0.3"/>
<path d="M538.20,503.10 L540.70,507.28 L535.70,507.28 Z" fill="#111" stroke="#111" stroke-width="0.3"/>
<path d="M529.20,513.20 L531.70,517.38 L526.70,517.38 Z" fill="#111" stroke="#111" stroke-width="0.3"/>
<path d="M538.20,511.80 L540.70,515.98 L535.70,515.98 Z" fill="#111" stroke="#111" stroke-width="0.3"/>
<line x1="533.70" y1="487.80" x2="533.70" y2="500.20" stroke="#444" stroke-width="0.6" />
<line x1="531.50" y1="487.80" x2="535.90" y2="487.80" stroke="#444" stroke-width="0.6" />
<line x1="531.50" y1="500.20" x2="535.90" y2="500.20" stroke="#444" stroke-width="0.6" />
<line x1="492.70" y1="431.10" x2="533.60" y2="431.10" stroke="#8a8a8a" stroke-width="0.75" />
<text x="513.10" y="428.20" font-size="7.0" text-anchor="middle" >NS</text>
<line x1="492.70" y1="437.00" x2="514.40" y2="437.00" stroke="#8a8a8a" stroke-width="0.75" />
<text x="570.00" y="403.60" font-size="12.5" font-weight="bold" fill="#111" >g</text>
<text x="588.20" y="409.00" font-size="8.2" textLength="97.50" lengthAdjust="spacingAndGlyphs" >Tumor plasmacytoid DC</text>
<text x="578.30" y="474.20" font-size="8.4" text-anchor="middle" textLength="59.90" lengthAdjust="spacingAndGlyphs" transform="rotate(-90 578.30 474.20)" >Cells (% CD45)</text>
<line x1="602.10" y1="424.40" x2="602.10" y2="524.00" stroke="#7a7a7a" stroke-width="0.7" />
<line x1="598.50" y1="524.00" x2="602.10" y2="524.00" stroke="#7a7a7a" stroke-width="0.7" />
<text x="596.00" y="526.45" font-size="8.0" text-anchor="end" >0</text>
<line x1="598.50" y1="504.08" x2="602.10" y2="504.08" stroke="#7a7a7a" stroke-width="0.7" />
<text x="596.00" y="506.53" font-size="8.0" text-anchor="end" >0.2</text>
<line x1="598.50" y1="484.16" x2="602.10" y2="484.16" stroke="#7a7a7a" stroke-width="0.7" />
<text x="596.00" y="486.61" font-size="8.0" text-anchor="end" >0.4</text>
<line x1="598.50" y1="464.24" x2="602.10" y2="464.24" stroke="#7a7a7a" stroke-width="0.7" />
<text x="596.00" y="466.69" font-size="8.0" text-anchor="end" >0.6</text>
<line x1="598.50" y1="444.32" x2="602.10" y2="444.32" stroke="#7a7a7a" stroke-width="0.7" />
<text x="596.00" y="446.77" font-size="8.0" text-anchor="end" >0.8</text>
<line x1="598.50" y1="424.40" x2="602.10" y2="424.40" stroke="#7a7a7a" stroke-width="0.7" />
<text x="596.00" y="426.85" font-size="8.0" text-anchor="end" >1.0</text>
<path d="M609.80,524.00 V487.50 H622.50 V524.00" fill="#fff" stroke="#6a6a6a" stroke-width="0.7"/>
<path d="M629.80,524.00 V510.30 H642.50 V524.00" fill="#fff" stroke="#6a6a6a" stroke-width="0.7"/>
<path d="M649.80,524.00 V508.40 H662.50 V524.00" fill="#fff" stroke="#6a6a6a" stroke-width="0.7"/>
<line x1="602.10" y1="524.00" x2="669.40" y2="524.00" stroke="#7a7a7a" stroke-width="0.7" />
<circle cx="616.00" cy="454.50" r="2.47" fill="#d8d8d8" stroke="#333333" stroke-width="0.55"/>
<circle cx="616.00" cy="481.60" r="2.47" fill="#d8d8d8" stroke="#333333" stroke-width="0.55"/>
<circle cx="611.30" cy="489.40" r="2.47" fill="#d8d8d8" stroke="#333333" stroke-width="0.55"/>
<circle cx="620.60" cy="489.00" r="2.47" fill="#d8d8d8" stroke="#333333" stroke-width="0.55"/>
<circle cx="616.00" cy="492.60" r="2.47" fill="#d8d8d8" stroke="#333333" stroke-width="0.55"/>
<circle cx="620.60" cy="494.50" r="2.47" fill="#d8d8d8" stroke="#333333" stroke-width="0.55"/>
<circle cx="616.00" cy="497.40" r="2.47" fill="#d8d8d8" stroke="#333333" stroke-width="0.55"/>
<circle cx="611.30" cy="504.00" r="2.47" fill="#d8d8d8" stroke="#333333" stroke-width="0.55"/>
<circle cx="616.00" cy="502.10" r="2.47" fill="#d8d8d8" stroke="#333333" stroke-width="0.55"/>
<circle cx="620.60" cy="502.10" r="2.47" fill="#d8d8d8" stroke="#333333" stroke-width="0.55"/>
<line x1="616.15" y1="485.00" x2="616.15" y2="495.50" stroke="#444" stroke-width="0.6" />
<line x1="613.95" y1="485.00" x2="618.35" y2="485.00" stroke="#444" stroke-width="0.6" />
<line x1="613.95" y1="495.50" x2="618.35" y2="495.50" stroke="#444" stroke-width="0.6" />
<rect x="634.20" y="498.00" width="4.40" height="4.40" fill="#e98c91" stroke="#333333" stroke-width="0.5"/>
<rect x="629.10" y="501.80" width="4.40" height="4.40" fill="#e98c91" stroke="#333333" stroke-width="0.5"/>
<rect x="634.20" y="503.20" width="4.40" height="4.40" fill="#e98c91" stroke="#333333" stroke-width="0.5"/>
<rect x="634.20" y="507.60" width="4.40" height="4.40" fill="#e98c91" stroke="#333333" stroke-width="0.5"/>
<rect x="629.10" y="517.70" width="4.40" height="4.40" fill="#e98c91" stroke="#333333" stroke-width="0.5"/>
<rect x="639.00" y="517.10" width="4.40" height="4.40" fill="#e98c91" stroke="#333333" stroke-width="0.5"/>
<line x1="636.15" y1="506.50" x2="636.15" y2="514.00" stroke="#444" stroke-width="0.6" />
<line x1="633.95" y1="506.50" x2="638.35" y2="506.50" stroke="#444" stroke-width="0.6" />
<line x1="633.95" y1="514.00" x2="638.35" y2="514.00" stroke="#444" stroke-width="0.6" />
<path d="M651.70,490.00 L654.20,494.18 L649.20,494.18 Z" fill="#111" stroke="#111" stroke-width="0.3"/>
<path d="M656.40,487.60 L658.90,491.78 L653.90,491.78 Z" fill="#111" stroke="#111" stroke-width="0.3"/>
<path d="M656.40,497.10 L658.90,501.28 L653.90,501.28 Z" fill="#111" stroke="#111" stroke-width="0.3"/>
<path d="M656.40,501.80 L658.90,505.98 L653.90,505.98 Z" fill="#111" stroke="#111" stroke-width="0.3"/>
<path d="M656.40,506.60 L658.90,510.78 L653.90,510.78 Z" fill="#111" stroke="#111" stroke-width="0.3"/>
<path d="M652.20,516.10 L654.70,520.28 L649.70,520.28 Z" fill="#111" stroke="#111" stroke-width="0.3"/>
<path d="M656.40,519.60 L658.90,523.78 L653.90,523.78 Z" fill="#111" stroke="#111" stroke-width="0.3"/>
<path d="M661.20,519.60 L663.70,523.78 L658.70,523.78 Z" fill="#111" stroke="#111" stroke-width="0.3"/>
<path d="M651.70,522.00 L654.20,526.18 L649.20,526.18 Z" fill="#111" stroke="#111" stroke-width="0.3"/>
<line x1="656.15" y1="503.50" x2="656.15" y2="513.00" stroke="#444" stroke-width="0.6" />
<line x1="653.95" y1="503.50" x2="658.35" y2="503.50" stroke="#444" stroke-width="0.6" />
<line x1="653.95" y1="513.00" x2="658.35" y2="513.00" stroke="#444" stroke-width="0.6" />
<line x1="616.00" y1="429.20" x2="658.00" y2="429.20" stroke="#8a8a8a" stroke-width="0.75" />
<text x="636.60" y="426.70" font-size="7.4" text-anchor="middle" textLength="35.80" lengthAdjust="spacingAndGlyphs" ><tspan font-style="italic">P</tspan> = 0.0333</text>
<line x1="615.50" y1="444.40" x2="635.90" y2="444.40" stroke="#8a8a8a" stroke-width="0.75" />
<text x="625.50" y="442.80" font-size="7.4" text-anchor="middle" textLength="35.20" lengthAdjust="spacingAndGlyphs" ><tspan font-style="italic">P</tspan> = 0.0315</text>
<circle cx="436.50" cy="541.90" r="3.12" fill="#d8d8d8" stroke="#333333" stroke-width="0.55"/>
<text x="444.60" y="544.50" font-size="7.2" ><tspan font-style="italic">c-Jun</tspan><tspan baseline-shift="0.62em" font-size="74%">fl/fl</tspan></text>
<rect x="483.25" y="539.15" width="5.50" height="5.50" fill="#e98c91" stroke="#333333" stroke-width="0.5"/>
<text x="494.90" y="544.50" font-size="7.2" textLength="58.70" lengthAdjust="spacingAndGlyphs" ><tspan font-style="italic">c-Jun</tspan><tspan baseline-shift="0.62em" font-size="74%">Δ/Δ</tspan><tspan font-style="italic">CD11c</tspan>-cre</text>
<path d="M569.20,539.15 L572.33,544.38 L566.08,544.38 Z" fill="#111" stroke="#111" stroke-width="0.3"/>
<text x="577.20" y="544.50" font-size="7.2" ><tspan font-style="italic">Ccl2</tspan><tspan baseline-shift="0.62em" font-size="74%">−/−</tspan></text>
<text x="1.00" y="578.80" font-size="12.5" font-weight="bold" fill="#111" >h</text>
<text x="57.90" y="580.30" font-size="8.2" textLength="63.60" lengthAdjust="spacingAndGlyphs" >B16-F10 VEGF-A</text>
<circle cx="43.40" cy="594.10" r="3.12" fill="#d8d8d8" stroke="#333333" stroke-width="0.55"/>
<text x="51.50" y="596.76" font-size="7.4" >Vehicle</text>
<circle cx="129.60" cy="594.10" r="3.12" fill="#d8d8d8" stroke="#333333" stroke-width="0.55"/>
<text x="137.70" y="596.76" font-size="7.4" >LAL</text>
<rect x="40.76" y="610.86" width="5.28" height="5.28" fill="#e98c91" stroke="#333333" stroke-width="0.5"/>
<text x="51.50" y="616.16" font-size="7.4" >IL-12</text>
<path d="M129.60,610.86 L132.60,615.88 L126.60,615.88 Z" fill="#111" stroke="#111" stroke-width="0.3"/>
<text x="137.70" y="616.16" font-size="7.4" >IMQ</text>
<text x="9.20" y="698.90" font-size="8.4" text-anchor="middle" textLength="98.30" lengthAdjust="spacingAndGlyphs" transform="rotate(-90 9.20 698.90)" >VEGF-A protein (pg ml<tspan baseline-shift="0.62em" font-size="74%">−1</tspan>)</text>
<line x1="36.70" y1="638.10" x2="36.70" y2="759.70" stroke="#7a7a7a" stroke-width="0.7" />
<line x1="33.10" y1="759.70" x2="36.70" y2="759.70" stroke="#7a7a7a" stroke-width="0.7" />
<text x="28.60" y="762.15" font-size="8.0" text-anchor="end" >0</text>
<line x1="33.10" y1="735.38" x2="36.70" y2="735.38" stroke="#7a7a7a" stroke-width="0.7" />
<text x="28.60" y="737.83" font-size="8.0" text-anchor="end" >20</text>
<line x1="33.10" y1="711.06" x2="36.70" y2="711.06" stroke="#7a7a7a" stroke-width="0.7" />
<text x="28.60" y="713.51" font-size="8.0" text-anchor="end" >40</text>
<line x1="33.10" y1="686.74" x2="36.70" y2="686.74" stroke="#7a7a7a" stroke-width="0.7" />
<text x="28.60" y="689.19" font-size="8.0" text-anchor="end" >60</text>
<line x1="33.10" y1="662.42" x2="36.70" y2="662.42" stroke="#7a7a7a" stroke-width="0.7" />
<text x="28.60" y="664.87" font-size="8.0" text-anchor="end" >80</text>
<line x1="33.10" y1="638.10" x2="36.70" y2="638.10" stroke="#7a7a7a" stroke-width="0.7" />
<text x="28.60" y="640.55" font-size="8.0" text-anchor="end" >100</text>
<path d="M44.00,759.70 V697.40 H58.70 V759.70" fill="#fff" stroke="#6a6a6a" stroke-width="0.7"/>
<path d="M67.10,759.70 V723.50 H82.50 V759.70" fill="#fff" stroke="#6a6a6a" stroke-width="0.7"/>
<line x1="36.70" y1="759.70" x2="90.30" y2="759.70" stroke="#7a7a7a" stroke-width="0.7" />
<circle cx="51.50" cy="656.10" r="2.84" fill="#d8d8d8" stroke="#333333" stroke-width="0.55"/>
<circle cx="51.50" cy="685.00" r="2.84" fill="#d8d8d8" stroke="#333333" stroke-width="0.55"/>
<circle cx="47.70" cy="695.40" r="2.84" fill="#d8d8d8" stroke="#333333" stroke-width="0.55"/>
<circle cx="55.00" cy="702.40" r="2.84" fill="#d8d8d8" stroke="#333333" stroke-width="0.55"/>
<circle cx="51.50" cy="711.90" r="2.84" fill="#d8d8d8" stroke="#333333" stroke-width="0.55"/>
<circle cx="51.50" cy="728.70" r="2.84" fill="#d8d8d8" stroke="#333333" stroke-width="0.55"/>
<line x1="51.35" y1="687.30" x2="51.35" y2="706.10" stroke="#444" stroke-width="0.6" />
<line x1="49.15" y1="687.30" x2="53.55" y2="687.30" stroke="#444" stroke-width="0.6" />
<line x1="49.15" y1="706.10" x2="53.55" y2="706.10" stroke="#444" stroke-width="0.6" />
<rect x="72.17" y="705.07" width="5.06" height="5.06" fill="#e98c91" stroke="#333333" stroke-width="0.5"/>
<rect x="68.37" y="715.17" width="5.06" height="5.06" fill="#e98c91" stroke="#333333" stroke-width="0.5"/>
<rect x="75.57" y="717.47" width="5.06" height="5.06" fill="#e98c91" stroke="#333333" stroke-width="0.5"/>
<rect x="68.37" y="722.97" width="5.06" height="5.06" fill="#e98c91" stroke="#333333" stroke-width="0.5"/>
<rect x="75.57" y="724.67" width="5.06" height="5.06" fill="#e98c91" stroke="#333333" stroke-width="0.5"/>
<rect x="72.17" y="738.87" width="5.06" height="5.06" fill="#e98c91" stroke="#333333" stroke-width="0.5"/>
<line x1="74.80" y1="718.50" x2="74.80" y2="728.50" stroke="#444" stroke-width="0.6" />
<line x1="72.60" y1="718.50" x2="77.00" y2="718.50" stroke="#444" stroke-width="0.6" />
<line x1="72.60" y1="728.50" x2="77.00" y2="728.50" stroke="#444" stroke-width="0.6" />
<line x1="46.30" y1="644.50" x2="83.30" y2="644.50" stroke="#8a8a8a" stroke-width="0.75" />
<text x="64.80" y="641.40" font-size="7.4" text-anchor="middle" textLength="36.00" lengthAdjust="spacingAndGlyphs" >P = 0.0389</text>
<text x="106.60" y="698.90" font-size="8.4" text-anchor="middle" textLength="98.30" lengthAdjust="spacingAndGlyphs" transform="rotate(-90 106.60 698.90)" >VEGF-A protein (pg ml<tspan baseline-shift="0.62em" font-size="74%">−1</tspan>)</text>
<line x1="128.80" y1="638.10" x2="128.80" y2="759.70" stroke="#7a7a7a" stroke-width="0.7" />
<line x1="125.20" y1="759.70" x2="128.80" y2="759.70" stroke="#7a7a7a" stroke-width="0.7" />
<text x="121.40" y="762.15" font-size="8.0" text-anchor="end" >0</text>
<line x1="125.20" y1="735.38" x2="128.80" y2="735.38" stroke="#7a7a7a" stroke-width="0.7" />
<text x="121.40" y="737.83" font-size="8.0" text-anchor="end" >10</text>
<line x1="125.20" y1="711.06" x2="128.80" y2="711.06" stroke="#7a7a7a" stroke-width="0.7" />
<text x="121.40" y="713.51" font-size="8.0" text-anchor="end" >20</text>
<line x1="125.20" y1="686.74" x2="128.80" y2="686.74" stroke="#7a7a7a" stroke-width="0.7" />
<text x="121.40" y="689.19" font-size="8.0" text-anchor="end" >30</text>
<line x1="125.20" y1="662.42" x2="128.80" y2="662.42" stroke="#7a7a7a" stroke-width="0.7" />
<text x="121.40" y="664.87" font-size="8.0" text-anchor="end" >40</text>
<line x1="125.20" y1="638.10" x2="128.80" y2="638.10" stroke="#7a7a7a" stroke-width="0.7" />
<text x="121.40" y="640.55" font-size="8.0" text-anchor="end" >50</text>
<path d="M137.60,759.70 V691.10 H152.10 V759.70" fill="#fff" stroke="#6a6a6a" stroke-width="0.7"/>
<path d="M160.80,759.70 V686.70 H175.80 V759.70" fill="#fff" stroke="#6a6a6a" stroke-width="0.7"/>
<line x1="128.80" y1="759.70" x2="183.90" y2="759.70" stroke="#7a7a7a" stroke-width="0.7" />
<circle cx="142.00" cy="674.30" r="2.84" fill="#d8d8d8" stroke="#333333" stroke-width="0.55"/>
<circle cx="146.30" cy="674.30" r="2.84" fill="#d8d8d8" stroke="#333333" stroke-width="0.55"/>
<circle cx="139.90" cy="684.40" r="2.84" fill="#d8d8d8" stroke="#333333" stroke-width="0.55"/>
<circle cx="143.40" cy="687.30" r="2.84" fill="#d8d8d8" stroke="#333333" stroke-width="0.55"/>
<circle cx="147.70" cy="687.30" r="2.84" fill="#d8d8d8" stroke="#333333" stroke-width="0.55"/>
<circle cx="149.80" cy="688.80" r="2.84" fill="#d8d8d8" stroke="#333333" stroke-width="0.55"/>
<circle cx="140.50" cy="693.10" r="2.84" fill="#d8d8d8" stroke="#333333" stroke-width="0.55"/>
<circle cx="144.80" cy="693.10" r="2.84" fill="#d8d8d8" stroke="#333333" stroke-width="0.55"/>
<circle cx="149.20" cy="693.10" r="2.84" fill="#d8d8d8" stroke="#333333" stroke-width="0.55"/>
<circle cx="140.50" cy="704.10" r="2.84" fill="#d8d8d8" stroke="#333333" stroke-width="0.55"/>
<circle cx="144.80" cy="704.10" r="2.84" fill="#d8d8d8" stroke="#333333" stroke-width="0.55"/>
<circle cx="147.70" cy="704.10" r="2.84" fill="#d8d8d8" stroke="#333333" stroke-width="0.55"/>
<line x1="144.85" y1="687.00" x2="144.85" y2="695.00" stroke="#444" stroke-width="0.6" />
<line x1="142.65" y1="687.00" x2="147.05" y2="687.00" stroke="#444" stroke-width="0.6" />
<line x1="142.65" y1="695.00" x2="147.05" y2="695.00" stroke="#444" stroke-width="0.6" />
<path d="M165.10,662.17 L167.97,666.98 L162.22,666.98 Z" fill="#111" stroke="#111" stroke-width="0.3"/>
<path d="M169.40,663.07 L172.28,667.88 L166.53,667.88 Z" fill="#111" stroke="#111" stroke-width="0.3"/>
<path d="M168.00,681.27 L170.88,686.08 L165.12,686.08 Z" fill="#111" stroke="#111" stroke-width="0.3"/>
<path d="M163.70,686.27 L166.57,691.08 L160.82,691.08 Z" fill="#111" stroke="#111" stroke-width="0.3"/>
<path d="M172.30,688.27 L175.18,693.08 L169.43,693.08 Z" fill="#111" stroke="#111" stroke-width="0.3"/>
<path d="M165.10,690.57 L167.97,695.38 L162.22,695.38 Z" fill="#111" stroke="#111" stroke-width="0.3"/>
<path d="M170.90,691.97 L173.78,696.78 L168.03,696.78 Z" fill="#111" stroke="#111" stroke-width="0.3"/>
<path d="M163.70,693.47 L166.57,698.28 L160.82,698.28 Z" fill="#111" stroke="#111" stroke-width="0.3"/>
<path d="M172.30,697.77 L175.18,702.58 L169.43,702.58 Z" fill="#111" stroke="#111" stroke-width="0.3"/>
<path d="M168.00,705.07 L170.88,709.88 L165.12,709.88 Z" fill="#111" stroke="#111" stroke-width="0.3"/>
<line x1="168.30" y1="682.00" x2="168.30" y2="691.00" stroke="#444" stroke-width="0.6" />
<line x1="166.10" y1="682.00" x2="170.50" y2="682.00" stroke="#444" stroke-width="0.6" />
<line x1="166.10" y1="691.00" x2="170.50" y2="691.00" stroke="#444" stroke-width="0.6" />
<text x="177.00" y="578.80" font-size="12.5" font-weight="bold" fill="#111" >i</text>
<text x="192.10" y="580.30" font-size="8.2" textLength="81.90" lengthAdjust="spacingAndGlyphs" >B16-F10 proliferation</text>
<circle cx="221.90" cy="594.10" r="3.12" fill="#d8d8d8" stroke="#333333" stroke-width="0.55"/>
<text x="230.00" y="596.76" font-size="7.4" >Vehicle</text>
<rect x="219.26" y="610.86" width="5.28" height="5.28" fill="#e98c91" stroke="#333333" stroke-width="0.5"/>
<text x="230.00" y="616.16" font-size="7.4" >IL-12</text>
<text x="206.30" y="697.75" font-size="8.4" text-anchor="middle" textLength="96.90" lengthAdjust="spacingAndGlyphs" transform="rotate(-90 206.30 697.75)" >Optical density 450 nm</text>
<line x1="232.60" y1="635.80" x2="232.60" y2="759.70" stroke="#7a7a7a" stroke-width="0.7" />
<line x1="229.00" y1="759.70" x2="232.60" y2="759.70" stroke="#7a7a7a" stroke-width="0.7" />
<text x="224.60" y="762.15" font-size="8.0" text-anchor="end" >0</text>
<line x1="229.00" y1="734.92" x2="232.60" y2="734.92" stroke="#7a7a7a" stroke-width="0.7" />
<text x="224.60" y="737.37" font-size="8.0" text-anchor="end" >0.2</text>
<line x1="229.00" y1="710.14" x2="232.60" y2="710.14" stroke="#7a7a7a" stroke-width="0.7" />
<text x="224.60" y="712.59" font-size="8.0" text-anchor="end" >0.4</text>
<line x1="229.00" y1="685.36" x2="232.60" y2="685.36" stroke="#7a7a7a" stroke-width="0.7" />
<text x="224.60" y="687.81" font-size="8.0" text-anchor="end" >0.6</text>
<line x1="229.00" y1="660.58" x2="232.60" y2="660.58" stroke="#7a7a7a" stroke-width="0.7" />
<text x="224.60" y="663.03" font-size="8.0" text-anchor="end" >0.8</text>
<line x1="229.00" y1="635.80" x2="232.60" y2="635.80" stroke="#7a7a7a" stroke-width="0.7" />
<text x="224.60" y="638.25" font-size="8.0" text-anchor="end" >1.0</text>
<path d="M240.20,759.70 V682.10 H255.80 V759.70" fill="#fff" stroke="#6a6a6a" stroke-width="0.7"/>
<path d="M263.90,759.70 V678.60 H278.40 V759.70" fill="#fff" stroke="#6a6a6a" stroke-width="0.7"/>
<line x1="232.60" y1="759.70" x2="287.60" y2="759.70" stroke="#7a7a7a" stroke-width="0.7" />
<circle cx="244.20" cy="677.20" r="2.84" fill="#d8d8d8" stroke="#333333" stroke-width="0.55"/>
<circle cx="251.40" cy="679.50" r="2.84" fill="#d8d8d8" stroke="#333333" stroke-width="0.55"/>
<circle cx="248.00" cy="687.30" r="2.84" fill="#d8d8d8" stroke="#333333" stroke-width="0.55"/>
<line x1="248.00" y1="679.00" x2="248.00" y2="685.00" stroke="#444" stroke-width="0.6" />
<line x1="245.80" y1="679.00" x2="250.20" y2="679.00" stroke="#444" stroke-width="0.6" />
<line x1="245.80" y1="685.00" x2="250.20" y2="685.00" stroke="#444" stroke-width="0.6" />
<rect x="264.27" y="672.27" width="5.06" height="5.06" fill="#e98c91" stroke="#333333" stroke-width="0.5"/>
<rect x="268.87" y="675.47" width="5.06" height="5.06" fill="#e98c91" stroke="#333333" stroke-width="0.5"/>
<rect x="273.47" y="678.97" width="5.06" height="5.06" fill="#e98c91" stroke="#333333" stroke-width="0.5"/>
<line x1="271.15" y1="676.00" x2="271.15" y2="681.00" stroke="#444" stroke-width="0.6" />
<line x1="268.95" y1="676.00" x2="273.35" y2="676.00" stroke="#444" stroke-width="0.6" />
<line x1="268.95" y1="681.00" x2="273.35" y2="681.00" stroke="#444" stroke-width="0.6" />
<line x1="245.10" y1="665.00" x2="278.90" y2="665.00" stroke="#8a8a8a" stroke-width="0.75" />
<text x="261.90" y="662.30" font-size="7.0" text-anchor="middle" >NS</text>
<text x="308.00" y="579.00" font-size="12.5" font-weight="bold" fill="#111" >j</text>
<text x="376.60" y="580.00" font-size="8.2" textLength="69.90" lengthAdjust="spacingAndGlyphs" >Anti-IL-12 therapy</text>
<line x1="330.70" y1="593.10" x2="347.50" y2="593.10" stroke="#1a1a1a" stroke-width="0.9" stroke-dasharray="1.4,1.0"/>
<circle cx="339.10" cy="593.10" r="2.86" fill="#d8d8d8" stroke="#333333" stroke-width="0.55"/>
<text x="349.70" y="595.76" font-size="7.4" textLength="33.50" lengthAdjust="spacingAndGlyphs" >Ig control</text>
<line x1="395.60" y1="593.10" x2="408.80" y2="593.10" stroke="#1a1a1a" stroke-width="0.8" />
<path d="M402.20,590.68 L404.95,595.28 L399.45,595.28 Z" fill="#111" stroke="#111" stroke-width="0.3"/>
<text x="413.40" y="595.76" font-size="7.4" textLength="102.60" lengthAdjust="spacingAndGlyphs" >Ig control + IMQ topical &amp; oral</text>
<line x1="330.70" y1="613.60" x2="346.50" y2="613.60" stroke="#1a1a1a" stroke-width="0.8" />
<rect x="336.18" y="611.18" width="4.84" height="4.84" fill="#e98c91" stroke="#333333" stroke-width="0.5"/>
<text x="349.70" y="616.26" font-size="7.4" textLength="31.80" lengthAdjust="spacingAndGlyphs" >Anti IL-12</text>
<line x1="395.60" y1="613.60" x2="408.80" y2="613.60" stroke="#1a1a1a" stroke-width="0.8" />
<path d="M402.20,616.02 L404.95,611.42 L399.45,611.42 Z" fill="#d7192a" stroke="#333" stroke-width="0.4"/>
<text x="413.40" y="616.26" font-size="7.4" textLength="100.00" lengthAdjust="spacingAndGlyphs" >Anti IL-12 + IMQ topical &amp; oral</text>
<text x="325.00" y="701.15" font-size="8.8" text-anchor="middle" textLength="84.50" lengthAdjust="spacingAndGlyphs" transform="rotate(-90 325.00 701.15)" >Tumor volume (mm<tspan baseline-shift="0.62em" font-size="74%">3</tspan>)</text>
<line x1="351.50" y1="640.30" x2="351.50" y2="760.80" stroke="#7a7a7a" stroke-width="0.7" />
<line x1="347.50" y1="760.80" x2="351.50" y2="760.80" stroke="#7a7a7a" stroke-width="0.7" />
<text x="344.80" y="763.20" font-size="8.2" text-anchor="end" >0</text>
<line x1="347.50" y1="736.70" x2="351.50" y2="736.70" stroke="#7a7a7a" stroke-width="0.7" />
<text x="344.80" y="739.10" font-size="8.2" text-anchor="end" >50</text>
<line x1="347.50" y1="712.60" x2="351.50" y2="712.60" stroke="#7a7a7a" stroke-width="0.7" />
<text x="344.80" y="715.00" font-size="8.2" text-anchor="end" >100</text>
<line x1="347.50" y1="688.50" x2="351.50" y2="688.50" stroke="#7a7a7a" stroke-width="0.7" />
<text x="344.80" y="690.90" font-size="8.2" text-anchor="end" >150</text>
<line x1="347.50" y1="664.40" x2="351.50" y2="664.40" stroke="#7a7a7a" stroke-width="0.7" />
<text x="344.80" y="666.80" font-size="8.2" text-anchor="end" >200</text>
<line x1="347.50" y1="640.30" x2="351.50" y2="640.30" stroke="#7a7a7a" stroke-width="0.7" />
<text x="344.80" y="642.70" font-size="8.2" text-anchor="end" >250</text>
<line x1="351.50" y1="760.80" x2="472.30" y2="760.80" stroke="#7a7a7a" stroke-width="0.7" />
<line x1="366.80" y1="760.80" x2="366.80" y2="763.80" stroke="#7a7a7a" stroke-width="0.7" />
<text x="369.00" y="771.00" font-size="8.4" text-anchor="end" transform="rotate(-45 369.00 771.00)" >Day 1</text>
<line x1="389.50" y1="760.80" x2="389.50" y2="763.80" stroke="#7a7a7a" stroke-width="0.7" />
<text x="391.70" y="771.00" font-size="8.4" text-anchor="end" transform="rotate(-45 391.70 771.00)" >Day 2</text>
<line x1="412.00" y1="760.80" x2="412.00" y2="763.80" stroke="#7a7a7a" stroke-width="0.7" />
<text x="414.20" y="771.00" font-size="8.4" text-anchor="end" transform="rotate(-45 414.20 771.00)" >Day 3</text>
<line x1="434.70" y1="760.80" x2="434.70" y2="763.80" stroke="#7a7a7a" stroke-width="0.7" />
<text x="436.90" y="771.00" font-size="8.4" text-anchor="end" transform="rotate(-45 436.90 771.00)" >Day 4</text>
<line x1="457.30" y1="760.80" x2="457.30" y2="763.80" stroke="#7a7a7a" stroke-width="0.7" />
<text x="459.50" y="771.00" font-size="8.4" text-anchor="end" transform="rotate(-45 459.50 771.00)" >Day 5</text>
<line x1="412.00" y1="750.20" x2="412.00" y2="745.86" stroke="#444" stroke-width="0.6" />
<line x1="410.00" y1="745.86" x2="414.00" y2="745.86" stroke="#444" stroke-width="0.6" />
<line x1="434.70" y1="747.79" x2="434.70" y2="743.93" stroke="#444" stroke-width="0.6" />
<line x1="432.70" y1="743.93" x2="436.70" y2="743.93" stroke="#444" stroke-width="0.6" />
<line x1="457.30" y1="742.00" x2="457.30" y2="732.36" stroke="#444" stroke-width="0.6" />
<line x1="455.30" y1="732.36" x2="459.30" y2="732.36" stroke="#444" stroke-width="0.6" />
<line x1="389.50" y1="745.38" x2="389.50" y2="742.48" stroke="#444" stroke-width="0.6" />
<line x1="387.50" y1="742.48" x2="391.50" y2="742.48" stroke="#444" stroke-width="0.6" />
<line x1="366.80" y1="750.20" x2="366.80" y2="745.86" stroke="#444" stroke-width="0.6" />
<line x1="364.80" y1="745.86" x2="368.80" y2="745.86" stroke="#444" stroke-width="0.6" />
<line x1="389.50" y1="736.22" x2="389.50" y2="725.61" stroke="#444" stroke-width="0.6" />
<line x1="387.50" y1="725.61" x2="391.50" y2="725.61" stroke="#444" stroke-width="0.6" />
<line x1="412.00" y1="722.72" x2="412.00" y2="703.92" stroke="#444" stroke-width="0.6" />
<line x1="410.00" y1="703.92" x2="414.00" y2="703.92" stroke="#444" stroke-width="0.6" />
<line x1="434.70" y1="711.64" x2="434.70" y2="698.14" stroke="#444" stroke-width="0.6" />
<line x1="432.70" y1="698.14" x2="436.70" y2="698.14" stroke="#444" stroke-width="0.6" />
<line x1="457.30" y1="678.86" x2="457.30" y2="651.39" stroke="#444" stroke-width="0.6" />
<line x1="455.30" y1="651.39" x2="459.30" y2="651.39" stroke="#444" stroke-width="0.6" />
<polyline points="366.80,752.61 389.50,751.64 412.00,750.20 434.70,747.79 457.30,742.00" fill="none" stroke="#1a1a1a" stroke-width="0.85" />
<polyline points="366.80,755.02 389.50,747.30 412.00,739.11 434.70,724.17 457.30,707.30" fill="none" stroke="#1a1a1a" stroke-width="0.85" />
<polyline points="366.80,756.22 389.50,745.38 412.00,733.33 434.70,724.17 457.30,695.73" fill="none" stroke="#1a1a1a" stroke-width="0.85" />
<polyline points="366.80,750.20 389.50,736.22 412.00,722.72 434.70,711.64 457.30,678.86" fill="none" stroke="#1a1a1a" stroke-width="1.05" stroke-dasharray="2.4,1.1"/>
<path d="M366.80,750.41 L369.30,754.59 L364.30,754.59 Z" fill="#111" stroke="#111" stroke-width="0.3"/>
<path d="M389.50,749.44 L392.00,753.62 L387.00,753.62 Z" fill="#111" stroke="#111" stroke-width="0.3"/>
<path d="M412.00,748.00 L414.50,752.18 L409.50,752.18 Z" fill="#111" stroke="#111" stroke-width="0.3"/>
<path d="M434.70,745.59 L437.20,749.77 L432.20,749.77 Z" fill="#111" stroke="#111" stroke-width="0.3"/>
<path d="M457.30,739.80 L459.80,743.98 L454.80,743.98 Z" fill="#111" stroke="#111" stroke-width="0.3"/>
<path d="M366.80,757.22 L369.30,753.04 L364.30,753.04 Z" fill="#d7192a" stroke="#333" stroke-width="0.4"/>
<path d="M389.50,749.50 L392.00,745.32 L387.00,745.32 Z" fill="#d7192a" stroke="#333" stroke-width="0.4"/>
<path d="M412.00,741.31 L414.50,737.13 L409.50,737.13 Z" fill="#d7192a" stroke="#333" stroke-width="0.4"/>
<path d="M434.70,726.37 L437.20,722.19 L432.20,722.19 Z" fill="#d7192a" stroke="#333" stroke-width="0.4"/>
<path d="M457.30,709.50 L459.80,705.32 L454.80,705.32 Z" fill="#d7192a" stroke="#333" stroke-width="0.4"/>
<rect x="364.60" y="754.02" width="4.40" height="4.40" fill="#e98c91" stroke="#333333" stroke-width="0.5"/>
<rect x="387.30" y="743.18" width="4.40" height="4.40" fill="#e98c91" stroke="#333333" stroke-width="0.5"/>
<rect x="409.80" y="731.13" width="4.40" height="4.40" fill="#e98c91" stroke="#333333" stroke-width="0.5"/>
<rect x="432.50" y="721.97" width="4.40" height="4.40" fill="#e98c91" stroke="#333333" stroke-width="0.5"/>
<rect x="455.10" y="693.53" width="4.40" height="4.40" fill="#e98c91" stroke="#333333" stroke-width="0.5"/>
<circle cx="366.80" cy="750.20" r="2.60" fill="#d8d8d8" stroke="#333333" stroke-width="0.55"/>
<circle cx="389.50" cy="736.22" r="2.60" fill="#d8d8d8" stroke="#333333" stroke-width="0.55"/>
<circle cx="412.00" cy="722.72" r="2.60" fill="#d8d8d8" stroke="#333333" stroke-width="0.55"/>
<circle cx="434.70" cy="711.64" r="2.60" fill="#d8d8d8" stroke="#333333" stroke-width="0.55"/>
<circle cx="457.30" cy="678.86" r="2.60" fill="#d8d8d8" stroke="#333333" stroke-width="0.55"/>
<path d="M463.70,678.30 H466.90 V704.80 H463.70" fill="none" stroke="#888" stroke-width="0.7"/>
<text x="469.90" y="694.70" font-size="7.4" textLength="9.50" lengthAdjust="spacingAndGlyphs" >NS</text>
<path d="M464.20,707.40 H467.40 V742.10 H464.20" fill="none" stroke="#888" stroke-width="0.7"/>
<path d="M482.50,678.30 H486.30 V741.70 H482.50" fill="none" stroke="#888" stroke-width="0.7"/>
<text x="470.30" y="724.80" font-size="7.4" text-anchor="middle" textLength="36.90" lengthAdjust="spacingAndGlyphs" transform="rotate(90 470.30 724.80)" ><tspan font-style="italic">P</tspan> = 0.0386</text>
<text x="488.60" y="710.00" font-size="7.4" text-anchor="middle" textLength="34.80" lengthAdjust="spacingAndGlyphs" transform="rotate(90 488.60 710.00)" ><tspan font-style="italic">P</tspan> = 0.0192</text>
<text x="522.50" y="578.80" font-size="12.5" font-weight="bold" fill="#111" >k</text>
<text x="573.30" y="580.30" font-size="8.2" textLength="93.20" lengthAdjust="spacingAndGlyphs" >B16-F10 tumor necrosis</text>
<line x1="542.10" y1="593.30" x2="556.50" y2="593.30" stroke="#1a1a1a" stroke-width="0.9" stroke-dasharray="1.4,1.0"/>
<circle cx="549.30" cy="593.30" r="2.86" fill="#d8d8d8" stroke="#333333" stroke-width="0.55"/>
<text x="560.30" y="595.96" font-size="7.4" textLength="102.20" lengthAdjust="spacingAndGlyphs" >Ig control + IMQ topical &amp; oral</text>
<line x1="542.10" y1="613.50" x2="556.50" y2="613.50" stroke="#1a1a1a" stroke-width="0.8" />
<rect x="546.88" y="611.08" width="4.84" height="4.84" fill="#e98c91" stroke="#333333" stroke-width="0.5"/>
<text x="560.30" y="616.16" font-size="7.4" textLength="99.40" lengthAdjust="spacingAndGlyphs" >Anti IL-12 + IMQ topical &amp; oral</text>
<text x="556.80" y="700.15" font-size="8.4" text-anchor="middle" textLength="95.40" lengthAdjust="spacingAndGlyphs" transform="rotate(-90 556.80 700.15)" >Necrosis (% tumor area)</text>
<line x1="579.10" y1="640.10" x2="579.10" y2="760.20" stroke="#7a7a7a" stroke-width="0.7" />
<line x1="575.50" y1="760.20" x2="579.10" y2="760.20" stroke="#7a7a7a" stroke-width="0.7" />
<text x="572.60" y="762.65" font-size="8.0" text-anchor="end" >0</text>
<line x1="575.50" y1="736.18" x2="579.10" y2="736.18" stroke="#7a7a7a" stroke-width="0.7" />
<text x="572.60" y="738.63" font-size="8.0" text-anchor="end" >10</text>
<line x1="575.50" y1="712.16" x2="579.10" y2="712.16" stroke="#7a7a7a" stroke-width="0.7" />
<text x="572.60" y="714.61" font-size="8.0" text-anchor="end" >20</text>
<line x1="575.50" y1="688.14" x2="579.10" y2="688.14" stroke="#7a7a7a" stroke-width="0.7" />
<text x="572.60" y="690.59" font-size="8.0" text-anchor="end" >30</text>
<line x1="575.50" y1="664.12" x2="579.10" y2="664.12" stroke="#7a7a7a" stroke-width="0.7" />
<text x="572.60" y="666.57" font-size="8.0" text-anchor="end" >40</text>
<line x1="575.50" y1="640.10" x2="579.10" y2="640.10" stroke="#7a7a7a" stroke-width="0.7" />
<text x="572.60" y="642.55" font-size="8.0" text-anchor="end" >50</text>
<path d="M591.30,760.20 V709.00 H613.80 V760.20" fill="#fff" stroke="#6a6a6a" stroke-width="0.7"/>
<path d="M625.40,760.20 V745.50 H648.00 V760.20" fill="#fff" stroke="#6a6a6a" stroke-width="0.7"/>
<line x1="579.10" y1="760.20" x2="660.10" y2="760.20" stroke="#7a7a7a" stroke-width="0.7" />
<circle cx="602.30" cy="674.30" r="2.84" fill="#d8d8d8" stroke="#333333" stroke-width="0.55"/>
<circle cx="602.30" cy="693.10" r="2.84" fill="#d8d8d8" stroke="#333333" stroke-width="0.55"/>
<circle cx="592.70" cy="733.60" r="2.84" fill="#d8d8d8" stroke="#333333" stroke-width="0.55"/>
<circle cx="611.50" cy="733.60" r="2.84" fill="#d8d8d8" stroke="#333333" stroke-width="0.55"/>
<line x1="602.55" y1="693.10" x2="602.55" y2="723.50" stroke="#444" stroke-width="0.6" />
<line x1="600.35" y1="693.10" x2="604.75" y2="693.10" stroke="#444" stroke-width="0.6" />
<line x1="600.35" y1="723.50" x2="604.75" y2="723.50" stroke="#444" stroke-width="0.6" />
<rect x="634.47" y="725.87" width="5.06" height="5.06" fill="#e98c91" stroke="#333333" stroke-width="0.5"/>
<rect x="634.47" y="731.97" width="5.06" height="5.06" fill="#e98c91" stroke="#333333" stroke-width="0.5"/>
<rect x="625.47" y="752.77" width="5.06" height="5.06" fill="#e98c91" stroke="#333333" stroke-width="0.5"/>
<rect x="634.47" y="751.37" width="5.06" height="5.06" fill="#e98c91" stroke="#333333" stroke-width="0.5"/>
<rect x="643.77" y="752.77" width="5.06" height="5.06" fill="#e98c91" stroke="#333333" stroke-width="0.5"/>
<line x1="636.70" y1="739.40" x2="636.70" y2="752.40" stroke="#444" stroke-width="0.6" />
<line x1="634.50" y1="739.40" x2="638.90" y2="739.40" stroke="#444" stroke-width="0.6" />
<line x1="634.50" y1="752.40" x2="638.90" y2="752.40" stroke="#444" stroke-width="0.6" />
<line x1="600.80" y1="665.00" x2="638.40" y2="665.00" stroke="#8a8a8a" stroke-width="0.75" />
<text x="619.60" y="661.90" font-size="7.4" text-anchor="middle" textLength="37.00" lengthAdjust="spacingAndGlyphs" ><tspan font-style="italic">P</tspan> = 0.0400</text>
</svg></body></html>
